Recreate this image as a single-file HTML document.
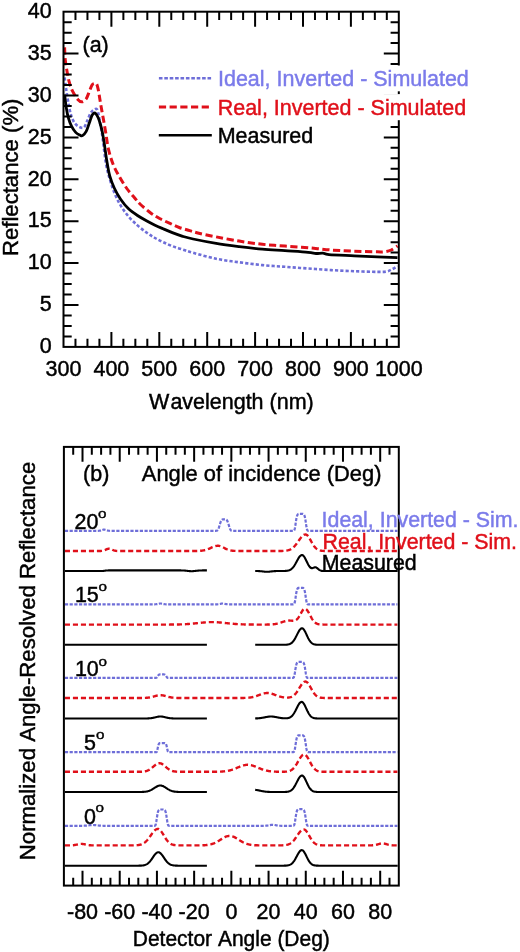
<!DOCTYPE html>
<html><head><meta charset="utf-8"><style>
html,body{margin:0;padding:0;background:#fff;}
svg{display:block;font-family:"Liberation Sans", sans-serif;will-change:transform}text{stroke-width:0.45px;font-kerning:none}
</style></head><body>
<svg width="520" height="952" viewBox="0 0 520 952">
<rect width="520" height="952" fill="#fff"/>
<path d="M64.60,77.50 C64.77,78.75 65.27,82.58 65.60,85.00 C65.93,87.42 66.12,88.92 66.60,92.00 C67.08,95.08 67.78,99.73 68.50,103.50 C69.22,107.27 69.88,111.35 70.90,114.60 C71.92,117.85 73.10,120.90 74.60,123.00 C76.10,125.10 78.32,126.50 79.90,127.20 C81.48,127.90 82.88,128.25 84.10,127.20 C85.32,126.15 86.15,123.18 87.20,120.90 C88.25,118.62 89.35,115.33 90.40,113.50 C91.45,111.67 92.40,110.60 93.50,109.90 C94.60,109.20 96.12,108.35 97.00,109.30 C97.88,110.25 98.25,113.15 98.80,115.60 C99.35,118.05 99.83,121.43 100.30,124.00 C100.77,126.57 101.12,127.92 101.60,131.00 C102.08,134.08 102.47,137.03 103.20,142.50 C103.93,147.97 104.90,157.68 106.00,163.80 C107.10,169.92 108.38,174.32 109.80,179.20 C111.22,184.08 112.70,188.73 114.50,193.10 C116.30,197.47 118.30,201.55 120.60,205.40 C122.90,209.25 125.48,212.87 128.30,216.20 C131.12,219.53 134.40,222.63 137.50,225.40 C140.60,228.17 143.98,230.70 146.90,232.80 C149.82,234.90 152.30,236.45 155.00,238.00 C157.70,239.55 160.22,240.75 163.10,242.10 C165.98,243.45 169.03,244.85 172.30,246.10 C175.57,247.35 179.23,248.48 182.70,249.60 C186.17,250.72 187.52,251.27 193.10,252.80 C198.68,254.33 208.52,257.22 216.20,258.80 C223.88,260.38 231.52,261.25 239.20,262.30 C246.88,263.35 254.67,264.35 262.30,265.10 C269.93,265.85 277.37,266.23 285.00,266.80 C292.63,267.37 300.40,267.95 308.10,268.50 C315.80,269.05 323.52,269.65 331.20,270.10 C338.88,270.55 346.52,270.90 354.20,271.20 C361.88,271.50 371.92,271.85 377.30,271.90 C382.68,271.95 384.00,271.95 386.50,271.50 C389.00,271.05 390.47,270.12 392.30,269.20 C394.13,268.28 396.63,266.53 397.50,266.00" fill="none" stroke="#6e6ed8" stroke-width="2.6" stroke-dasharray="3.2 2.1"/>
<path d="M64.60,47.40 C64.70,49.42 64.83,55.72 65.20,59.50 C65.57,63.28 66.17,66.48 66.80,70.10 C67.43,73.72 68.08,77.77 69.00,81.20 C69.92,84.63 70.83,87.67 72.30,90.70 C73.77,93.73 76.18,97.55 77.80,99.40 C79.42,101.25 80.60,101.90 82.00,101.80 C83.40,101.70 84.98,100.52 86.20,98.80 C87.42,97.08 88.35,93.77 89.30,91.50 C90.25,89.23 91.12,86.52 91.90,85.20 C92.68,83.88 93.23,83.83 94.00,83.60 C94.77,83.37 95.80,82.83 96.50,83.80 C97.20,84.77 97.65,86.90 98.20,89.40 C98.75,91.90 99.27,95.65 99.80,98.80 C100.33,101.95 100.78,104.80 101.40,108.30 C102.02,111.80 102.77,115.68 103.50,119.80 C104.23,123.92 105.00,128.22 105.80,133.00 C106.60,137.78 107.12,143.37 108.30,148.50 C109.48,153.63 111.10,159.18 112.90,163.80 C114.70,168.42 116.78,172.08 119.10,176.20 C121.42,180.32 124.23,184.92 126.80,188.50 C129.37,192.08 132.30,195.12 134.50,197.70 C136.70,200.28 137.35,201.50 140.00,204.00 C142.65,206.50 147.13,210.28 150.40,212.70 C153.67,215.12 156.33,216.72 159.60,218.50 C162.87,220.28 166.73,221.90 170.00,223.40 C173.27,224.90 175.93,226.30 179.20,227.50 C182.47,228.70 186.33,229.65 189.60,230.60 C192.87,231.55 194.37,232.15 198.80,233.20 C203.23,234.25 209.47,235.58 216.20,236.90 C222.93,238.22 231.52,239.87 239.20,241.10 C246.88,242.33 254.67,243.47 262.30,244.30 C269.93,245.13 277.37,245.53 285.00,246.10 C292.63,246.67 300.40,247.05 308.10,247.70 C315.80,248.35 323.52,249.42 331.20,250.00 C338.88,250.58 346.52,250.90 354.20,251.20 C361.88,251.50 372.30,251.70 377.30,251.80 C382.30,251.90 381.88,252.10 384.20,251.80 C386.52,251.50 388.98,250.97 391.20,250.00 C393.42,249.03 396.45,246.67 397.50,246.00" fill="none" stroke="#e0101a" stroke-width="3" stroke-dasharray="7.2 3.5"/>
<path d="M64.60,94.60 C64.87,96.70 65.58,103.35 66.20,107.20 C66.82,111.05 67.42,114.55 68.30,117.70 C69.18,120.85 70.27,123.65 71.50,126.10 C72.73,128.55 74.30,130.90 75.70,132.40 C77.10,133.90 78.77,134.57 79.90,135.10 C81.03,135.63 81.45,136.22 82.50,135.60 C83.55,134.98 85.07,133.50 86.20,131.40 C87.33,129.30 88.35,125.63 89.30,123.00 C90.25,120.37 91.15,117.22 91.90,115.60 C92.65,113.98 93.18,113.65 93.80,113.30 C94.42,112.95 94.87,112.77 95.60,113.50 C96.33,114.23 97.42,115.95 98.20,117.70 C98.98,119.45 99.62,121.62 100.30,124.00 C100.98,126.38 101.65,128.83 102.30,132.00 C102.95,135.17 103.45,138.20 104.20,143.00 C104.95,147.80 105.87,155.27 106.80,160.80 C107.73,166.33 108.52,171.58 109.80,176.20 C111.08,180.82 112.70,184.67 114.50,188.50 C116.30,192.33 118.30,195.87 120.60,199.20 C122.90,202.53 125.48,205.78 128.30,208.50 C131.12,211.22 134.40,213.42 137.50,215.50 C140.60,217.58 143.98,219.38 146.90,221.00 C149.82,222.62 152.30,223.90 155.00,225.20 C157.70,226.50 160.22,227.57 163.10,228.80 C165.98,230.03 169.03,231.35 172.30,232.60 C175.57,233.85 179.23,235.23 182.70,236.30 C186.17,237.37 187.52,237.82 193.10,239.00 C198.68,240.18 208.52,242.13 216.20,243.40 C223.88,244.67 231.52,245.63 239.20,246.60 C246.88,247.57 254.67,248.52 262.30,249.20 C269.93,249.88 277.37,250.18 285.00,250.70 C292.63,251.22 302.93,251.83 308.10,252.30 C313.27,252.77 313.55,253.37 316.00,253.50 C318.45,253.63 320.63,252.92 322.80,253.10 C324.97,253.28 323.77,254.15 329.00,254.60 C334.23,255.05 346.15,255.42 354.20,255.80 C362.25,256.18 370.08,256.60 377.30,256.90 C384.52,257.20 394.13,257.48 397.50,257.60" fill="none" stroke="#000" stroke-width="2.8"/>
<path d="M75.47,346.90V338.70M75.47,11.70V19.90M87.45,346.90V338.70M87.45,11.70V19.90M99.42,346.90V338.70M99.42,11.70V19.90M111.40,346.90V331.90M111.40,11.70V26.70M123.38,346.90V338.70M123.38,11.70V19.90M135.35,346.90V338.70M135.35,11.70V19.90M147.32,346.90V338.70M147.32,11.70V19.90M159.30,346.90V331.90M159.30,11.70V26.70M171.28,346.90V338.70M171.28,11.70V19.90M183.25,346.90V338.70M183.25,11.70V19.90M195.22,346.90V338.70M195.22,11.70V19.90M207.20,346.90V331.90M207.20,11.70V26.70M219.18,346.90V338.70M219.18,11.70V19.90M231.15,346.90V338.70M231.15,11.70V19.90M243.12,346.90V338.70M243.12,11.70V19.90M255.10,346.90V331.90M255.10,11.70V26.70M267.07,346.90V338.70M267.07,11.70V19.90M279.05,346.90V338.70M279.05,11.70V19.90M291.02,346.90V338.70M291.02,11.70V19.90M303.00,346.90V331.90M303.00,11.70V26.70M314.98,346.90V338.70M314.98,11.70V19.90M326.95,346.90V338.70M326.95,11.70V19.90M338.93,346.90V338.70M338.93,11.70V19.90M350.90,346.90V331.90M350.90,11.70V26.70M362.88,346.90V338.70M362.88,11.70V19.90M374.85,346.90V338.70M374.85,11.70V19.90M386.82,346.90V338.70M386.82,11.70V19.90M63.50,336.42H71.70M398.80,336.42H390.60M63.50,325.95H71.70M398.80,325.95H390.60M63.50,315.47H71.70M398.80,315.47H390.60M63.50,305.00H78.50M398.80,305.00H383.80M63.50,294.52H71.70M398.80,294.52H390.60M63.50,284.05H71.70M398.80,284.05H390.60M63.50,273.57H71.70M398.80,273.57H390.60M63.50,263.10H78.50M398.80,263.10H383.80M63.50,252.62H71.70M398.80,252.62H390.60M63.50,242.15H71.70M398.80,242.15H390.60M63.50,231.67H71.70M398.80,231.67H390.60M63.50,221.20H78.50M398.80,221.20H383.80M63.50,210.72H71.70M398.80,210.72H390.60M63.50,200.25H71.70M398.80,200.25H390.60M63.50,189.77H71.70M398.80,189.77H390.60M63.50,179.30H78.50M398.80,179.30H383.80M63.50,168.82H71.70M398.80,168.82H390.60M63.50,158.35H71.70M398.80,158.35H390.60M63.50,147.87H71.70M398.80,147.87H390.60M63.50,137.40H78.50M398.80,137.40H383.80M63.50,126.92H71.70M398.80,126.92H390.60M63.50,116.45H71.70M398.80,116.45H390.60M63.50,105.97H71.70M398.80,105.97H390.60M63.50,95.50H78.50M398.80,95.50H383.80M63.50,85.02H71.70M398.80,85.02H390.60M63.50,74.55H71.70M398.80,74.55H390.60M63.50,64.07H71.70M398.80,64.07H390.60M63.50,53.60H78.50M398.80,53.60H383.80M63.50,43.12H71.70M398.80,43.12H390.60M63.50,32.65H71.70M398.80,32.65H390.60M63.50,22.17H71.70M398.80,22.17H390.60" fill="none" stroke="#000" stroke-width="2"/>
<rect x="63.50" y="11.70" width="335.30" height="335.20" fill="none" stroke="#000" stroke-width="2"/>
<text transform="translate(63.50,376.00) scale(1,1.030)" text-anchor="middle" fill="#000" stroke="#000" font-size="21.50" >300</text>
<text transform="translate(111.40,376.00) scale(1,1.030)" text-anchor="middle" fill="#000" stroke="#000" font-size="21.50" >400</text>
<text transform="translate(159.30,376.00) scale(1,1.030)" text-anchor="middle" fill="#000" stroke="#000" font-size="21.50" >500</text>
<text transform="translate(207.20,376.00) scale(1,1.030)" text-anchor="middle" fill="#000" stroke="#000" font-size="21.50" >600</text>
<text transform="translate(255.10,376.00) scale(1,1.030)" text-anchor="middle" fill="#000" stroke="#000" font-size="21.50" >700</text>
<text transform="translate(303.00,376.00) scale(1,1.030)" text-anchor="middle" fill="#000" stroke="#000" font-size="21.50" >800</text>
<text transform="translate(350.90,376.00) scale(1,1.030)" text-anchor="middle" fill="#000" stroke="#000" font-size="21.50" >900</text>
<text transform="translate(398.80,376.00) scale(1,1.030)" text-anchor="middle" fill="#000" stroke="#000" font-size="21.50" >1000</text>
<text transform="translate(51.60,352.90) scale(1,1.030)" text-anchor="end" fill="#000" stroke="#000" font-size="21.50" >0</text>
<text transform="translate(51.60,311.05) scale(1,1.030)" text-anchor="end" fill="#000" stroke="#000" font-size="21.50" >5</text>
<text transform="translate(51.60,269.20) scale(1,1.030)" text-anchor="end" fill="#000" stroke="#000" font-size="21.50" >10</text>
<text transform="translate(51.60,227.35) scale(1,1.030)" text-anchor="end" fill="#000" stroke="#000" font-size="21.50" >15</text>
<text transform="translate(51.60,185.50) scale(1,1.030)" text-anchor="end" fill="#000" stroke="#000" font-size="21.50" >20</text>
<text transform="translate(51.60,143.65) scale(1,1.030)" text-anchor="end" fill="#000" stroke="#000" font-size="21.50" >25</text>
<text transform="translate(51.60,101.80) scale(1,1.030)" text-anchor="end" fill="#000" stroke="#000" font-size="21.50" >30</text>
<text transform="translate(51.60,59.95) scale(1,1.030)" text-anchor="end" fill="#000" stroke="#000" font-size="21.50" >35</text>
<text transform="translate(51.60,18.10) scale(1,1.030)" text-anchor="end" fill="#000" stroke="#000" font-size="21.50" >40</text>
<text transform="translate(231.30,408.80) scale(1,1.030)" text-anchor="middle" fill="#000" stroke="#000" font-size="21.50" >W<tspan dx="1.2">avelength (nm)</tspan></text>
<text transform="translate(18.3,177.3) rotate(-90) scale(1.030,1)" text-anchor="middle" stroke="#000" font-size="21.50">Reflectance (%)</text>
<text transform="translate(82.50,52.00) scale(1,1.030)" text-anchor="start" fill="#000" stroke="#000" font-size="21.50" >(a)</text>
<rect x="214" y="65.5" width="260" height="25.8" fill="#fff"/>
<rect x="214" y="94.1" width="260" height="26.1" fill="#fff"/>
<path d="M158.9,78.3H211.3" stroke="#6e6ed8" stroke-width="2.6" stroke-dasharray="3.6 1.8"/>
<path d="M158.9,107.0H211.3" stroke="#e0101a" stroke-width="3" stroke-dasharray="7.2 3.5"/>
<path d="M158.8,135.2H211.8" stroke="#000" stroke-width="2.5"/>
<text transform="translate(218.00,86.00) scale(1,1.030)" text-anchor="start" fill="#7b7bea" stroke="#7b7bea" font-size="21.50" >Ideal, Inverted - Simulated</text>
<text transform="translate(217.70,114.70) scale(1,1.030)" text-anchor="start" fill="#e0101a" stroke="#e0101a" font-size="21.50" >Real, Inverted - Simulated</text>
<text transform="translate(217.70,142.80) scale(1,1.030)" text-anchor="start" fill="#000" stroke="#000" font-size="21.50" >Measured</text>
<path d="M64.90,530.80 L65.40,530.80 L65.90,530.80 L66.40,530.80 L66.90,530.80 L67.40,530.80 L67.90,530.80 L68.40,530.80 L68.90,530.80 L69.40,530.80 L69.90,530.80 L70.40,530.80 L70.90,530.80 L71.40,530.80 L71.90,530.80 L72.40,530.80 L72.90,530.80 L73.40,530.80 L73.90,530.80 L74.40,530.80 L74.90,530.80 L75.40,530.80 L75.90,530.80 L76.40,530.80 L76.90,530.80 L77.40,530.80 L77.90,530.80 L78.40,530.80 L78.90,530.80 L79.40,530.80 L79.90,530.80 L80.40,530.80 L80.90,530.80 L81.40,530.80 L81.90,530.80 L82.40,530.80 L82.90,530.80 L83.40,530.80 L83.90,530.80 L84.40,530.80 L84.90,530.80 L85.40,530.80 L85.90,530.80 L86.40,530.80 L86.90,530.80 L87.40,530.80 L87.90,530.80 L88.40,530.80 L88.90,530.80 L89.40,530.80 L89.90,530.80 L90.40,530.80 L90.90,530.80 L91.40,530.80 L91.90,530.80 L92.40,530.80 L92.90,530.80 L93.40,530.80 L93.90,530.80 L94.40,530.80 L94.90,530.80 L95.40,530.80 L95.90,530.80 L96.40,530.80 L96.90,530.80 L97.40,530.79 L97.90,530.79 L98.40,530.78 L98.90,530.75 L99.40,530.71 L99.90,530.65 L100.40,530.56 L100.90,530.44 L101.40,530.28 L101.90,530.11 L102.40,529.93 L102.90,529.77 L103.40,529.65 L103.90,529.60 L104.40,529.62 L104.90,529.72 L105.40,529.86 L105.90,530.04 L106.40,530.22 L106.90,530.38 L107.40,530.52 L107.90,530.62 L108.40,530.69 L108.90,530.74 L109.40,530.77 L109.90,530.78 L110.40,530.79 L110.90,530.80 L111.40,530.80 L111.90,530.80 L112.40,530.80 L112.90,530.80 L113.40,530.80 L113.90,530.80 L114.40,530.80 L114.90,530.80 L115.40,530.80 L115.90,530.80 L116.40,530.80 L116.90,530.80 L117.40,530.80 L117.90,530.80 L118.40,530.80 L118.90,530.80 L119.40,530.80 L119.90,530.80 L120.40,530.80 L120.90,530.80 L121.40,530.80 L121.90,530.80 L122.40,530.80 L122.90,530.80 L123.40,530.80 L123.90,530.80 L124.40,530.80 L124.90,530.80 L125.40,530.80 L125.90,530.80 L126.40,530.80 L126.90,530.80 L127.40,530.80 L127.90,530.80 L128.40,530.80 L128.90,530.80 L129.40,530.80 L129.90,530.80 L130.40,530.80 L130.90,530.80 L131.40,530.80 L131.90,530.80 L132.40,530.80 L132.90,530.80 L133.40,530.80 L133.90,530.80 L134.40,530.80 L134.90,530.80 L135.40,530.80 L135.90,530.80 L136.40,530.80 L136.90,530.80 L137.40,530.80 L137.90,530.80 L138.40,530.80 L138.90,530.80 L139.40,530.80 L139.90,530.80 L140.40,530.80 L140.90,530.80 L141.40,530.80 L141.90,530.80 L142.40,530.80 L142.90,530.80 L143.40,530.80 L143.90,530.80 L144.40,530.80 L144.90,530.80 L145.40,530.80 L145.90,530.80 L146.40,530.80 L146.90,530.80 L147.40,530.80 L147.90,530.80 L148.40,530.80 L148.90,530.80 L149.40,530.80 L149.90,530.80 L150.40,530.80 L150.90,530.80 L151.40,530.80 L151.90,530.80 L152.40,530.80 L152.90,530.80 L153.40,530.80 L153.90,530.80 L154.40,530.80 L154.90,530.80 L155.40,530.80 L155.90,530.80 L156.40,530.80 L156.90,530.80 L157.40,530.80 L157.90,530.80 L158.40,530.80 L158.90,530.80 L159.40,530.80 L159.90,530.80 L160.40,530.80 L160.90,530.80 L161.40,530.80 L161.90,530.80 L162.40,530.80 L162.90,530.80 L163.40,530.80 L163.90,530.80 L164.40,530.80 L164.90,530.80 L165.40,530.80 L165.90,530.80 L166.40,530.80 L166.90,530.80 L167.40,530.80 L167.90,530.80 L168.40,530.80 L168.90,530.80 L169.40,530.80 L169.90,530.80 L170.40,530.80 L170.90,530.80 L171.40,530.80 L171.90,530.80 L172.40,530.80 L172.90,530.80 L173.40,530.80 L173.90,530.80 L174.40,530.80 L174.90,530.80 L175.40,530.80 L175.90,530.80 L176.40,530.80 L176.90,530.80 L177.40,530.80 L177.90,530.80 L178.40,530.80 L178.90,530.80 L179.40,530.80 L179.90,530.80 L180.40,530.80 L180.90,530.80 L181.40,530.80 L181.90,530.80 L182.40,530.80 L182.90,530.80 L183.40,530.80 L183.90,530.80 L184.40,530.80 L184.90,530.80 L185.40,530.80 L185.90,530.80 L186.40,530.80 L186.90,530.80 L187.40,530.80 L187.90,530.80 L188.40,530.80 L188.90,530.80 L189.40,530.80 L189.90,530.80 L190.40,530.80 L190.90,530.80 L191.40,530.80 L191.90,530.80 L192.40,530.80 L192.90,530.80 L193.40,530.80 L193.90,530.80 L194.40,530.80 L194.90,530.80 L195.40,530.80 L195.90,530.80 L196.40,530.80 L196.90,530.80 L197.40,530.80 L197.90,530.80 L198.40,530.80 L198.90,530.80 L199.40,530.80 L199.90,530.80 L200.40,530.80 L200.90,530.80 L201.40,530.80 L201.90,530.80 L202.40,530.80 L202.90,530.80 L203.40,530.80 L203.90,530.80 L204.40,530.80 L204.90,530.80 L205.40,530.80 L205.90,530.80 L206.40,530.80 L206.90,530.80 L207.40,530.80 L207.90,530.80 L208.40,530.80 L208.90,530.80 L209.40,530.80 L209.90,530.80 L210.40,530.80 L210.90,530.80 L211.40,530.80 L211.90,530.80 L212.40,530.80 L212.90,530.80 L213.40,530.80 L213.90,530.80 L214.40,530.80 L214.90,530.80 L215.40,530.80 L215.90,530.79 L216.40,530.77 L216.90,530.68 L217.40,530.42 L217.90,529.88 L218.40,528.92 L218.90,527.55 L219.40,525.88 L219.90,524.15 L220.40,522.56 L220.90,521.29 L221.40,520.38 L221.90,519.80 L222.40,519.49 L222.90,519.35 L223.40,519.31 L223.90,519.30 L224.40,519.30 L224.90,519.30 L225.40,519.34 L225.90,519.45 L226.40,519.72 L226.90,520.24 L227.40,521.08 L227.90,522.28 L228.40,523.81 L228.90,525.53 L229.40,527.23 L229.90,528.68 L230.40,529.72 L230.90,530.34 L231.40,530.64 L231.90,530.76 L232.40,530.79 L232.90,530.80 L233.40,530.80 L233.90,530.80 L234.40,530.80 L234.90,530.80 L235.40,530.80 L235.90,530.80 L236.40,530.80 L236.90,530.80 L237.40,530.80 L237.90,530.80 L238.40,530.80 L238.90,530.80 L239.40,530.80 L239.90,530.80 L240.40,530.80 L240.90,530.80 L241.40,530.80 L241.90,530.80 L242.40,530.80 L242.90,530.80 L243.40,530.80 L243.90,530.80 L244.40,530.80 L244.90,530.80 L245.40,530.80 L245.90,530.80 L246.40,530.80 L246.90,530.80 L247.40,530.80 L247.90,530.80 L248.40,530.80 L248.90,530.80 L249.40,530.80 L249.90,530.80 L250.40,530.80 L250.90,530.80 L251.40,530.80 L251.90,530.80 L252.40,530.80 L252.90,530.80 L253.40,530.80 L253.90,530.80 L254.40,530.80 L254.90,530.80 L255.40,530.80 L255.90,530.80 L256.40,530.80 L256.90,530.80 L257.40,530.80 L257.90,530.80 L258.40,530.80 L258.90,530.80 L259.40,530.80 L259.90,530.80 L260.40,530.80 L260.90,530.80 L261.40,530.80 L261.90,530.80 L262.40,530.80 L262.90,530.80 L263.40,530.80 L263.90,530.80 L264.40,530.80 L264.90,530.80 L265.40,530.80 L265.90,530.80 L266.40,530.80 L266.90,530.80 L267.40,530.80 L267.90,530.80 L268.40,530.80 L268.90,530.80 L269.40,530.80 L269.90,530.80 L270.40,530.80 L270.90,530.80 L271.40,530.80 L271.90,530.80 L272.40,530.80 L272.90,530.80 L273.40,530.80 L273.90,530.80 L274.40,530.80 L274.90,530.80 L275.40,530.80 L275.90,530.80 L276.40,530.80 L276.90,530.80 L277.40,530.80 L277.90,530.80 L278.40,530.80 L278.90,530.80 L279.40,530.80 L279.90,530.80 L280.40,530.80 L280.90,530.80 L281.40,530.80 L281.90,530.80 L282.40,530.80 L282.90,530.80 L283.40,530.80 L283.90,530.80 L284.40,530.80 L284.90,530.80 L285.40,530.80 L285.90,530.80 L286.40,530.80 L286.90,530.80 L287.40,530.80 L287.90,530.80 L288.40,530.80 L288.90,530.80 L289.40,530.80 L289.90,530.80 L290.40,530.80 L290.90,530.80 L291.40,530.80 L291.90,530.80 L292.40,530.80 L292.90,530.80 L293.40,530.79 L293.90,530.67 L294.40,530.03 L294.90,528.27 L295.40,525.25 L295.90,521.70 L296.40,518.55 L296.90,516.30 L297.40,514.94 L297.90,514.25 L298.40,513.95 L298.90,513.84 L299.40,513.81 L299.90,513.80 L300.40,513.80 L300.90,513.80 L301.40,513.80 L301.90,513.80 L302.40,513.81 L302.90,513.87 L303.40,514.04 L303.90,514.47 L304.40,515.39 L304.90,517.08 L305.40,519.71 L305.90,523.11 L306.40,526.57 L306.90,529.14 L307.40,530.39 L307.90,530.75 L308.40,530.80 L308.90,530.80 L309.40,530.80 L309.90,530.80 L310.40,530.80 L310.90,530.80 L311.40,530.80 L311.90,530.80 L312.40,530.80 L312.90,530.80 L313.40,530.80 L313.90,530.80 L314.40,530.80 L314.90,530.80 L315.40,530.80 L315.90,530.80 L316.40,530.80 L316.90,530.80 L317.40,530.80 L317.90,530.80 L318.40,530.80 L318.90,530.80 L319.40,530.80 L319.90,530.80 L320.40,530.80 L320.90,530.80 L321.40,530.80 L321.90,530.80 L322.40,530.80 L322.90,530.80 L323.40,530.80 L323.90,530.80 L324.40,530.80 L324.90,530.80 L325.40,530.80 L325.90,530.80 L326.40,530.80 L326.90,530.80 L327.40,530.80 L327.90,530.80 L328.40,530.80 L328.90,530.80 L329.40,530.80 L329.90,530.80 L330.40,530.80 L330.90,530.80 L331.40,530.80 L331.90,530.80 L332.40,530.80 L332.90,530.80 L333.40,530.80 L333.90,530.80 L334.40,530.80 L334.90,530.80 L335.40,530.80 L335.90,530.80 L336.40,530.80 L336.90,530.80 L337.40,530.80 L337.90,530.80 L338.40,530.80 L338.90,530.80 L339.40,530.80 L339.90,530.80 L340.40,530.80 L340.90,530.80 L341.40,530.80 L341.90,530.80 L342.40,530.80 L342.90,530.80 L343.40,530.80 L343.90,530.80 L344.40,530.80 L344.90,530.80 L345.40,530.80 L345.90,530.80 L346.40,530.80 L346.90,530.80 L347.40,530.80 L347.90,530.80 L348.40,530.80 L348.90,530.80 L349.40,530.80 L349.90,530.80 L350.40,530.80 L350.90,530.80 L351.40,530.80 L351.90,530.80 L352.40,530.80 L352.90,530.80 L353.40,530.80 L353.90,530.80 L354.40,530.80 L354.90,530.80 L355.40,530.80 L355.90,530.80 L356.40,530.80 L356.90,530.80 L357.40,530.80 L357.90,530.80 L358.40,530.80 L358.90,530.80 L359.40,530.80 L359.90,530.80 L360.40,530.80 L360.90,530.80 L361.40,530.80 L361.90,530.80 L362.40,530.80 L362.90,530.80 L363.40,530.80 L363.90,530.80 L364.40,530.80 L364.90,530.80 L365.40,530.80 L365.90,530.80 L366.40,530.80 L366.90,530.80 L367.40,530.80 L367.90,530.80 L368.40,530.80 L368.90,530.80 L369.40,530.80 L369.90,530.80 L370.40,530.80 L370.90,530.80 L371.40,530.80 L371.90,530.80 L372.40,530.80 L372.90,530.80 L373.40,530.80 L373.90,530.80 L374.40,530.80 L374.90,530.80 L375.40,530.80 L375.90,530.80 L376.40,530.80 L376.90,530.80 L377.40,530.80 L377.90,530.80 L378.40,530.80 L378.90,530.80 L379.40,530.80 L379.90,530.80 L380.40,530.80 L380.90,530.80 L381.40,530.80 L381.90,530.80 L382.40,530.80 L382.90,530.80 L383.40,530.80 L383.90,530.80 L384.40,530.80 L384.90,530.80 L385.40,530.80 L385.90,530.80 L386.40,530.80 L386.90,530.80 L387.40,530.80 L387.90,530.80 L388.40,530.80 L388.90,530.80 L389.40,530.80 L389.90,530.80 L390.40,530.80 L390.90,530.80 L391.40,530.80 L391.90,530.80 L392.40,530.80 L392.90,530.80 L393.40,530.80 L393.90,530.80 L394.40,530.80 L394.90,530.80 L395.40,530.80 L395.90,530.80 L396.40,530.80 L396.90,530.80 L397.40,530.80" fill="none" stroke="#6e6ed8" stroke-width="2.2" stroke-dasharray="3.2 1.5"/>
<path d="M64.90,551.00 L65.40,551.00 L65.90,551.00 L66.40,551.00 L66.90,551.00 L67.40,551.00 L67.90,551.00 L68.40,551.00 L68.90,551.00 L69.40,551.00 L69.90,551.00 L70.40,551.00 L70.90,551.00 L71.40,551.00 L71.90,551.00 L72.40,551.00 L72.90,551.00 L73.40,551.00 L73.90,551.00 L74.40,551.00 L74.90,551.00 L75.40,551.00 L75.90,551.00 L76.40,551.00 L76.90,551.00 L77.40,551.00 L77.90,551.00 L78.40,551.00 L78.90,551.00 L79.40,551.00 L79.90,551.00 L80.40,551.00 L80.90,551.00 L81.40,551.00 L81.90,551.00 L82.40,551.00 L82.90,551.00 L83.40,551.00 L83.90,551.00 L84.40,551.00 L84.90,551.00 L85.40,551.00 L85.90,551.00 L86.40,551.00 L86.90,551.00 L87.40,551.00 L87.90,551.00 L88.40,551.00 L88.90,551.00 L89.40,551.00 L89.90,551.00 L90.40,551.00 L90.90,551.00 L91.40,551.00 L91.90,551.00 L92.40,551.00 L92.90,551.00 L93.40,551.00 L93.90,551.00 L94.40,551.00 L94.90,551.00 L95.40,551.00 L95.90,551.00 L96.40,551.00 L96.90,551.00 L97.40,551.00 L97.90,551.00 L98.40,551.00 L98.90,550.99 L99.40,550.99 L99.90,550.98 L100.40,550.96 L100.90,550.94 L101.40,550.91 L101.90,550.86 L102.40,550.80 L102.90,550.71 L103.40,550.60 L103.90,550.46 L104.40,550.29 L104.90,550.10 L105.40,549.88 L105.90,549.65 L106.40,549.42 L106.90,549.20 L107.40,549.00 L107.90,548.85 L108.40,548.75 L108.90,548.70 L109.40,548.72 L109.90,548.80 L110.40,548.94 L110.90,549.12 L111.40,549.33 L111.90,549.56 L112.40,549.79 L112.90,550.01 L113.40,550.22 L113.90,550.39 L114.40,550.54 L114.90,550.67 L115.40,550.76 L115.90,550.84 L116.40,550.89 L116.90,550.93 L117.40,550.95 L117.90,550.97 L118.40,550.98 L118.90,550.99 L119.40,550.99 L119.90,551.00 L120.40,551.00 L120.90,551.00 L121.40,551.00 L121.90,551.00 L122.40,551.00 L122.90,551.00 L123.40,551.00 L123.90,551.00 L124.40,551.00 L124.90,551.00 L125.40,551.00 L125.90,551.00 L126.40,551.00 L126.90,551.00 L127.40,551.00 L127.90,551.00 L128.40,551.00 L128.90,551.00 L129.40,551.00 L129.90,551.00 L130.40,551.00 L130.90,551.00 L131.40,551.00 L131.90,551.00 L132.40,551.00 L132.90,551.00 L133.40,551.00 L133.90,551.00 L134.40,551.00 L134.90,551.00 L135.40,551.00 L135.90,551.00 L136.40,551.00 L136.90,551.00 L137.40,551.00 L137.90,551.00 L138.40,551.00 L138.90,551.00 L139.40,551.00 L139.90,551.00 L140.40,551.00 L140.90,551.00 L141.40,551.00 L141.90,551.00 L142.40,551.00 L142.90,551.00 L143.40,551.00 L143.90,551.00 L144.40,551.00 L144.90,551.00 L145.40,551.00 L145.90,551.00 L146.40,551.00 L146.90,551.00 L147.40,551.00 L147.90,551.00 L148.40,551.00 L148.90,551.00 L149.40,551.00 L149.90,551.00 L150.40,551.00 L150.90,551.00 L151.40,551.00 L151.90,551.00 L152.40,551.00 L152.90,551.00 L153.40,551.00 L153.90,551.00 L154.40,551.00 L154.90,551.00 L155.40,551.00 L155.90,551.00 L156.40,551.00 L156.90,551.00 L157.40,551.00 L157.90,551.00 L158.40,551.00 L158.90,551.00 L159.40,551.00 L159.90,551.00 L160.40,551.00 L160.90,551.00 L161.40,551.00 L161.90,551.00 L162.40,551.00 L162.90,551.00 L163.40,551.00 L163.90,551.00 L164.40,551.00 L164.90,551.00 L165.40,551.00 L165.90,551.00 L166.40,551.00 L166.90,551.00 L167.40,551.00 L167.90,551.00 L168.40,551.00 L168.90,551.00 L169.40,551.00 L169.90,551.00 L170.40,551.00 L170.90,551.00 L171.40,551.00 L171.90,551.00 L172.40,551.00 L172.90,551.00 L173.40,551.00 L173.90,551.00 L174.40,551.00 L174.90,551.00 L175.40,551.00 L175.90,551.00 L176.40,551.00 L176.90,551.00 L177.40,551.00 L177.90,551.00 L178.40,551.00 L178.90,551.00 L179.40,551.00 L179.90,551.00 L180.40,551.00 L180.90,551.00 L181.40,551.00 L181.90,551.00 L182.40,551.00 L182.90,551.00 L183.40,551.00 L183.90,551.00 L184.40,551.00 L184.90,551.00 L185.40,551.00 L185.90,551.00 L186.40,551.00 L186.90,551.00 L187.40,551.00 L187.90,551.00 L188.40,551.00 L188.90,551.00 L189.40,551.00 L189.90,551.00 L190.40,551.00 L190.90,551.00 L191.40,551.00 L191.90,551.00 L192.40,550.99 L192.90,550.99 L193.40,550.99 L193.90,550.99 L194.40,550.98 L194.90,550.98 L195.40,550.97 L195.90,550.96 L196.40,550.96 L196.90,550.94 L197.40,550.93 L197.90,550.92 L198.40,550.90 L198.90,550.87 L199.40,550.85 L199.90,550.82 L200.40,550.78 L200.90,550.74 L201.40,550.69 L201.90,550.63 L202.40,550.57 L202.90,550.49 L203.40,550.41 L203.90,550.32 L204.40,550.21 L204.90,550.10 L205.40,549.97 L205.90,549.83 L206.40,549.68 L206.90,549.52 L207.40,549.35 L207.90,549.16 L208.40,548.97 L208.90,548.77 L209.40,548.56 L209.90,548.34 L210.40,548.12 L210.90,547.89 L211.40,547.67 L211.90,547.44 L212.40,547.22 L212.90,547.01 L213.40,546.81 L213.90,546.62 L214.40,546.44 L214.90,546.29 L215.40,546.15 L215.90,546.03 L216.40,545.93 L216.90,545.86 L217.40,545.82 L217.90,545.80 L218.40,545.81 L218.90,545.86 L219.40,545.94 L219.90,546.05 L220.40,546.20 L220.90,546.37 L221.40,546.57 L221.90,546.79 L222.40,547.03 L222.90,547.27 L223.40,547.53 L223.90,547.79 L224.40,548.06 L224.90,548.32 L225.40,548.57 L225.90,548.81 L226.40,549.05 L226.90,549.27 L227.40,549.48 L227.90,549.67 L228.40,549.84 L228.90,550.00 L229.40,550.14 L229.90,550.27 L230.40,550.39 L230.90,550.48 L231.40,550.57 L231.90,550.64 L232.40,550.71 L232.90,550.76 L233.40,550.81 L233.90,550.84 L234.40,550.88 L234.90,550.90 L235.40,550.92 L235.90,550.94 L236.40,550.95 L236.90,550.96 L237.40,550.97 L237.90,550.98 L238.40,550.98 L238.90,550.99 L239.40,550.99 L239.90,550.99 L240.40,551.00 L240.90,551.00 L241.40,551.00 L241.90,551.00 L242.40,551.00 L242.90,551.00 L243.40,551.00 L243.90,551.00 L244.40,551.00 L244.90,551.00 L245.40,551.00 L245.90,551.00 L246.40,551.00 L246.90,551.00 L247.40,551.00 L247.90,551.00 L248.40,551.00 L248.90,551.00 L249.40,551.00 L249.90,551.00 L250.40,551.00 L250.90,551.00 L251.40,551.00 L251.90,551.00 L252.40,551.00 L252.90,551.00 L253.40,551.00 L253.90,551.00 L254.40,551.00 L254.90,551.00 L255.40,551.00 L255.90,551.00 L256.40,551.00 L256.90,551.00 L257.40,551.00 L257.90,551.00 L258.40,551.00 L258.90,551.00 L259.40,551.00 L259.90,551.00 L260.40,551.00 L260.90,551.00 L261.40,551.00 L261.90,551.00 L262.40,551.00 L262.90,551.00 L263.40,551.00 L263.90,551.00 L264.40,551.00 L264.90,551.00 L265.40,551.00 L265.90,551.00 L266.40,551.00 L266.90,551.00 L267.40,551.00 L267.90,551.00 L268.40,551.00 L268.90,551.00 L269.40,551.00 L269.90,551.00 L270.40,551.00 L270.90,551.00 L271.40,551.00 L271.90,551.00 L272.40,551.00 L272.90,551.00 L273.40,551.00 L273.90,551.00 L274.40,551.00 L274.90,551.00 L275.40,551.00 L275.90,551.00 L276.40,551.00 L276.90,551.00 L277.40,550.99 L277.90,550.99 L278.40,550.99 L278.90,550.99 L279.40,550.98 L279.90,550.98 L280.40,550.97 L280.90,550.97 L281.40,550.96 L281.90,550.94 L282.40,550.93 L282.90,550.91 L283.40,550.89 L283.90,550.86 L284.40,550.82 L284.90,550.78 L285.40,550.73 L285.90,550.67 L286.40,550.60 L286.90,550.52 L287.40,550.42 L287.90,550.30 L288.40,550.17 L288.90,550.01 L289.40,549.83 L289.90,549.62 L290.40,549.39 L290.90,549.13 L291.40,548.83 L291.90,548.50 L292.40,548.14 L292.90,547.73 L293.40,547.30 L293.90,546.82 L294.40,546.31 L294.90,545.76 L295.40,545.17 L295.90,544.56 L296.40,543.91 L296.90,543.24 L297.40,542.55 L297.90,541.85 L298.40,541.14 L298.90,540.42 L299.40,539.71 L299.90,539.02 L300.40,538.35 L300.90,537.70 L301.40,537.10 L301.90,536.54 L302.40,536.04 L302.90,535.60 L303.40,535.23 L303.90,534.93 L304.40,534.70 L304.90,534.56 L305.40,534.50 L305.90,534.54 L306.40,534.72 L306.90,535.03 L307.40,535.46 L307.90,536.00 L308.40,536.64 L308.90,537.37 L309.40,538.17 L309.90,539.02 L310.40,539.90 L310.90,540.81 L311.40,541.72 L311.90,542.62 L312.40,543.49 L312.90,544.33 L313.40,545.12 L313.90,545.86 L314.40,546.54 L314.90,547.17 L315.40,547.73 L315.90,548.24 L316.40,548.68 L316.90,549.07 L317.40,549.41 L317.90,549.70 L318.40,549.95 L318.90,550.15 L319.40,550.32 L319.90,550.46 L320.40,550.58 L320.90,550.67 L321.40,550.75 L321.90,550.81 L322.40,550.85 L322.90,550.89 L323.40,550.92 L323.90,550.94 L324.40,550.95 L324.90,550.97 L325.40,550.98 L325.90,550.98 L326.40,550.99 L326.90,550.99 L327.40,550.99 L327.90,551.00 L328.40,551.00 L328.90,551.00 L329.40,551.00 L329.90,551.00 L330.40,551.00 L330.90,551.00 L331.40,551.00 L331.90,551.00 L332.40,551.00 L332.90,551.00 L333.40,551.00 L333.90,551.00 L334.40,551.00 L334.90,551.00 L335.40,551.00 L335.90,551.00 L336.40,551.00 L336.90,551.00 L337.40,551.00 L337.90,551.00 L338.40,551.00 L338.90,551.00 L339.40,551.00 L339.90,551.00 L340.40,551.00 L340.90,551.00 L341.40,551.00 L341.90,551.00 L342.40,551.00 L342.90,551.00 L343.40,551.00 L343.90,551.00 L344.40,551.00 L344.90,551.00 L345.40,551.00 L345.90,551.00 L346.40,551.00 L346.90,551.00 L347.40,551.00 L347.90,551.00 L348.40,551.00 L348.90,551.00 L349.40,551.00 L349.90,551.00 L350.40,551.00 L350.90,551.00 L351.40,551.00 L351.90,551.00 L352.40,551.00 L352.90,551.00 L353.40,551.00 L353.90,551.00 L354.40,551.00 L354.90,551.00 L355.40,551.00 L355.90,551.00 L356.40,551.00 L356.90,551.00 L357.40,551.00 L357.90,551.00 L358.40,551.00 L358.90,551.00 L359.40,551.00 L359.90,551.00 L360.40,551.00 L360.90,551.00 L361.40,551.00 L361.90,551.00 L362.40,551.00 L362.90,551.00 L363.40,551.00 L363.90,551.00 L364.40,551.00 L364.90,551.00 L365.40,551.00 L365.90,551.00 L366.40,551.00 L366.90,551.00 L367.40,551.00 L367.90,551.00 L368.40,551.00 L368.90,551.00 L369.40,551.00 L369.90,551.00 L370.40,551.00 L370.90,551.00 L371.40,551.00 L371.90,551.00 L372.40,551.00 L372.90,551.00 L373.40,551.00 L373.90,551.00 L374.40,551.00 L374.90,551.00 L375.40,551.00 L375.90,551.00 L376.40,551.00 L376.90,551.00 L377.40,551.00 L377.90,551.00 L378.40,551.00 L378.90,551.00 L379.40,551.00 L379.90,551.00 L380.40,551.00 L380.90,551.00 L381.40,551.00 L381.90,551.00 L382.40,551.00 L382.90,551.00 L383.40,551.00 L383.90,551.00 L384.40,551.00 L384.90,551.00 L385.40,551.00 L385.90,551.00 L386.40,551.00 L386.90,551.00 L387.40,551.00 L387.90,551.00 L388.40,551.00 L388.90,551.00 L389.40,551.00 L389.90,551.00 L390.40,551.00 L390.90,551.00 L391.40,551.00 L391.90,551.00 L392.40,551.00 L392.90,551.00 L393.40,551.00 L393.90,551.00 L394.40,551.00 L394.90,551.00 L395.40,551.00 L395.90,551.00 L396.40,551.00 L396.90,551.00 L397.40,551.00" fill="none" stroke="#e0101a" stroke-width="2.4" stroke-dasharray="5.1 2.9"/>
<path d="M64.90,571.00 L65.40,571.00 L65.90,571.00 L66.40,571.00 L66.90,571.00 L67.40,571.00 L67.90,571.00 L68.40,571.00 L68.90,571.00 L69.40,571.00 L69.90,571.00 L70.40,571.00 L70.90,571.00 L71.40,571.00 L71.90,571.00 L72.40,571.00 L72.90,571.00 L73.40,571.00 L73.90,571.00 L74.40,571.00 L74.90,571.00 L75.40,571.00 L75.90,571.00 L76.40,571.00 L76.90,571.00 L77.40,571.00 L77.90,571.00 L78.40,571.00 L78.90,571.00 L79.40,571.00 L79.90,571.00 L80.40,571.00 L80.90,571.00 L81.40,571.00 L81.90,571.00 L82.40,571.00 L82.90,571.00 L83.40,571.00 L83.90,571.00 L84.40,571.00 L84.90,571.00 L85.40,571.00 L85.90,571.00 L86.40,571.00 L86.90,571.00 L87.40,571.00 L87.90,571.00 L88.40,571.00 L88.90,571.00 L89.40,571.00 L89.90,571.00 L90.40,571.00 L90.90,571.00 L91.40,571.00 L91.90,571.00 L92.40,571.00 L92.90,571.00 L93.40,571.00 L93.90,571.00 L94.40,571.00 L94.90,571.00 L95.40,571.00 L95.90,571.00 L96.40,571.00 L96.90,571.00 L97.40,571.00 L97.90,571.00 L98.40,571.00 L98.90,571.00 L99.40,571.00 L99.90,571.00 L100.40,570.99 L100.90,570.99 L101.40,570.98 L101.90,570.97 L102.40,570.96 L102.90,570.93 L103.40,570.90 L103.90,570.85 L104.40,570.79 L104.90,570.71 L105.40,570.64 L105.90,570.57 L106.40,570.52 L106.90,570.48 L107.40,570.45 L107.90,570.43 L108.40,570.42 L108.90,570.41 L109.40,570.41 L109.90,570.40 L110.40,570.40 L110.90,570.40 L111.40,570.40 L111.90,570.40 L112.40,570.40 L112.90,570.40 L113.40,570.40 L113.90,570.40 L114.40,570.40 L114.90,570.40 L115.40,570.40 L115.90,570.40 L116.40,570.40 L116.90,570.40 L117.40,570.40 L117.90,570.40 L118.40,570.40 L118.90,570.40 L119.40,570.40 L119.90,570.40 L120.40,570.40 L120.90,570.40 L121.40,570.40 L121.90,570.40 L122.40,570.40 L122.90,570.40 L123.40,570.40 L123.90,570.40 L124.40,570.40 L124.90,570.40 L125.40,570.40 L125.90,570.40 L126.40,570.40 L126.90,570.40 L127.40,570.40 L127.90,570.40 L128.40,570.40 L128.90,570.40 L129.40,570.40 L129.90,570.40 L130.40,570.40 L130.90,570.40 L131.40,570.40 L131.90,570.40 L132.40,570.40 L132.90,570.40 L133.40,570.40 L133.90,570.40 L134.40,570.40 L134.90,570.40 L135.40,570.40 L135.90,570.40 L136.40,570.40 L136.90,570.40 L137.40,570.40 L137.90,570.40 L138.40,570.40 L138.90,570.40 L139.40,570.40 L139.90,570.40 L140.40,570.40 L140.90,570.40 L141.40,570.40 L141.90,570.40 L142.40,570.40 L142.90,570.40 L143.40,570.40 L143.90,570.40 L144.40,570.40 L144.90,570.40 L145.40,570.40 L145.90,570.40 L146.40,570.40 L146.90,570.40 L147.40,570.40 L147.90,570.40 L148.40,570.40 L148.90,570.40 L149.40,570.40 L149.90,570.40 L150.40,570.40 L150.90,570.40 L151.40,570.40 L151.90,570.40 L152.40,570.40 L152.90,570.40 L153.40,570.40 L153.90,570.40 L154.40,570.40 L154.90,570.40 L155.40,570.40 L155.90,570.40 L156.40,570.40 L156.90,570.40 L157.40,570.40 L157.90,570.40 L158.40,570.40 L158.90,570.40 L159.40,570.40 L159.90,570.40 L160.40,570.40 L160.90,570.40 L161.40,570.40 L161.90,570.40 L162.40,570.40 L162.90,570.40 L163.40,570.40 L163.90,570.40 L164.40,570.40 L164.90,570.40 L165.40,570.40 L165.90,570.40 L166.40,570.40 L166.90,570.40 L167.40,570.40 L167.90,570.40 L168.40,570.40 L168.90,570.40 L169.40,570.40 L169.90,570.40 L170.40,570.40 L170.90,570.40 L171.40,570.40 L171.90,570.40 L172.40,570.40 L172.90,570.40 L173.40,570.40 L173.90,570.40 L174.40,570.40 L174.90,570.40 L175.40,570.40 L175.90,570.40 L176.40,570.40 L176.90,570.40 L177.40,570.40 L177.90,570.40 L178.40,570.40 L178.90,570.41 L179.40,570.41 L179.90,570.41 L180.40,570.42 L180.90,570.42 L181.40,570.43 L181.90,570.44 L182.40,570.46 L182.90,570.48 L183.40,570.50 L183.90,570.53 L184.40,570.57 L184.90,570.61 L185.40,570.65 L185.90,570.70 L186.40,570.75 L186.90,570.81 L187.40,570.87 L187.90,570.93 L188.40,570.99 L188.90,571.05 L189.40,571.10 L189.90,571.14 L190.40,571.17 L190.90,571.19 L191.40,571.20 L191.90,571.20 L192.40,571.18 L192.90,571.15 L193.40,571.11 L193.90,571.07 L194.40,571.02 L194.90,570.96 L195.40,570.90 L195.90,570.84 L196.40,570.78 L196.90,570.72 L197.40,570.67 L197.90,570.62 L198.40,570.58 L198.90,570.54 L199.40,570.51 L199.90,570.49 L200.40,570.47 L200.90,570.45 L201.40,570.44 L201.90,570.43 L202.40,570.42 L202.90,570.41 L203.40,570.41 L203.90,570.41 L204.40,570.40 L204.90,570.40 L205.40,570.40 L205.90,570.40 L206.40,570.40 L206.90,570.40" fill="none" stroke="#000" stroke-width="2.1"/>
<path d="M255.20,571.01 L255.70,571.01 L256.20,571.02 L256.70,571.03 L257.20,571.04 L257.70,571.05 L258.20,571.07 L258.70,571.09 L259.20,571.12 L259.70,571.15 L260.20,571.19 L260.70,571.23 L261.20,571.28 L261.70,571.33 L262.20,571.39 L262.70,571.45 L263.20,571.51 L263.70,571.57 L264.20,571.63 L264.70,571.68 L265.20,571.72 L265.70,571.76 L266.20,571.78 L266.70,571.80 L267.20,571.80 L267.70,571.79 L268.20,571.76 L268.70,571.73 L269.20,571.69 L269.70,571.64 L270.20,571.58 L270.70,571.52 L271.20,571.46 L271.70,571.40 L272.20,571.34 L272.70,571.29 L273.20,571.24 L273.70,571.20 L274.20,571.16 L274.70,571.13 L275.20,571.10 L275.70,571.08 L276.20,571.06 L276.70,571.04 L277.20,571.03 L277.70,571.02 L278.20,571.02 L278.70,571.01 L279.20,571.01 L279.70,571.00 L280.20,571.00 L280.70,571.00 L281.20,571.00 L281.70,570.99 L282.20,570.99 L282.70,570.98 L283.20,570.98 L283.70,570.97 L284.20,570.95 L284.70,570.94 L285.20,570.91 L285.70,570.88 L286.20,570.84 L286.70,570.79 L287.20,570.72 L287.70,570.64 L288.20,570.53 L288.70,570.39 L289.20,570.23 L289.70,570.02 L290.20,569.78 L290.70,569.49 L291.20,569.15 L291.70,568.75 L292.20,568.29 L292.70,567.77 L293.20,567.18 L293.70,566.52 L294.20,565.81 L294.70,565.03 L295.20,564.20 L295.70,563.32 L296.20,562.41 L296.70,561.48 L297.20,560.55 L297.70,559.63 L298.20,558.75 L298.70,557.92 L299.20,557.16 L299.70,556.49 L300.20,555.93 L300.70,555.49 L301.20,555.19 L301.70,555.03 L302.20,555.02 L302.70,555.18 L303.20,555.54 L303.70,556.06 L304.20,556.73 L304.70,557.53 L305.20,558.44 L305.70,559.42 L306.20,560.45 L306.70,561.50 L307.20,562.54 L307.70,563.55 L308.20,564.50 L308.70,565.37 L309.20,566.15 L309.70,566.82 L310.20,567.36 L310.70,567.77 L311.20,568.04 L311.70,568.17 L312.20,568.17 L312.70,568.06 L313.20,567.88 L313.70,567.67 L314.20,567.47 L314.70,567.32 L315.20,567.26 L315.70,567.32 L316.20,567.50 L316.70,567.78 L317.20,568.15 L317.70,568.58 L318.20,569.01 L318.70,569.44 L319.20,569.81 L319.70,570.14 L320.20,570.40 L320.70,570.59 L321.20,570.74 L321.70,570.84 L322.20,570.90 L322.70,570.94 L323.20,570.97 L323.70,570.98 L324.20,570.99 L324.70,571.00 L325.20,571.00 L325.70,571.00 L326.20,571.00 L326.70,571.00 L327.20,571.00 L327.70,571.00 L328.20,571.00 L328.70,571.00 L329.20,571.00 L329.70,571.00 L330.20,571.00 L330.70,571.00 L331.20,571.00 L331.70,571.00 L332.20,571.00 L332.70,571.00 L333.20,571.00 L333.70,571.00 L334.20,571.00 L334.70,571.00 L335.20,571.00 L335.70,571.00 L336.20,571.00 L336.70,571.00 L337.20,571.00 L337.70,571.00 L338.20,571.00 L338.70,571.00 L339.20,571.00 L339.70,571.00 L340.20,571.00 L340.70,571.00 L341.20,571.00 L341.70,571.00 L342.20,571.00 L342.70,571.00 L343.20,571.00 L343.70,571.00 L344.20,571.00 L344.70,571.00 L345.20,571.00 L345.70,571.00 L346.20,571.00 L346.70,571.00 L347.20,571.00 L347.70,571.00 L348.20,571.00 L348.70,571.00 L349.20,571.00 L349.70,571.00 L350.20,571.00 L350.70,571.00 L351.20,571.00 L351.70,571.00 L352.20,571.00 L352.70,571.00 L353.20,571.00 L353.70,571.00 L354.20,571.00 L354.70,571.00 L355.20,571.00 L355.70,571.00 L356.20,571.00 L356.70,571.00 L357.20,571.00 L357.70,571.00 L358.20,571.00 L358.70,571.00 L359.20,571.00 L359.70,571.00 L360.20,571.00 L360.70,571.00 L361.20,571.00 L361.70,571.00 L362.20,571.00 L362.70,571.00 L363.20,571.00 L363.70,571.00 L364.20,571.00 L364.70,571.00 L365.20,571.00 L365.70,571.00 L366.20,571.00 L366.70,571.00 L367.20,571.00 L367.70,571.00 L368.20,571.00 L368.70,571.00 L369.20,571.00 L369.70,571.00 L370.20,571.00 L370.70,571.00 L371.20,571.00 L371.70,571.00 L372.20,571.00 L372.70,571.00 L373.20,571.00 L373.70,571.00 L374.20,571.00 L374.70,571.00 L375.20,571.00 L375.70,571.00 L376.20,571.00 L376.70,571.00 L377.20,571.00 L377.70,571.00 L378.20,571.00 L378.70,571.00 L379.20,571.00 L379.70,571.00 L380.20,571.00 L380.70,571.00 L381.20,571.00 L381.70,571.00 L382.20,571.00 L382.70,571.00 L383.20,571.00 L383.70,571.00 L384.20,571.00 L384.70,571.00 L385.20,571.00 L385.70,571.00 L386.20,571.00 L386.70,571.00 L387.20,571.00 L387.70,571.00 L388.20,571.00 L388.70,571.00 L389.20,571.00 L389.70,571.00 L390.20,571.00 L390.70,571.00 L391.20,571.00 L391.70,571.00 L392.20,571.00 L392.70,571.00 L393.20,571.00 L393.70,571.00 L394.20,571.00 L394.70,571.00 L395.20,571.00 L395.70,571.00 L396.20,571.00 L396.70,571.00 L397.20,571.00 L397.70,571.00" fill="none" stroke="#000" stroke-width="2.1"/>
<path d="M64.90,604.30 L65.40,604.30 L65.90,604.30 L66.40,604.30 L66.90,604.30 L67.40,604.30 L67.90,604.30 L68.40,604.30 L68.90,604.30 L69.40,604.30 L69.90,604.30 L70.40,604.30 L70.90,604.30 L71.40,604.30 L71.90,604.30 L72.40,604.30 L72.90,604.30 L73.40,604.30 L73.90,604.30 L74.40,604.30 L74.90,604.30 L75.40,604.30 L75.90,604.30 L76.40,604.30 L76.90,604.30 L77.40,604.30 L77.90,604.30 L78.40,604.30 L78.90,604.30 L79.40,604.30 L79.90,604.30 L80.40,604.30 L80.90,604.30 L81.40,604.30 L81.90,604.30 L82.40,604.30 L82.90,604.30 L83.40,604.30 L83.90,604.30 L84.40,604.30 L84.90,604.30 L85.40,604.30 L85.90,604.30 L86.40,604.30 L86.90,604.30 L87.40,604.30 L87.90,604.30 L88.40,604.30 L88.90,604.30 L89.40,604.30 L89.90,604.30 L90.40,604.30 L90.90,604.30 L91.40,604.30 L91.90,604.30 L92.40,604.30 L92.90,604.30 L93.40,604.30 L93.90,604.30 L94.40,604.30 L94.90,604.30 L95.40,604.30 L95.90,604.30 L96.40,604.30 L96.90,604.30 L97.40,604.30 L97.90,604.30 L98.40,604.30 L98.90,604.30 L99.40,604.30 L99.90,604.30 L100.40,604.30 L100.90,604.30 L101.40,604.30 L101.90,604.30 L102.40,604.30 L102.90,604.30 L103.40,604.30 L103.90,604.30 L104.40,604.30 L104.90,604.30 L105.40,604.30 L105.90,604.30 L106.40,604.30 L106.90,604.30 L107.40,604.30 L107.90,604.30 L108.40,604.30 L108.90,604.30 L109.40,604.30 L109.90,604.30 L110.40,604.30 L110.90,604.30 L111.40,604.30 L111.90,604.30 L112.40,604.30 L112.90,604.30 L113.40,604.30 L113.90,604.30 L114.40,604.30 L114.90,604.30 L115.40,604.30 L115.90,604.30 L116.40,604.30 L116.90,604.30 L117.40,604.30 L117.90,604.30 L118.40,604.30 L118.90,604.30 L119.40,604.30 L119.90,604.30 L120.40,604.30 L120.90,604.30 L121.40,604.30 L121.90,604.30 L122.40,604.30 L122.90,604.30 L123.40,604.30 L123.90,604.30 L124.40,604.30 L124.90,604.30 L125.40,604.30 L125.90,604.30 L126.40,604.30 L126.90,604.30 L127.40,604.30 L127.90,604.30 L128.40,604.30 L128.90,604.30 L129.40,604.30 L129.90,604.30 L130.40,604.30 L130.90,604.30 L131.40,604.30 L131.90,604.30 L132.40,604.30 L132.90,604.30 L133.40,604.30 L133.90,604.30 L134.40,604.30 L134.90,604.30 L135.40,604.30 L135.90,604.30 L136.40,604.30 L136.90,604.30 L137.40,604.30 L137.90,604.30 L138.40,604.30 L138.90,604.30 L139.40,604.30 L139.90,604.30 L140.40,604.30 L140.90,604.30 L141.40,604.30 L141.90,604.30 L142.40,604.30 L142.90,604.30 L143.40,604.30 L143.90,604.30 L144.40,604.30 L144.90,604.30 L145.40,604.30 L145.90,604.30 L146.40,604.30 L146.90,604.30 L147.40,604.30 L147.90,604.30 L148.40,604.30 L148.90,604.30 L149.40,604.30 L149.90,604.30 L150.40,604.30 L150.90,604.30 L151.40,604.30 L151.90,604.30 L152.40,604.30 L152.90,604.30 L153.40,604.30 L153.90,604.30 L154.40,604.29 L154.90,604.28 L155.40,604.26 L155.90,604.24 L156.40,604.19 L156.90,604.13 L157.40,604.04 L157.90,603.93 L158.40,603.81 L158.90,603.70 L159.40,603.59 L159.90,603.52 L160.40,603.50 L160.90,603.52 L161.40,603.59 L161.90,603.70 L162.40,603.81 L162.90,603.93 L163.40,604.04 L163.90,604.13 L164.40,604.19 L164.90,604.24 L165.40,604.26 L165.90,604.28 L166.40,604.29 L166.90,604.30 L167.40,604.30 L167.90,604.30 L168.40,604.30 L168.90,604.30 L169.40,604.30 L169.90,604.30 L170.40,604.30 L170.90,604.30 L171.40,604.30 L171.90,604.30 L172.40,604.30 L172.90,604.30 L173.40,604.30 L173.90,604.30 L174.40,604.30 L174.90,604.30 L175.40,604.30 L175.90,604.30 L176.40,604.30 L176.90,604.30 L177.40,604.30 L177.90,604.30 L178.40,604.30 L178.90,604.30 L179.40,604.30 L179.90,604.30 L180.40,604.30 L180.90,604.30 L181.40,604.30 L181.90,604.30 L182.40,604.30 L182.90,604.30 L183.40,604.30 L183.90,604.30 L184.40,604.30 L184.90,604.30 L185.40,604.30 L185.90,604.30 L186.40,604.30 L186.90,604.30 L187.40,604.30 L187.90,604.30 L188.40,604.30 L188.90,604.30 L189.40,604.30 L189.90,604.30 L190.40,604.30 L190.90,604.30 L191.40,604.30 L191.90,604.30 L192.40,604.30 L192.90,604.30 L193.40,604.30 L193.90,604.30 L194.40,604.30 L194.90,604.30 L195.40,604.30 L195.90,604.30 L196.40,604.30 L196.90,604.30 L197.40,604.30 L197.90,604.30 L198.40,604.30 L198.90,604.30 L199.40,604.30 L199.90,604.30 L200.40,604.30 L200.90,604.30 L201.40,604.30 L201.90,604.30 L202.40,604.30 L202.90,604.30 L203.40,604.30 L203.90,604.30 L204.40,604.30 L204.90,604.30 L205.40,604.30 L205.90,604.30 L206.40,604.30 L206.90,604.30 L207.40,604.30 L207.90,604.30 L208.40,604.30 L208.90,604.30 L209.40,604.30 L209.90,604.30 L210.40,604.30 L210.90,604.30 L211.40,604.30 L211.90,604.30 L212.40,604.30 L212.90,604.30 L213.40,604.30 L213.90,604.30 L214.40,604.30 L214.90,604.30 L215.40,604.30 L215.90,604.30 L216.40,604.29 L216.90,604.29 L217.40,604.28 L217.90,604.26 L218.40,604.22 L218.90,604.17 L219.40,604.09 L219.90,604.00 L220.40,603.89 L220.90,603.77 L221.40,603.65 L221.90,603.56 L222.40,603.51 L222.90,603.50 L223.40,603.55 L223.90,603.63 L224.40,603.74 L224.90,603.86 L225.40,603.98 L225.90,604.08 L226.40,604.16 L226.90,604.21 L227.40,604.25 L227.90,604.27 L228.40,604.29 L228.90,604.29 L229.40,604.30 L229.90,604.30 L230.40,604.30 L230.90,604.30 L231.40,604.30 L231.90,604.30 L232.40,604.30 L232.90,604.30 L233.40,604.30 L233.90,604.30 L234.40,604.30 L234.90,604.30 L235.40,604.30 L235.90,604.30 L236.40,604.30 L236.90,604.30 L237.40,604.30 L237.90,604.30 L238.40,604.30 L238.90,604.30 L239.40,604.30 L239.90,604.30 L240.40,604.30 L240.90,604.30 L241.40,604.30 L241.90,604.30 L242.40,604.30 L242.90,604.30 L243.40,604.30 L243.90,604.30 L244.40,604.30 L244.90,604.30 L245.40,604.30 L245.90,604.30 L246.40,604.30 L246.90,604.30 L247.40,604.30 L247.90,604.30 L248.40,604.30 L248.90,604.30 L249.40,604.30 L249.90,604.30 L250.40,604.30 L250.90,604.30 L251.40,604.30 L251.90,604.30 L252.40,604.30 L252.90,604.30 L253.40,604.30 L253.90,604.30 L254.40,604.30 L254.90,604.30 L255.40,604.30 L255.90,604.30 L256.40,604.30 L256.90,604.30 L257.40,604.30 L257.90,604.30 L258.40,604.30 L258.90,604.30 L259.40,604.30 L259.90,604.30 L260.40,604.30 L260.90,604.30 L261.40,604.30 L261.90,604.30 L262.40,604.30 L262.90,604.30 L263.40,604.30 L263.90,604.30 L264.40,604.30 L264.90,604.30 L265.40,604.30 L265.90,604.30 L266.40,604.30 L266.90,604.30 L267.40,604.30 L267.90,604.30 L268.40,604.30 L268.90,604.30 L269.40,604.30 L269.90,604.30 L270.40,604.30 L270.90,604.30 L271.40,604.30 L271.90,604.30 L272.40,604.30 L272.90,604.30 L273.40,604.30 L273.90,604.30 L274.40,604.30 L274.90,604.30 L275.40,604.30 L275.90,604.30 L276.40,604.30 L276.90,604.30 L277.40,604.30 L277.90,604.30 L278.40,604.30 L278.90,604.30 L279.40,604.30 L279.90,604.30 L280.40,604.30 L280.90,604.30 L281.40,604.30 L281.90,604.30 L282.40,604.30 L282.90,604.30 L283.40,604.30 L283.90,604.30 L284.40,604.30 L284.90,604.30 L285.40,604.30 L285.90,604.30 L286.40,604.30 L286.90,604.30 L287.40,604.30 L287.90,604.30 L288.40,604.30 L288.90,604.30 L289.40,604.30 L289.90,604.30 L290.40,604.30 L290.90,604.30 L291.40,604.30 L291.90,604.30 L292.40,604.30 L292.90,604.30 L293.40,604.29 L293.90,604.19 L294.40,603.60 L294.90,601.89 L295.40,598.92 L295.90,595.41 L296.40,592.32 L296.90,590.13 L297.40,588.84 L297.90,588.20 L298.40,587.92 L298.90,587.83 L299.40,587.80 L299.90,587.80 L300.40,587.80 L300.90,587.80 L301.40,587.80 L301.90,587.80 L302.40,587.82 L302.90,587.89 L303.40,588.12 L303.90,588.67 L304.40,589.81 L304.90,591.80 L305.40,594.73 L305.90,598.23 L306.40,601.39 L306.90,603.37 L307.40,604.13 L307.90,604.29 L308.40,604.30 L308.90,604.30 L309.40,604.30 L309.90,604.30 L310.40,604.30 L310.90,604.30 L311.40,604.30 L311.90,604.30 L312.40,604.30 L312.90,604.30 L313.40,604.30 L313.90,604.30 L314.40,604.30 L314.90,604.30 L315.40,604.30 L315.90,604.30 L316.40,604.30 L316.90,604.30 L317.40,604.30 L317.90,604.30 L318.40,604.30 L318.90,604.30 L319.40,604.30 L319.90,604.30 L320.40,604.30 L320.90,604.30 L321.40,604.30 L321.90,604.30 L322.40,604.30 L322.90,604.30 L323.40,604.30 L323.90,604.30 L324.40,604.30 L324.90,604.30 L325.40,604.30 L325.90,604.30 L326.40,604.30 L326.90,604.30 L327.40,604.30 L327.90,604.30 L328.40,604.30 L328.90,604.30 L329.40,604.30 L329.90,604.30 L330.40,604.30 L330.90,604.30 L331.40,604.30 L331.90,604.30 L332.40,604.30 L332.90,604.30 L333.40,604.30 L333.90,604.30 L334.40,604.30 L334.90,604.30 L335.40,604.30 L335.90,604.30 L336.40,604.30 L336.90,604.30 L337.40,604.30 L337.90,604.30 L338.40,604.30 L338.90,604.30 L339.40,604.30 L339.90,604.30 L340.40,604.30 L340.90,604.30 L341.40,604.30 L341.90,604.30 L342.40,604.30 L342.90,604.30 L343.40,604.30 L343.90,604.30 L344.40,604.30 L344.90,604.30 L345.40,604.30 L345.90,604.30 L346.40,604.30 L346.90,604.30 L347.40,604.30 L347.90,604.30 L348.40,604.30 L348.90,604.30 L349.40,604.30 L349.90,604.30 L350.40,604.30 L350.90,604.30 L351.40,604.30 L351.90,604.30 L352.40,604.30 L352.90,604.30 L353.40,604.30 L353.90,604.30 L354.40,604.30 L354.90,604.30 L355.40,604.30 L355.90,604.30 L356.40,604.30 L356.90,604.30 L357.40,604.30 L357.90,604.30 L358.40,604.30 L358.90,604.30 L359.40,604.30 L359.90,604.30 L360.40,604.30 L360.90,604.30 L361.40,604.30 L361.90,604.30 L362.40,604.30 L362.90,604.30 L363.40,604.30 L363.90,604.30 L364.40,604.30 L364.90,604.30 L365.40,604.30 L365.90,604.30 L366.40,604.30 L366.90,604.30 L367.40,604.30 L367.90,604.30 L368.40,604.30 L368.90,604.30 L369.40,604.30 L369.90,604.30 L370.40,604.30 L370.90,604.30 L371.40,604.30 L371.90,604.30 L372.40,604.30 L372.90,604.30 L373.40,604.30 L373.90,604.30 L374.40,604.30 L374.90,604.30 L375.40,604.30 L375.90,604.30 L376.40,604.30 L376.90,604.30 L377.40,604.30 L377.90,604.30 L378.40,604.30 L378.90,604.30 L379.40,604.30 L379.90,604.30 L380.40,604.30 L380.90,604.30 L381.40,604.30 L381.90,604.30 L382.40,604.30 L382.90,604.30 L383.40,604.30 L383.90,604.30 L384.40,604.30 L384.90,604.30 L385.40,604.30 L385.90,604.30 L386.40,604.30 L386.90,604.30 L387.40,604.30 L387.90,604.30 L388.40,604.30 L388.90,604.30 L389.40,604.30 L389.90,604.30 L390.40,604.30 L390.90,604.30 L391.40,604.30 L391.90,604.30 L392.40,604.30 L392.90,604.30 L393.40,604.30 L393.90,604.30 L394.40,604.30 L394.90,604.30 L395.40,604.30 L395.90,604.30 L396.40,604.30 L396.90,604.30 L397.40,604.30" fill="none" stroke="#6e6ed8" stroke-width="2.2" stroke-dasharray="3.2 1.5"/>
<path d="M64.90,624.60 L65.40,624.60 L65.90,624.60 L66.40,624.60 L66.90,624.60 L67.40,624.60 L67.90,624.60 L68.40,624.60 L68.90,624.60 L69.40,624.60 L69.90,624.60 L70.40,624.60 L70.90,624.60 L71.40,624.60 L71.90,624.60 L72.40,624.60 L72.90,624.60 L73.40,624.60 L73.90,624.60 L74.40,624.60 L74.90,624.60 L75.40,624.60 L75.90,624.60 L76.40,624.60 L76.90,624.60 L77.40,624.60 L77.90,624.60 L78.40,624.60 L78.90,624.60 L79.40,624.60 L79.90,624.60 L80.40,624.60 L80.90,624.60 L81.40,624.60 L81.90,624.60 L82.40,624.60 L82.90,624.60 L83.40,624.60 L83.90,624.60 L84.40,624.60 L84.90,624.60 L85.40,624.60 L85.90,624.60 L86.40,624.60 L86.90,624.60 L87.40,624.60 L87.90,624.60 L88.40,624.60 L88.90,624.60 L89.40,624.60 L89.90,624.60 L90.40,624.60 L90.90,624.60 L91.40,624.60 L91.90,624.60 L92.40,624.60 L92.90,624.60 L93.40,624.60 L93.90,624.60 L94.40,624.60 L94.90,624.60 L95.40,624.60 L95.90,624.60 L96.40,624.60 L96.90,624.60 L97.40,624.60 L97.90,624.60 L98.40,624.60 L98.90,624.60 L99.40,624.60 L99.90,624.60 L100.40,624.60 L100.90,624.60 L101.40,624.60 L101.90,624.60 L102.40,624.60 L102.90,624.60 L103.40,624.60 L103.90,624.60 L104.40,624.60 L104.90,624.60 L105.40,624.60 L105.90,624.60 L106.40,624.60 L106.90,624.60 L107.40,624.60 L107.90,624.60 L108.40,624.60 L108.90,624.60 L109.40,624.60 L109.90,624.60 L110.40,624.60 L110.90,624.60 L111.40,624.60 L111.90,624.60 L112.40,624.60 L112.90,624.60 L113.40,624.60 L113.90,624.60 L114.40,624.60 L114.90,624.60 L115.40,624.60 L115.90,624.60 L116.40,624.60 L116.90,624.60 L117.40,624.60 L117.90,624.60 L118.40,624.60 L118.90,624.60 L119.40,624.60 L119.90,624.60 L120.40,624.60 L120.90,624.60 L121.40,624.60 L121.90,624.60 L122.40,624.60 L122.90,624.60 L123.40,624.60 L123.90,624.60 L124.40,624.60 L124.90,624.60 L125.40,624.60 L125.90,624.60 L126.40,624.60 L126.90,624.60 L127.40,624.60 L127.90,624.60 L128.40,624.60 L128.90,624.60 L129.40,624.60 L129.90,624.60 L130.40,624.60 L130.90,624.60 L131.40,624.60 L131.90,624.60 L132.40,624.60 L132.90,624.60 L133.40,624.60 L133.90,624.60 L134.40,624.60 L134.90,624.60 L135.40,624.60 L135.90,624.60 L136.40,624.60 L136.90,624.60 L137.40,624.60 L137.90,624.60 L138.40,624.60 L138.90,624.60 L139.40,624.60 L139.90,624.60 L140.40,624.60 L140.90,624.60 L141.40,624.60 L141.90,624.60 L142.40,624.60 L142.90,624.60 L143.40,624.60 L143.90,624.60 L144.40,624.60 L144.90,624.60 L145.40,624.60 L145.90,624.60 L146.40,624.60 L146.90,624.60 L147.40,624.60 L147.90,624.60 L148.40,624.60 L148.90,624.60 L149.40,624.60 L149.90,624.60 L150.40,624.60 L150.90,624.60 L151.40,624.60 L151.90,624.60 L152.40,624.60 L152.90,624.60 L153.40,624.60 L153.90,624.60 L154.40,624.60 L154.90,624.60 L155.40,624.60 L155.90,624.60 L156.40,624.60 L156.90,624.60 L157.40,624.60 L157.90,624.60 L158.40,624.60 L158.90,624.60 L159.40,624.60 L159.90,624.60 L160.40,624.60 L160.90,624.60 L161.40,624.60 L161.90,624.60 L162.40,624.60 L162.90,624.59 L163.40,624.59 L163.90,624.59 L164.40,624.59 L164.90,624.59 L165.40,624.59 L165.90,624.59 L166.40,624.59 L166.90,624.59 L167.40,624.58 L167.90,624.58 L168.40,624.58 L168.90,624.58 L169.40,624.58 L169.90,624.57 L170.40,624.57 L170.90,624.57 L171.40,624.56 L171.90,624.56 L172.40,624.55 L172.90,624.55 L173.40,624.54 L173.90,624.54 L174.40,624.53 L174.90,624.53 L175.40,624.52 L175.90,624.51 L176.40,624.50 L176.90,624.49 L177.40,624.48 L177.90,624.47 L178.40,624.46 L178.90,624.45 L179.40,624.43 L179.90,624.42 L180.40,624.40 L180.90,624.39 L181.40,624.37 L181.90,624.35 L182.40,624.33 L182.90,624.31 L183.40,624.29 L183.90,624.27 L184.40,624.24 L184.90,624.22 L185.40,624.19 L185.90,624.16 L186.40,624.13 L186.90,624.10 L187.40,624.07 L187.90,624.03 L188.40,624.00 L188.90,623.96 L189.40,623.92 L189.90,623.88 L190.40,623.84 L190.90,623.80 L191.40,623.75 L191.90,623.71 L192.40,623.66 L192.90,623.61 L193.40,623.57 L193.90,623.52 L194.40,623.47 L194.90,623.41 L195.40,623.36 L195.90,623.31 L196.40,623.26 L196.90,623.20 L197.40,623.15 L197.90,623.09 L198.40,623.04 L198.90,622.99 L199.40,622.93 L199.90,622.88 L200.40,622.83 L200.90,622.77 L201.40,622.72 L201.90,622.67 L202.40,622.62 L202.90,622.58 L203.40,622.53 L203.90,622.49 L204.40,622.44 L204.90,622.40 L205.40,622.36 L205.90,622.33 L206.40,622.29 L206.90,622.26 L207.40,622.23 L207.90,622.20 L208.40,622.18 L208.90,622.16 L209.40,622.14 L209.90,622.13 L210.40,622.12 L210.90,622.11 L211.40,622.10 L211.90,622.10 L212.40,622.10 L212.90,622.11 L213.40,622.11 L213.90,622.12 L214.40,622.14 L214.90,622.15 L215.40,622.17 L215.90,622.20 L216.40,622.22 L216.90,622.25 L217.40,622.28 L217.90,622.31 L218.40,622.35 L218.90,622.39 L219.40,622.43 L219.90,622.47 L220.40,622.51 L220.90,622.56 L221.40,622.60 L221.90,622.65 L222.40,622.70 L222.90,622.75 L223.40,622.81 L223.90,622.86 L224.40,622.91 L224.90,622.96 L225.40,623.02 L225.90,623.07 L226.40,623.13 L226.90,623.18 L227.40,623.23 L227.90,623.29 L228.40,623.34 L228.90,623.39 L229.40,623.45 L229.90,623.50 L230.40,623.55 L230.90,623.59 L231.40,623.64 L231.90,623.69 L232.40,623.74 L232.90,623.78 L233.40,623.82 L233.90,623.86 L234.40,623.90 L234.90,623.94 L235.40,623.98 L235.90,624.02 L236.40,624.05 L236.90,624.09 L237.40,624.12 L237.90,624.15 L238.40,624.18 L238.90,624.21 L239.40,624.23 L239.90,624.26 L240.40,624.28 L240.90,624.30 L241.40,624.32 L241.90,624.34 L242.40,624.36 L242.90,624.38 L243.40,624.40 L243.90,624.41 L244.40,624.43 L244.90,624.44 L245.40,624.45 L245.90,624.47 L246.40,624.48 L246.90,624.49 L247.40,624.50 L247.90,624.51 L248.40,624.51 L248.90,624.52 L249.40,624.53 L249.90,624.54 L250.40,624.54 L250.90,624.55 L251.40,624.55 L251.90,624.56 L252.40,624.56 L252.90,624.56 L253.40,624.57 L253.90,624.57 L254.40,624.57 L254.90,624.58 L255.40,624.58 L255.90,624.58 L256.40,624.58 L256.90,624.59 L257.40,624.59 L257.90,624.59 L258.40,624.59 L258.90,624.59 L259.40,624.59 L259.90,624.59 L260.40,624.59 L260.90,624.59 L261.40,624.59 L261.90,624.59 L262.40,624.59 L262.90,624.59 L263.40,624.59 L263.90,624.59 L264.40,624.59 L264.90,624.59 L265.40,624.58 L265.90,624.58 L266.40,624.58 L266.90,624.57 L267.40,624.56 L267.90,624.56 L268.40,624.55 L268.90,624.53 L269.40,624.52 L269.90,624.50 L270.40,624.48 L270.90,624.46 L271.40,624.43 L271.90,624.40 L272.40,624.36 L272.90,624.32 L273.40,624.27 L273.90,624.21 L274.40,624.15 L274.90,624.07 L275.40,623.99 L275.90,623.91 L276.40,623.81 L276.90,623.70 L277.40,623.59 L277.90,623.46 L278.40,623.33 L278.90,623.19 L279.40,623.04 L279.90,622.88 L280.40,622.72 L280.90,622.55 L281.40,622.38 L281.90,622.21 L282.40,622.04 L282.90,621.86 L283.40,621.70 L283.90,621.53 L284.40,621.38 L284.90,621.23 L285.40,621.09 L285.90,620.97 L286.40,620.86 L286.90,620.77 L287.40,620.70 L287.90,620.64 L288.40,620.60 L288.90,620.57 L289.40,620.57 L289.90,620.58 L290.40,620.60 L290.90,620.63 L291.40,620.67 L291.90,620.70 L292.40,620.74 L292.90,620.76 L293.40,620.75 L293.90,620.72 L294.40,620.66 L294.90,620.54 L295.40,620.36 L295.90,620.12 L296.40,619.80 L296.90,619.40 L297.40,618.91 L297.90,618.32 L298.40,617.66 L298.90,616.90 L299.40,616.08 L299.90,615.20 L300.40,614.29 L300.90,613.36 L301.40,612.44 L301.90,611.56 L302.40,610.76 L302.90,610.05 L303.40,609.47 L303.90,609.04 L304.40,608.78 L304.90,608.70 L305.40,608.79 L305.90,609.03 L306.40,609.42 L306.90,609.93 L307.40,610.57 L307.90,611.31 L308.40,612.13 L308.90,613.02 L309.40,613.95 L309.90,614.90 L310.40,615.86 L310.90,616.79 L311.40,617.70 L311.90,618.56 L312.40,619.37 L312.90,620.11 L313.40,620.79 L313.90,621.39 L314.40,621.93 L314.90,622.40 L315.40,622.80 L315.90,623.15 L316.40,623.44 L316.90,623.68 L317.40,623.88 L317.90,624.04 L318.40,624.17 L318.90,624.27 L319.40,624.35 L319.90,624.42 L320.40,624.46 L320.90,624.50 L321.40,624.53 L321.90,624.55 L322.40,624.56 L322.90,624.57 L323.40,624.58 L323.90,624.59 L324.40,624.59 L324.90,624.59 L325.40,624.60 L325.90,624.60 L326.40,624.60 L326.90,624.60 L327.40,624.60 L327.90,624.60 L328.40,624.60 L328.90,624.60 L329.40,624.60 L329.90,624.60 L330.40,624.60 L330.90,624.60 L331.40,624.60 L331.90,624.60 L332.40,624.60 L332.90,624.60 L333.40,624.60 L333.90,624.60 L334.40,624.60 L334.90,624.60 L335.40,624.60 L335.90,624.60 L336.40,624.60 L336.90,624.60 L337.40,624.60 L337.90,624.60 L338.40,624.60 L338.90,624.60 L339.40,624.60 L339.90,624.60 L340.40,624.60 L340.90,624.60 L341.40,624.60 L341.90,624.60 L342.40,624.60 L342.90,624.60 L343.40,624.60 L343.90,624.60 L344.40,624.60 L344.90,624.60 L345.40,624.60 L345.90,624.60 L346.40,624.60 L346.90,624.60 L347.40,624.60 L347.90,624.60 L348.40,624.60 L348.90,624.60 L349.40,624.60 L349.90,624.60 L350.40,624.60 L350.90,624.60 L351.40,624.60 L351.90,624.60 L352.40,624.60 L352.90,624.60 L353.40,624.60 L353.90,624.60 L354.40,624.60 L354.90,624.60 L355.40,624.60 L355.90,624.60 L356.40,624.60 L356.90,624.60 L357.40,624.60 L357.90,624.60 L358.40,624.60 L358.90,624.60 L359.40,624.60 L359.90,624.60 L360.40,624.60 L360.90,624.60 L361.40,624.60 L361.90,624.60 L362.40,624.60 L362.90,624.60 L363.40,624.60 L363.90,624.60 L364.40,624.60 L364.90,624.60 L365.40,624.60 L365.90,624.60 L366.40,624.60 L366.90,624.60 L367.40,624.60 L367.90,624.60 L368.40,624.60 L368.90,624.60 L369.40,624.60 L369.90,624.60 L370.40,624.60 L370.90,624.60 L371.40,624.60 L371.90,624.60 L372.40,624.60 L372.90,624.60 L373.40,624.60 L373.90,624.60 L374.40,624.60 L374.90,624.60 L375.40,624.60 L375.90,624.60 L376.40,624.60 L376.90,624.60 L377.40,624.60 L377.90,624.60 L378.40,624.60 L378.90,624.60 L379.40,624.60 L379.90,624.60 L380.40,624.60 L380.90,624.60 L381.40,624.60 L381.90,624.60 L382.40,624.60 L382.90,624.60 L383.40,624.60 L383.90,624.60 L384.40,624.60 L384.90,624.60 L385.40,624.60 L385.90,624.60 L386.40,624.60 L386.90,624.60 L387.40,624.60 L387.90,624.60 L388.40,624.60 L388.90,624.60 L389.40,624.60 L389.90,624.60 L390.40,624.60 L390.90,624.60 L391.40,624.60 L391.90,624.60 L392.40,624.60 L392.90,624.60 L393.40,624.60 L393.90,624.60 L394.40,624.60 L394.90,624.60 L395.40,624.60 L395.90,624.60 L396.40,624.60 L396.90,624.60 L397.40,624.60" fill="none" stroke="#e0101a" stroke-width="2.4" stroke-dasharray="5.1 2.9"/>
<path d="M64.90,644.80 L65.40,644.80 L65.90,644.80 L66.40,644.80 L66.90,644.80 L67.40,644.80 L67.90,644.80 L68.40,644.80 L68.90,644.80 L69.40,644.80 L69.90,644.80 L70.40,644.80 L70.90,644.80 L71.40,644.80 L71.90,644.80 L72.40,644.80 L72.90,644.80 L73.40,644.80 L73.90,644.80 L74.40,644.80 L74.90,644.80 L75.40,644.80 L75.90,644.80 L76.40,644.80 L76.90,644.80 L77.40,644.80 L77.90,644.80 L78.40,644.80 L78.90,644.80 L79.40,644.80 L79.90,644.80 L80.40,644.80 L80.90,644.80 L81.40,644.80 L81.90,644.80 L82.40,644.80 L82.90,644.80 L83.40,644.80 L83.90,644.80 L84.40,644.80 L84.90,644.80 L85.40,644.80 L85.90,644.80 L86.40,644.80 L86.90,644.80 L87.40,644.80 L87.90,644.80 L88.40,644.80 L88.90,644.80 L89.40,644.80 L89.90,644.80 L90.40,644.80 L90.90,644.80 L91.40,644.80 L91.90,644.80 L92.40,644.80 L92.90,644.80 L93.40,644.80 L93.90,644.80 L94.40,644.80 L94.90,644.80 L95.40,644.80 L95.90,644.80 L96.40,644.80 L96.90,644.80 L97.40,644.80 L97.90,644.80 L98.40,644.80 L98.90,644.80 L99.40,644.80 L99.90,644.80 L100.40,644.80 L100.90,644.80 L101.40,644.80 L101.90,644.80 L102.40,644.80 L102.90,644.80 L103.40,644.80 L103.90,644.80 L104.40,644.80 L104.90,644.80 L105.40,644.80 L105.90,644.80 L106.40,644.80 L106.90,644.80 L107.40,644.80 L107.90,644.80 L108.40,644.80 L108.90,644.80 L109.40,644.80 L109.90,644.80 L110.40,644.80 L110.90,644.80 L111.40,644.80 L111.90,644.80 L112.40,644.80 L112.90,644.80 L113.40,644.80 L113.90,644.80 L114.40,644.80 L114.90,644.80 L115.40,644.80 L115.90,644.80 L116.40,644.80 L116.90,644.80 L117.40,644.80 L117.90,644.80 L118.40,644.80 L118.90,644.80 L119.40,644.80 L119.90,644.80 L120.40,644.80 L120.90,644.80 L121.40,644.80 L121.90,644.80 L122.40,644.80 L122.90,644.80 L123.40,644.80 L123.90,644.80 L124.40,644.80 L124.90,644.80 L125.40,644.80 L125.90,644.80 L126.40,644.80 L126.90,644.80 L127.40,644.80 L127.90,644.80 L128.40,644.80 L128.90,644.80 L129.40,644.80 L129.90,644.80 L130.40,644.80 L130.90,644.80 L131.40,644.80 L131.90,644.80 L132.40,644.80 L132.90,644.80 L133.40,644.80 L133.90,644.80 L134.40,644.80 L134.90,644.80 L135.40,644.80 L135.90,644.80 L136.40,644.80 L136.90,644.80 L137.40,644.80 L137.90,644.80 L138.40,644.80 L138.90,644.80 L139.40,644.80 L139.90,644.80 L140.40,644.80 L140.90,644.80 L141.40,644.80 L141.90,644.80 L142.40,644.80 L142.90,644.80 L143.40,644.80 L143.90,644.80 L144.40,644.80 L144.90,644.80 L145.40,644.80 L145.90,644.80 L146.40,644.80 L146.90,644.80 L147.40,644.80 L147.90,644.80 L148.40,644.80 L148.90,644.80 L149.40,644.80 L149.90,644.80 L150.40,644.80 L150.90,644.80 L151.40,644.80 L151.90,644.80 L152.40,644.80 L152.90,644.80 L153.40,644.80 L153.90,644.80 L154.40,644.80 L154.90,644.80 L155.40,644.80 L155.90,644.80 L156.40,644.80 L156.90,644.80 L157.40,644.80 L157.90,644.80 L158.40,644.80 L158.90,644.80 L159.40,644.80 L159.90,644.80 L160.40,644.80 L160.90,644.80 L161.40,644.80 L161.90,644.80 L162.40,644.80 L162.90,644.80 L163.40,644.80 L163.90,644.80 L164.40,644.80 L164.90,644.80 L165.40,644.80 L165.90,644.80 L166.40,644.80 L166.90,644.80 L167.40,644.80 L167.90,644.80 L168.40,644.80 L168.90,644.80 L169.40,644.80 L169.90,644.80 L170.40,644.80 L170.90,644.80 L171.40,644.80 L171.90,644.80 L172.40,644.80 L172.90,644.80 L173.40,644.80 L173.90,644.80 L174.40,644.80 L174.90,644.80 L175.40,644.80 L175.90,644.80 L176.40,644.80 L176.90,644.80 L177.40,644.80 L177.90,644.80 L178.40,644.80 L178.90,644.80 L179.40,644.80 L179.90,644.80 L180.40,644.80 L180.90,644.80 L181.40,644.80 L181.90,644.80 L182.40,644.80 L182.90,644.80 L183.40,644.80 L183.90,644.80 L184.40,644.80 L184.90,644.80 L185.40,644.80 L185.90,644.80 L186.40,644.80 L186.90,644.80 L187.40,644.80 L187.90,644.80 L188.40,644.80 L188.90,644.80 L189.40,644.80 L189.90,644.80 L190.40,644.80 L190.90,644.80 L191.40,644.80 L191.90,644.80 L192.40,644.80 L192.90,644.80 L193.40,644.80 L193.90,644.80 L194.40,644.80 L194.90,644.80 L195.40,644.80 L195.90,644.80 L196.40,644.80 L196.90,644.80 L197.40,644.80 L197.90,644.80 L198.40,644.80 L198.90,644.80 L199.40,644.80 L199.90,644.80 L200.40,644.80 L200.90,644.80 L201.40,644.80 L201.90,644.80 L202.40,644.80 L202.90,644.80 L203.40,644.80 L203.90,644.80 L204.40,644.80 L204.90,644.80 L205.40,644.80 L205.90,644.80 L206.40,644.80 L206.90,644.80" fill="none" stroke="#000" stroke-width="2.1"/>
<path d="M255.20,644.80 L255.70,644.80 L256.20,644.80 L256.70,644.80 L257.20,644.80 L257.70,644.80 L258.20,644.80 L258.70,644.80 L259.20,644.80 L259.70,644.80 L260.20,644.80 L260.70,644.80 L261.20,644.80 L261.70,644.80 L262.20,644.80 L262.70,644.80 L263.20,644.80 L263.70,644.80 L264.20,644.80 L264.70,644.80 L265.20,644.80 L265.70,644.80 L266.20,644.80 L266.70,644.80 L267.20,644.80 L267.70,644.80 L268.20,644.80 L268.70,644.80 L269.20,644.80 L269.70,644.80 L270.20,644.80 L270.70,644.80 L271.20,644.80 L271.70,644.80 L272.20,644.80 L272.70,644.80 L273.20,644.80 L273.70,644.80 L274.20,644.80 L274.70,644.80 L275.20,644.80 L275.70,644.80 L276.20,644.80 L276.70,644.80 L277.20,644.80 L277.70,644.80 L278.20,644.80 L278.70,644.80 L279.20,644.80 L279.70,644.80 L280.20,644.80 L280.70,644.80 L281.20,644.80 L281.70,644.80 L282.20,644.79 L282.70,644.79 L283.20,644.79 L283.70,644.78 L284.20,644.77 L284.70,644.76 L285.20,644.74 L285.70,644.72 L286.20,644.69 L286.70,644.65 L287.20,644.59 L287.70,644.52 L288.20,644.43 L288.70,644.32 L289.20,644.18 L289.70,644.00 L290.20,643.78 L290.70,643.52 L291.20,643.20 L291.70,642.82 L292.20,642.38 L292.70,641.87 L293.20,641.29 L293.70,640.64 L294.20,639.91 L294.70,639.12 L295.20,638.26 L295.70,637.34 L296.20,636.38 L296.70,635.39 L297.20,634.39 L297.70,633.40 L298.20,632.44 L298.70,631.53 L299.20,630.69 L299.70,629.96 L300.20,629.34 L300.70,628.85 L301.20,628.51 L301.70,628.33 L302.20,628.32 L302.70,628.49 L303.20,628.85 L303.70,629.39 L304.20,630.08 L304.70,630.91 L305.20,631.85 L305.70,632.86 L306.20,633.92 L306.70,635.01 L307.20,636.09 L307.70,637.14 L308.20,638.15 L308.70,639.09 L309.20,639.95 L309.70,640.74 L310.20,641.43 L310.70,642.04 L311.20,642.57 L311.70,643.01 L312.20,643.39 L312.70,643.70 L313.20,643.95 L313.70,644.15 L314.20,644.31 L314.70,644.43 L315.20,644.53 L315.70,644.60 L316.20,644.66 L316.70,644.70 L317.20,644.73 L317.70,644.75 L318.20,644.77 L318.70,644.78 L319.20,644.78 L319.70,644.79 L320.20,644.79 L320.70,644.80 L321.20,644.80 L321.70,644.80 L322.20,644.80 L322.70,644.80 L323.20,644.80 L323.70,644.80 L324.20,644.80 L324.70,644.80 L325.20,644.80 L325.70,644.80 L326.20,644.80 L326.70,644.80 L327.20,644.80 L327.70,644.80 L328.20,644.80 L328.70,644.80 L329.20,644.80 L329.70,644.80 L330.20,644.80 L330.70,644.80 L331.20,644.80 L331.70,644.80 L332.20,644.80 L332.70,644.80 L333.20,644.80 L333.70,644.80 L334.20,644.80 L334.70,644.80 L335.20,644.80 L335.70,644.80 L336.20,644.80 L336.70,644.80 L337.20,644.80 L337.70,644.80 L338.20,644.80 L338.70,644.80 L339.20,644.80 L339.70,644.80 L340.20,644.80 L340.70,644.80 L341.20,644.80 L341.70,644.80 L342.20,644.80 L342.70,644.80 L343.20,644.80 L343.70,644.80 L344.20,644.80 L344.70,644.80 L345.20,644.80 L345.70,644.80 L346.20,644.80 L346.70,644.80 L347.20,644.80 L347.70,644.80 L348.20,644.80 L348.70,644.80 L349.20,644.80 L349.70,644.80 L350.20,644.80 L350.70,644.80 L351.20,644.80 L351.70,644.80 L352.20,644.80 L352.70,644.80 L353.20,644.80 L353.70,644.80 L354.20,644.80 L354.70,644.80 L355.20,644.80 L355.70,644.80 L356.20,644.80 L356.70,644.80 L357.20,644.80 L357.70,644.80 L358.20,644.80 L358.70,644.80 L359.20,644.80 L359.70,644.80 L360.20,644.80 L360.70,644.80 L361.20,644.80 L361.70,644.80 L362.20,644.80 L362.70,644.80 L363.20,644.80 L363.70,644.80 L364.20,644.80 L364.70,644.80 L365.20,644.80 L365.70,644.80 L366.20,644.80 L366.70,644.80 L367.20,644.80 L367.70,644.80 L368.20,644.80 L368.70,644.80 L369.20,644.80 L369.70,644.80 L370.20,644.80 L370.70,644.80 L371.20,644.80 L371.70,644.80 L372.20,644.80 L372.70,644.80 L373.20,644.80 L373.70,644.80 L374.20,644.80 L374.70,644.80 L375.20,644.80 L375.70,644.80 L376.20,644.80 L376.70,644.80 L377.20,644.80 L377.70,644.80 L378.20,644.80 L378.70,644.80 L379.20,644.80 L379.70,644.80 L380.20,644.80 L380.70,644.80 L381.20,644.80 L381.70,644.80 L382.20,644.80 L382.70,644.80 L383.20,644.80 L383.70,644.80 L384.20,644.80 L384.70,644.80 L385.20,644.80 L385.70,644.80 L386.20,644.80 L386.70,644.80 L387.20,644.80 L387.70,644.80 L388.20,644.80 L388.70,644.80 L389.20,644.80 L389.70,644.80 L390.20,644.80 L390.70,644.80 L391.20,644.80 L391.70,644.80 L392.20,644.80 L392.70,644.80 L393.20,644.80 L393.70,644.80 L394.20,644.80 L394.70,644.80 L395.20,644.80 L395.70,644.80 L396.20,644.80 L396.70,644.80 L397.20,644.80 L397.70,644.80" fill="none" stroke="#000" stroke-width="2.1"/>
<path d="M64.90,677.90 L65.40,677.90 L65.90,677.90 L66.40,677.90 L66.90,677.90 L67.40,677.90 L67.90,677.90 L68.40,677.90 L68.90,677.90 L69.40,677.90 L69.90,677.90 L70.40,677.90 L70.90,677.90 L71.40,677.90 L71.90,677.90 L72.40,677.90 L72.90,677.90 L73.40,677.90 L73.90,677.90 L74.40,677.90 L74.90,677.90 L75.40,677.90 L75.90,677.90 L76.40,677.90 L76.90,677.90 L77.40,677.90 L77.90,677.90 L78.40,677.90 L78.90,677.90 L79.40,677.90 L79.90,677.90 L80.40,677.90 L80.90,677.90 L81.40,677.90 L81.90,677.90 L82.40,677.90 L82.90,677.90 L83.40,677.90 L83.90,677.90 L84.40,677.90 L84.90,677.90 L85.40,677.90 L85.90,677.90 L86.40,677.90 L86.90,677.90 L87.40,677.90 L87.90,677.90 L88.40,677.90 L88.90,677.90 L89.40,677.90 L89.90,677.90 L90.40,677.90 L90.90,677.90 L91.40,677.90 L91.90,677.90 L92.40,677.90 L92.90,677.90 L93.40,677.90 L93.90,677.90 L94.40,677.90 L94.90,677.90 L95.40,677.90 L95.90,677.90 L96.40,677.90 L96.90,677.90 L97.40,677.90 L97.90,677.90 L98.40,677.90 L98.90,677.90 L99.40,677.90 L99.90,677.90 L100.40,677.90 L100.90,677.90 L101.40,677.90 L101.90,677.90 L102.40,677.90 L102.90,677.90 L103.40,677.90 L103.90,677.90 L104.40,677.90 L104.90,677.90 L105.40,677.90 L105.90,677.90 L106.40,677.90 L106.90,677.90 L107.40,677.90 L107.90,677.90 L108.40,677.90 L108.90,677.90 L109.40,677.90 L109.90,677.90 L110.40,677.90 L110.90,677.90 L111.40,677.90 L111.90,677.90 L112.40,677.90 L112.90,677.90 L113.40,677.90 L113.90,677.90 L114.40,677.90 L114.90,677.90 L115.40,677.90 L115.90,677.90 L116.40,677.90 L116.90,677.90 L117.40,677.90 L117.90,677.90 L118.40,677.90 L118.90,677.90 L119.40,677.90 L119.90,677.90 L120.40,677.90 L120.90,677.90 L121.40,677.90 L121.90,677.90 L122.40,677.90 L122.90,677.90 L123.40,677.90 L123.90,677.90 L124.40,677.90 L124.90,677.90 L125.40,677.90 L125.90,677.90 L126.40,677.90 L126.90,677.90 L127.40,677.90 L127.90,677.90 L128.40,677.90 L128.90,677.90 L129.40,677.90 L129.90,677.90 L130.40,677.90 L130.90,677.90 L131.40,677.90 L131.90,677.90 L132.40,677.90 L132.90,677.90 L133.40,677.90 L133.90,677.90 L134.40,677.90 L134.90,677.90 L135.40,677.90 L135.90,677.90 L136.40,677.90 L136.90,677.90 L137.40,677.90 L137.90,677.90 L138.40,677.90 L138.90,677.90 L139.40,677.90 L139.90,677.90 L140.40,677.90 L140.90,677.90 L141.40,677.90 L141.90,677.90 L142.40,677.90 L142.90,677.90 L143.40,677.90 L143.90,677.90 L144.40,677.90 L144.90,677.90 L145.40,677.90 L145.90,677.90 L146.40,677.90 L146.90,677.90 L147.40,677.90 L147.90,677.90 L148.40,677.90 L148.90,677.90 L149.40,677.90 L149.90,677.90 L150.40,677.90 L150.90,677.90 L151.40,677.90 L151.90,677.90 L152.40,677.90 L152.90,677.90 L153.40,677.90 L153.90,677.90 L154.40,677.90 L154.90,677.90 L155.40,677.90 L155.90,677.89 L156.40,677.81 L156.90,677.48 L157.40,676.78 L157.90,675.92 L158.40,675.21 L158.90,674.75 L159.40,674.53 L159.90,674.44 L160.40,674.41 L160.90,674.40 L161.40,674.40 L161.90,674.40 L162.40,674.40 L162.90,674.40 L163.40,674.40 L163.90,674.42 L164.40,674.48 L164.90,674.64 L165.40,674.99 L165.90,675.61 L166.40,676.44 L166.90,677.24 L167.40,677.72 L167.90,677.88 L168.40,677.90 L168.90,677.90 L169.40,677.90 L169.90,677.90 L170.40,677.90 L170.90,677.90 L171.40,677.90 L171.90,677.90 L172.40,677.90 L172.90,677.90 L173.40,677.90 L173.90,677.90 L174.40,677.90 L174.90,677.90 L175.40,677.90 L175.90,677.90 L176.40,677.90 L176.90,677.90 L177.40,677.90 L177.90,677.90 L178.40,677.90 L178.90,677.90 L179.40,677.90 L179.90,677.90 L180.40,677.90 L180.90,677.90 L181.40,677.90 L181.90,677.90 L182.40,677.90 L182.90,677.90 L183.40,677.90 L183.90,677.90 L184.40,677.90 L184.90,677.90 L185.40,677.90 L185.90,677.90 L186.40,677.90 L186.90,677.90 L187.40,677.90 L187.90,677.90 L188.40,677.90 L188.90,677.90 L189.40,677.90 L189.90,677.90 L190.40,677.90 L190.90,677.90 L191.40,677.90 L191.90,677.90 L192.40,677.90 L192.90,677.90 L193.40,677.90 L193.90,677.90 L194.40,677.90 L194.90,677.90 L195.40,677.90 L195.90,677.90 L196.40,677.90 L196.90,677.90 L197.40,677.90 L197.90,677.90 L198.40,677.90 L198.90,677.90 L199.40,677.90 L199.90,677.90 L200.40,677.90 L200.90,677.90 L201.40,677.90 L201.90,677.90 L202.40,677.90 L202.90,677.90 L203.40,677.90 L203.90,677.90 L204.40,677.90 L204.90,677.90 L205.40,677.90 L205.90,677.90 L206.40,677.90 L206.90,677.90 L207.40,677.90 L207.90,677.90 L208.40,677.90 L208.90,677.90 L209.40,677.90 L209.90,677.90 L210.40,677.90 L210.90,677.90 L211.40,677.90 L211.90,677.90 L212.40,677.90 L212.90,677.90 L213.40,677.90 L213.90,677.90 L214.40,677.90 L214.90,677.90 L215.40,677.90 L215.90,677.90 L216.40,677.90 L216.90,677.90 L217.40,677.90 L217.90,677.90 L218.40,677.90 L218.90,677.90 L219.40,677.90 L219.90,677.90 L220.40,677.90 L220.90,677.90 L221.40,677.90 L221.90,677.90 L222.40,677.90 L222.90,677.90 L223.40,677.90 L223.90,677.90 L224.40,677.90 L224.90,677.90 L225.40,677.90 L225.90,677.90 L226.40,677.90 L226.90,677.90 L227.40,677.90 L227.90,677.90 L228.40,677.90 L228.90,677.90 L229.40,677.90 L229.90,677.90 L230.40,677.90 L230.90,677.90 L231.40,677.90 L231.90,677.90 L232.40,677.90 L232.90,677.90 L233.40,677.90 L233.90,677.90 L234.40,677.90 L234.90,677.90 L235.40,677.90 L235.90,677.90 L236.40,677.90 L236.90,677.90 L237.40,677.90 L237.90,677.90 L238.40,677.90 L238.90,677.90 L239.40,677.90 L239.90,677.90 L240.40,677.90 L240.90,677.90 L241.40,677.90 L241.90,677.90 L242.40,677.90 L242.90,677.90 L243.40,677.90 L243.90,677.90 L244.40,677.90 L244.90,677.90 L245.40,677.90 L245.90,677.90 L246.40,677.90 L246.90,677.90 L247.40,677.90 L247.90,677.90 L248.40,677.90 L248.90,677.90 L249.40,677.90 L249.90,677.90 L250.40,677.90 L250.90,677.90 L251.40,677.90 L251.90,677.90 L252.40,677.90 L252.90,677.90 L253.40,677.90 L253.90,677.90 L254.40,677.90 L254.90,677.90 L255.40,677.90 L255.90,677.90 L256.40,677.90 L256.90,677.90 L257.40,677.90 L257.90,677.90 L258.40,677.90 L258.90,677.90 L259.40,677.90 L259.90,677.90 L260.40,677.90 L260.90,677.90 L261.40,677.90 L261.90,677.90 L262.40,677.90 L262.90,677.90 L263.40,677.90 L263.90,677.90 L264.40,677.90 L264.90,677.90 L265.40,677.90 L265.90,677.90 L266.40,677.90 L266.90,677.90 L267.40,677.90 L267.90,677.90 L268.40,677.90 L268.90,677.90 L269.40,677.90 L269.90,677.90 L270.40,677.90 L270.90,677.90 L271.40,677.90 L271.90,677.90 L272.40,677.90 L272.90,677.90 L273.40,677.90 L273.90,677.90 L274.40,677.90 L274.90,677.90 L275.40,677.90 L275.90,677.90 L276.40,677.90 L276.90,677.90 L277.40,677.90 L277.90,677.90 L278.40,677.90 L278.90,677.90 L279.40,677.90 L279.90,677.90 L280.40,677.90 L280.90,677.90 L281.40,677.90 L281.90,677.90 L282.40,677.90 L282.90,677.90 L283.40,677.90 L283.90,677.90 L284.40,677.90 L284.90,677.90 L285.40,677.90 L285.90,677.90 L286.40,677.90 L286.90,677.90 L287.40,677.90 L287.90,677.90 L288.40,677.90 L288.90,677.90 L289.40,677.90 L289.90,677.90 L290.40,677.90 L290.90,677.90 L291.40,677.90 L291.90,677.90 L292.40,677.90 L292.90,677.89 L293.40,677.78 L293.90,677.18 L294.40,675.51 L294.90,672.67 L295.40,669.33 L295.90,666.37 L296.40,664.25 L296.90,662.98 L297.40,662.32 L297.90,662.04 L298.40,661.93 L298.90,661.91 L299.40,661.90 L299.90,661.90 L300.40,661.90 L300.90,661.90 L301.40,661.90 L301.90,661.91 L302.40,661.96 L302.90,662.12 L303.40,662.53 L303.90,663.40 L304.40,664.99 L304.90,667.47 L305.40,670.67 L305.90,673.92 L306.40,676.33 L306.90,677.52 L307.40,677.85 L307.90,677.90 L308.40,677.90 L308.90,677.90 L309.40,677.90 L309.90,677.90 L310.40,677.90 L310.90,677.90 L311.40,677.90 L311.90,677.90 L312.40,677.90 L312.90,677.90 L313.40,677.90 L313.90,677.90 L314.40,677.90 L314.90,677.90 L315.40,677.90 L315.90,677.90 L316.40,677.90 L316.90,677.90 L317.40,677.90 L317.90,677.90 L318.40,677.90 L318.90,677.90 L319.40,677.90 L319.90,677.90 L320.40,677.90 L320.90,677.90 L321.40,677.90 L321.90,677.90 L322.40,677.90 L322.90,677.90 L323.40,677.90 L323.90,677.90 L324.40,677.90 L324.90,677.90 L325.40,677.90 L325.90,677.90 L326.40,677.90 L326.90,677.90 L327.40,677.90 L327.90,677.90 L328.40,677.90 L328.90,677.90 L329.40,677.90 L329.90,677.90 L330.40,677.90 L330.90,677.90 L331.40,677.90 L331.90,677.90 L332.40,677.90 L332.90,677.90 L333.40,677.90 L333.90,677.90 L334.40,677.90 L334.90,677.90 L335.40,677.90 L335.90,677.90 L336.40,677.90 L336.90,677.90 L337.40,677.90 L337.90,677.90 L338.40,677.90 L338.90,677.90 L339.40,677.90 L339.90,677.90 L340.40,677.90 L340.90,677.90 L341.40,677.90 L341.90,677.90 L342.40,677.90 L342.90,677.90 L343.40,677.90 L343.90,677.90 L344.40,677.90 L344.90,677.90 L345.40,677.90 L345.90,677.90 L346.40,677.90 L346.90,677.90 L347.40,677.90 L347.90,677.90 L348.40,677.90 L348.90,677.90 L349.40,677.90 L349.90,677.90 L350.40,677.90 L350.90,677.90 L351.40,677.90 L351.90,677.90 L352.40,677.90 L352.90,677.90 L353.40,677.90 L353.90,677.90 L354.40,677.90 L354.90,677.90 L355.40,677.90 L355.90,677.90 L356.40,677.90 L356.90,677.90 L357.40,677.90 L357.90,677.90 L358.40,677.90 L358.90,677.90 L359.40,677.90 L359.90,677.90 L360.40,677.90 L360.90,677.90 L361.40,677.90 L361.90,677.90 L362.40,677.90 L362.90,677.90 L363.40,677.90 L363.90,677.90 L364.40,677.90 L364.90,677.90 L365.40,677.90 L365.90,677.90 L366.40,677.90 L366.90,677.90 L367.40,677.90 L367.90,677.90 L368.40,677.90 L368.90,677.90 L369.40,677.90 L369.90,677.90 L370.40,677.90 L370.90,677.90 L371.40,677.90 L371.90,677.90 L372.40,677.90 L372.90,677.90 L373.40,677.90 L373.90,677.90 L374.40,677.90 L374.90,677.90 L375.40,677.90 L375.90,677.90 L376.40,677.90 L376.90,677.90 L377.40,677.90 L377.90,677.90 L378.40,677.90 L378.90,677.90 L379.40,677.90 L379.90,677.90 L380.40,677.90 L380.90,677.90 L381.40,677.90 L381.90,677.90 L382.40,677.90 L382.90,677.90 L383.40,677.90 L383.90,677.90 L384.40,677.90 L384.90,677.90 L385.40,677.90 L385.90,677.90 L386.40,677.90 L386.90,677.90 L387.40,677.90 L387.90,677.90 L388.40,677.90 L388.90,677.90 L389.40,677.90 L389.90,677.90 L390.40,677.90 L390.90,677.90 L391.40,677.90 L391.90,677.90 L392.40,677.90 L392.90,677.90 L393.40,677.90 L393.90,677.90 L394.40,677.90 L394.90,677.90 L395.40,677.90 L395.90,677.90 L396.40,677.90 L396.90,677.90 L397.40,677.90" fill="none" stroke="#6e6ed8" stroke-width="2.2" stroke-dasharray="3.2 1.5"/>
<path d="M64.90,698.00 L65.40,698.00 L65.90,698.00 L66.40,698.00 L66.90,698.00 L67.40,698.00 L67.90,698.00 L68.40,698.00 L68.90,698.00 L69.40,698.00 L69.90,698.00 L70.40,698.00 L70.90,698.00 L71.40,698.00 L71.90,698.00 L72.40,698.00 L72.90,698.00 L73.40,698.00 L73.90,698.00 L74.40,698.00 L74.90,698.00 L75.40,698.00 L75.90,698.00 L76.40,698.00 L76.90,698.00 L77.40,698.00 L77.90,698.00 L78.40,698.00 L78.90,698.00 L79.40,698.00 L79.90,698.00 L80.40,698.00 L80.90,698.00 L81.40,698.00 L81.90,698.00 L82.40,698.00 L82.90,698.00 L83.40,698.00 L83.90,698.00 L84.40,698.00 L84.90,698.00 L85.40,698.00 L85.90,698.00 L86.40,698.00 L86.90,698.00 L87.40,698.00 L87.90,698.00 L88.40,698.00 L88.90,698.00 L89.40,698.00 L89.90,698.00 L90.40,698.00 L90.90,698.00 L91.40,698.00 L91.90,698.00 L92.40,698.00 L92.90,698.00 L93.40,698.00 L93.90,698.00 L94.40,698.00 L94.90,698.00 L95.40,698.00 L95.90,698.00 L96.40,698.00 L96.90,698.00 L97.40,698.00 L97.90,698.00 L98.40,698.00 L98.90,698.00 L99.40,698.00 L99.90,698.00 L100.40,698.00 L100.90,698.00 L101.40,698.00 L101.90,698.00 L102.40,698.00 L102.90,698.00 L103.40,698.00 L103.90,698.00 L104.40,698.00 L104.90,698.00 L105.40,698.00 L105.90,698.00 L106.40,698.00 L106.90,698.00 L107.40,698.00 L107.90,698.00 L108.40,698.00 L108.90,698.00 L109.40,698.00 L109.90,698.00 L110.40,698.00 L110.90,698.00 L111.40,698.00 L111.90,698.00 L112.40,698.00 L112.90,698.00 L113.40,698.00 L113.90,698.00 L114.40,698.00 L114.90,698.00 L115.40,698.00 L115.90,698.00 L116.40,698.00 L116.90,698.00 L117.40,698.00 L117.90,698.00 L118.40,698.00 L118.90,698.00 L119.40,698.00 L119.90,698.00 L120.40,698.00 L120.90,698.00 L121.40,698.00 L121.90,698.00 L122.40,698.00 L122.90,698.00 L123.40,698.00 L123.90,698.00 L124.40,698.00 L124.90,698.00 L125.40,698.00 L125.90,698.00 L126.40,698.00 L126.90,698.00 L127.40,698.00 L127.90,698.00 L128.40,698.00 L128.90,698.00 L129.40,698.00 L129.90,698.00 L130.40,698.00 L130.90,698.00 L131.40,698.00 L131.90,698.00 L132.40,698.00 L132.90,698.00 L133.40,698.00 L133.90,698.00 L134.40,698.00 L134.90,698.00 L135.40,698.00 L135.90,698.00 L136.40,698.00 L136.90,698.00 L137.40,698.00 L137.90,698.00 L138.40,698.00 L138.90,698.00 L139.40,697.99 L139.90,697.99 L140.40,697.99 L140.90,697.99 L141.40,697.98 L141.90,697.98 L142.40,697.97 L142.90,697.96 L143.40,697.95 L143.90,697.94 L144.40,697.92 L144.90,697.90 L145.40,697.88 L145.90,697.85 L146.40,697.82 L146.90,697.78 L147.40,697.73 L147.90,697.68 L148.40,697.62 L148.90,697.55 L149.40,697.48 L149.90,697.39 L150.40,697.30 L150.90,697.20 L151.40,697.09 L151.90,696.97 L152.40,696.85 L152.90,696.72 L153.40,696.58 L153.90,696.44 L154.40,696.30 L154.90,696.16 L155.40,696.02 L155.90,695.89 L156.40,695.76 L156.90,695.64 L157.40,695.53 L157.90,695.43 L158.40,695.35 L158.90,695.29 L159.40,695.24 L159.90,695.21 L160.40,695.20 L160.90,695.21 L161.40,695.24 L161.90,695.29 L162.40,695.35 L162.90,695.43 L163.40,695.53 L163.90,695.64 L164.40,695.76 L164.90,695.89 L165.40,696.02 L165.90,696.16 L166.40,696.30 L166.90,696.44 L167.40,696.58 L167.90,696.72 L168.40,696.85 L168.90,696.97 L169.40,697.09 L169.90,697.20 L170.40,697.30 L170.90,697.39 L171.40,697.48 L171.90,697.55 L172.40,697.62 L172.90,697.68 L173.40,697.73 L173.90,697.78 L174.40,697.82 L174.90,697.85 L175.40,697.88 L175.90,697.90 L176.40,697.92 L176.90,697.94 L177.40,697.95 L177.90,697.96 L178.40,697.97 L178.90,697.98 L179.40,697.98 L179.90,697.99 L180.40,697.99 L180.90,697.99 L181.40,697.99 L181.90,698.00 L182.40,698.00 L182.90,698.00 L183.40,698.00 L183.90,698.00 L184.40,698.00 L184.90,698.00 L185.40,698.00 L185.90,698.00 L186.40,698.00 L186.90,698.00 L187.40,698.00 L187.90,698.00 L188.40,698.00 L188.90,698.00 L189.40,698.00 L189.90,698.00 L190.40,698.00 L190.90,698.00 L191.40,698.00 L191.90,698.00 L192.40,698.00 L192.90,698.00 L193.40,698.00 L193.90,698.00 L194.40,698.00 L194.90,698.00 L195.40,698.00 L195.90,698.00 L196.40,698.00 L196.90,698.00 L197.40,698.00 L197.90,698.00 L198.40,698.00 L198.90,698.00 L199.40,698.00 L199.90,698.00 L200.40,698.00 L200.90,698.00 L201.40,698.00 L201.90,698.00 L202.40,698.00 L202.90,698.00 L203.40,698.00 L203.90,698.00 L204.40,698.00 L204.90,698.00 L205.40,698.00 L205.90,698.00 L206.40,698.00 L206.90,698.00 L207.40,698.00 L207.90,698.00 L208.40,698.00 L208.90,698.00 L209.40,698.00 L209.90,698.00 L210.40,698.00 L210.90,698.00 L211.40,698.00 L211.90,698.00 L212.40,698.00 L212.90,698.00 L213.40,698.00 L213.90,698.00 L214.40,698.00 L214.90,698.00 L215.40,698.00 L215.90,698.00 L216.40,698.00 L216.90,698.00 L217.40,698.00 L217.90,698.00 L218.40,698.00 L218.90,698.00 L219.40,698.00 L219.90,698.00 L220.40,698.00 L220.90,698.00 L221.40,698.00 L221.90,698.00 L222.40,698.00 L222.90,698.00 L223.40,698.00 L223.90,698.00 L224.40,698.00 L224.90,698.00 L225.40,698.00 L225.90,698.00 L226.40,698.00 L226.90,698.00 L227.40,698.00 L227.90,698.00 L228.40,698.00 L228.90,698.00 L229.40,698.00 L229.90,698.00 L230.40,698.00 L230.90,698.00 L231.40,698.00 L231.90,698.00 L232.40,698.00 L232.90,698.00 L233.40,698.00 L233.90,698.00 L234.40,698.00 L234.90,698.00 L235.40,698.00 L235.90,698.00 L236.40,698.00 L236.90,698.00 L237.40,698.00 L237.90,697.99 L238.40,697.99 L238.90,697.99 L239.40,697.99 L239.90,697.99 L240.40,697.98 L240.90,697.98 L241.40,697.97 L241.90,697.97 L242.40,697.96 L242.90,697.95 L243.40,697.94 L243.90,697.93 L244.40,697.92 L244.90,697.90 L245.40,697.88 L245.90,697.86 L246.40,697.84 L246.90,697.81 L247.40,697.77 L247.90,697.74 L248.40,697.69 L248.90,697.64 L249.40,697.59 L249.90,697.53 L250.40,697.46 L250.90,697.39 L251.40,697.31 L251.90,697.22 L252.40,697.12 L252.90,697.01 L253.40,696.89 L253.90,696.77 L254.40,696.64 L254.90,696.50 L255.40,696.35 L255.90,696.19 L256.40,696.02 L256.90,695.85 L257.40,695.67 L257.90,695.49 L258.40,695.31 L258.90,695.12 L259.40,694.93 L259.90,694.74 L260.40,694.55 L260.90,694.37 L261.40,694.19 L261.90,694.02 L262.40,693.86 L262.90,693.70 L263.40,693.56 L263.90,693.43 L264.40,693.32 L264.90,693.22 L265.40,693.14 L265.90,693.08 L266.40,693.03 L266.90,693.01 L267.40,693.00 L267.90,693.01 L268.40,693.05 L268.90,693.10 L269.40,693.17 L269.90,693.26 L270.40,693.36 L270.90,693.48 L271.40,693.62 L271.90,693.76 L272.40,693.92 L272.90,694.09 L273.40,694.26 L273.90,694.44 L274.40,694.63 L274.90,694.82 L275.40,695.01 L275.90,695.19 L276.40,695.38 L276.90,695.57 L277.40,695.75 L277.90,695.92 L278.40,696.09 L278.90,696.25 L279.40,696.41 L279.90,696.55 L280.40,696.69 L280.90,696.82 L281.40,696.94 L281.90,697.05 L282.40,697.15 L282.90,697.24 L283.40,697.32 L283.90,697.39 L284.40,697.45 L284.90,697.51 L285.40,697.55 L285.90,697.58 L286.40,697.60 L286.90,697.61 L287.40,697.60 L287.90,697.58 L288.40,697.55 L288.90,697.49 L289.40,697.42 L289.90,697.32 L290.40,697.20 L290.90,697.05 L291.40,696.86 L291.90,696.64 L292.40,696.39 L292.90,696.09 L293.40,695.74 L293.90,695.35 L294.40,694.91 L294.90,694.42 L295.40,693.88 L295.90,693.28 L296.40,692.64 L296.90,691.95 L297.40,691.21 L297.90,690.44 L298.40,689.64 L298.90,688.82 L299.40,687.99 L299.90,687.16 L300.40,686.34 L300.90,685.54 L301.40,684.79 L301.90,684.08 L302.40,683.44 L302.90,682.87 L303.40,682.39 L303.90,682.01 L304.40,681.73 L304.90,681.56 L305.40,681.50 L305.90,681.57 L306.40,681.77 L306.90,682.10 L307.40,682.56 L307.90,683.12 L308.40,683.78 L308.90,684.52 L309.40,685.33 L309.90,686.19 L310.40,687.09 L310.90,687.99 L311.40,688.90 L311.90,689.79 L312.40,690.66 L312.90,691.49 L313.40,692.27 L313.90,693.00 L314.40,693.67 L314.90,694.29 L315.40,694.84 L315.90,695.33 L316.40,695.77 L316.90,696.15 L317.40,696.47 L317.90,696.75 L318.40,696.99 L318.90,697.19 L319.40,697.35 L319.90,697.49 L320.40,697.60 L320.90,697.69 L321.40,697.76 L321.90,697.82 L322.40,697.86 L322.90,697.90 L323.40,697.92 L323.90,697.94 L324.40,697.96 L324.90,697.97 L325.40,697.98 L325.90,697.98 L326.40,697.99 L326.90,697.99 L327.40,697.99 L327.90,698.00 L328.40,698.00 L328.90,698.00 L329.40,698.00 L329.90,698.00 L330.40,698.00 L330.90,698.00 L331.40,698.00 L331.90,698.00 L332.40,698.00 L332.90,698.00 L333.40,698.00 L333.90,698.00 L334.40,698.00 L334.90,698.00 L335.40,698.00 L335.90,698.00 L336.40,698.00 L336.90,698.00 L337.40,698.00 L337.90,698.00 L338.40,698.00 L338.90,698.00 L339.40,698.00 L339.90,698.00 L340.40,698.00 L340.90,698.00 L341.40,698.00 L341.90,698.00 L342.40,698.00 L342.90,698.00 L343.40,698.00 L343.90,698.00 L344.40,698.00 L344.90,698.00 L345.40,698.00 L345.90,698.00 L346.40,698.00 L346.90,698.00 L347.40,698.00 L347.90,698.00 L348.40,698.00 L348.90,698.00 L349.40,698.00 L349.90,698.00 L350.40,698.00 L350.90,698.00 L351.40,698.00 L351.90,698.00 L352.40,698.00 L352.90,698.00 L353.40,698.00 L353.90,698.00 L354.40,698.00 L354.90,698.00 L355.40,698.00 L355.90,698.00 L356.40,698.00 L356.90,698.00 L357.40,698.00 L357.90,698.00 L358.40,698.00 L358.90,698.00 L359.40,698.00 L359.90,698.00 L360.40,698.00 L360.90,698.00 L361.40,698.00 L361.90,698.00 L362.40,698.00 L362.90,698.00 L363.40,698.00 L363.90,698.00 L364.40,698.00 L364.90,698.00 L365.40,698.00 L365.90,698.00 L366.40,698.00 L366.90,698.00 L367.40,698.00 L367.90,698.00 L368.40,698.00 L368.90,698.00 L369.40,698.00 L369.90,698.00 L370.40,698.00 L370.90,698.00 L371.40,698.00 L371.90,698.00 L372.40,698.00 L372.90,698.00 L373.40,698.00 L373.90,698.00 L374.40,698.00 L374.90,698.00 L375.40,698.00 L375.90,698.00 L376.40,698.00 L376.90,698.00 L377.40,698.00 L377.90,698.00 L378.40,698.00 L378.90,698.00 L379.40,698.00 L379.90,698.00 L380.40,698.00 L380.90,698.00 L381.40,698.00 L381.90,698.00 L382.40,698.00 L382.90,698.00 L383.40,698.00 L383.90,698.00 L384.40,698.00 L384.90,698.00 L385.40,698.00 L385.90,698.00 L386.40,698.00 L386.90,698.00 L387.40,698.00 L387.90,698.00 L388.40,698.00 L388.90,698.00 L389.40,698.00 L389.90,698.00 L390.40,698.00 L390.90,698.00 L391.40,698.00 L391.90,698.00 L392.40,698.00 L392.90,698.00 L393.40,698.00 L393.90,698.00 L394.40,698.00 L394.90,698.00 L395.40,698.00 L395.90,698.00 L396.40,698.00 L396.90,698.00 L397.40,698.00" fill="none" stroke="#e0101a" stroke-width="2.4" stroke-dasharray="5.1 2.9"/>
<path d="M64.90,718.50 L65.40,718.50 L65.90,718.50 L66.40,718.50 L66.90,718.50 L67.40,718.50 L67.90,718.50 L68.40,718.50 L68.90,718.50 L69.40,718.50 L69.90,718.50 L70.40,718.50 L70.90,718.50 L71.40,718.50 L71.90,718.50 L72.40,718.50 L72.90,718.50 L73.40,718.50 L73.90,718.50 L74.40,718.50 L74.90,718.50 L75.40,718.50 L75.90,718.50 L76.40,718.50 L76.90,718.50 L77.40,718.50 L77.90,718.50 L78.40,718.50 L78.90,718.50 L79.40,718.50 L79.90,718.50 L80.40,718.50 L80.90,718.50 L81.40,718.50 L81.90,718.50 L82.40,718.50 L82.90,718.50 L83.40,718.50 L83.90,718.50 L84.40,718.50 L84.90,718.50 L85.40,718.50 L85.90,718.50 L86.40,718.50 L86.90,718.50 L87.40,718.50 L87.90,718.50 L88.40,718.50 L88.90,718.50 L89.40,718.50 L89.90,718.50 L90.40,718.50 L90.90,718.50 L91.40,718.50 L91.90,718.50 L92.40,718.50 L92.90,718.50 L93.40,718.50 L93.90,718.50 L94.40,718.50 L94.90,718.50 L95.40,718.50 L95.90,718.50 L96.40,718.50 L96.90,718.50 L97.40,718.50 L97.90,718.50 L98.40,718.50 L98.90,718.50 L99.40,718.50 L99.90,718.50 L100.40,718.50 L100.90,718.50 L101.40,718.50 L101.90,718.50 L102.40,718.50 L102.90,718.50 L103.40,718.50 L103.90,718.50 L104.40,718.50 L104.90,718.50 L105.40,718.50 L105.90,718.50 L106.40,718.50 L106.90,718.50 L107.40,718.50 L107.90,718.50 L108.40,718.50 L108.90,718.50 L109.40,718.50 L109.90,718.50 L110.40,718.50 L110.90,718.50 L111.40,718.50 L111.90,718.50 L112.40,718.50 L112.90,718.50 L113.40,718.50 L113.90,718.50 L114.40,718.50 L114.90,718.50 L115.40,718.50 L115.90,718.50 L116.40,718.50 L116.90,718.50 L117.40,718.50 L117.90,718.50 L118.40,718.50 L118.90,718.50 L119.40,718.50 L119.90,718.50 L120.40,718.50 L120.90,718.50 L121.40,718.50 L121.90,718.50 L122.40,718.50 L122.90,718.50 L123.40,718.50 L123.90,718.50 L124.40,718.50 L124.90,718.50 L125.40,718.50 L125.90,718.50 L126.40,718.50 L126.90,718.50 L127.40,718.50 L127.90,718.50 L128.40,718.50 L128.90,718.50 L129.40,718.50 L129.90,718.50 L130.40,718.50 L130.90,718.50 L131.40,718.50 L131.90,718.50 L132.40,718.50 L132.90,718.50 L133.40,718.50 L133.90,718.50 L134.40,718.50 L134.90,718.50 L135.40,718.50 L135.90,718.50 L136.40,718.50 L136.90,718.50 L137.40,718.50 L137.90,718.50 L138.40,718.50 L138.90,718.50 L139.40,718.50 L139.90,718.50 L140.40,718.50 L140.90,718.50 L141.40,718.50 L141.90,718.50 L142.40,718.50 L142.90,718.50 L143.40,718.49 L143.90,718.49 L144.40,718.49 L144.90,718.48 L145.40,718.48 L145.90,718.47 L146.40,718.46 L146.90,718.45 L147.40,718.43 L147.90,718.41 L148.40,718.39 L148.90,718.36 L149.40,718.32 L149.90,718.28 L150.40,718.23 L150.90,718.17 L151.40,718.10 L151.90,718.03 L152.40,717.94 L152.90,717.85 L153.40,717.75 L153.90,717.64 L154.40,717.53 L154.90,717.41 L155.40,717.29 L155.90,717.17 L156.40,717.05 L156.90,716.93 L157.40,716.83 L157.90,716.74 L158.40,716.65 L158.90,716.59 L159.40,716.54 L159.90,716.51 L160.40,716.50 L160.90,716.51 L161.40,716.54 L161.90,716.59 L162.40,716.65 L162.90,716.74 L163.40,716.83 L163.90,716.93 L164.40,717.05 L164.90,717.17 L165.40,717.29 L165.90,717.41 L166.40,717.53 L166.90,717.64 L167.40,717.75 L167.90,717.85 L168.40,717.94 L168.90,718.03 L169.40,718.10 L169.90,718.17 L170.40,718.23 L170.90,718.28 L171.40,718.32 L171.90,718.36 L172.40,718.39 L172.90,718.41 L173.40,718.43 L173.90,718.45 L174.40,718.46 L174.90,718.47 L175.40,718.48 L175.90,718.48 L176.40,718.49 L176.90,718.49 L177.40,718.49 L177.90,718.50 L178.40,718.50 L178.90,718.50 L179.40,718.50 L179.90,718.50 L180.40,718.50 L180.90,718.50 L181.40,718.50 L181.90,718.50 L182.40,718.50 L182.90,718.50 L183.40,718.50 L183.90,718.50 L184.40,718.50 L184.90,718.50 L185.40,718.50 L185.90,718.50 L186.40,718.50 L186.90,718.50 L187.40,718.50 L187.90,718.50 L188.40,718.50 L188.90,718.50 L189.40,718.50 L189.90,718.50 L190.40,718.50 L190.90,718.50 L191.40,718.50 L191.90,718.50 L192.40,718.50 L192.90,718.50 L193.40,718.50 L193.90,718.50 L194.40,718.50 L194.90,718.50 L195.40,718.50 L195.90,718.50 L196.40,718.50 L196.90,718.50 L197.40,718.50 L197.90,718.50 L198.40,718.50 L198.90,718.50 L199.40,718.50 L199.90,718.50 L200.40,718.50 L200.90,718.50 L201.40,718.50 L201.90,718.50 L202.40,718.50 L202.90,718.50 L203.40,718.50 L203.90,718.50 L204.40,718.50 L204.90,718.50 L205.40,718.50 L205.90,718.50 L206.40,718.50 L206.90,718.50" fill="none" stroke="#000" stroke-width="2.1"/>
<path d="M255.20,718.44 L255.70,718.42 L256.20,718.40 L256.70,718.38 L257.20,718.36 L257.70,718.33 L258.20,718.29 L258.70,718.26 L259.20,718.21 L259.70,718.16 L260.20,718.10 L260.70,718.04 L261.20,717.97 L261.70,717.90 L262.20,717.82 L262.70,717.73 L263.20,717.64 L263.70,717.55 L264.20,717.45 L264.70,717.35 L265.20,717.25 L265.70,717.15 L266.20,717.05 L266.70,716.95 L267.20,716.86 L267.70,716.78 L268.20,716.71 L268.70,716.64 L269.20,716.59 L269.70,716.55 L270.20,716.52 L270.70,716.50 L271.20,716.50 L271.70,716.51 L272.20,716.54 L272.70,716.58 L273.20,716.63 L273.70,716.69 L274.20,716.77 L274.70,716.85 L275.20,716.93 L275.70,717.03 L276.20,717.13 L276.70,717.23 L277.20,717.33 L277.70,717.43 L278.20,717.53 L278.70,717.62 L279.20,717.71 L279.70,717.80 L280.20,717.88 L280.70,717.96 L281.20,718.02 L281.70,718.09 L282.20,718.14 L282.70,718.19 L283.20,718.23 L283.70,718.26 L284.20,718.28 L284.70,718.30 L285.20,718.30 L285.70,718.29 L286.20,718.27 L286.70,718.24 L287.20,718.19 L287.70,718.11 L288.20,718.01 L288.70,717.88 L289.20,717.71 L289.70,717.51 L290.20,717.25 L290.70,716.95 L291.20,716.58 L291.70,716.16 L292.20,715.66 L292.70,715.09 L293.20,714.45 L293.70,713.73 L294.20,712.95 L294.70,712.09 L295.20,711.18 L295.70,710.22 L296.20,709.24 L296.70,708.23 L297.20,707.23 L297.70,706.25 L298.20,705.33 L298.70,704.47 L299.20,703.71 L299.70,703.06 L300.20,702.54 L300.70,702.17 L301.20,701.95 L301.70,701.90 L302.20,702.04 L302.70,702.37 L303.20,702.87 L303.70,703.54 L304.20,704.35 L304.70,705.27 L305.20,706.28 L305.70,707.34 L306.20,708.43 L306.70,709.52 L307.20,710.59 L307.70,711.61 L308.20,712.57 L308.70,713.46 L309.20,714.26 L309.70,714.98 L310.20,715.61 L310.70,716.15 L311.20,716.62 L311.70,717.01 L312.20,717.33 L312.70,717.60 L313.20,717.81 L313.70,717.98 L314.20,718.11 L314.70,718.21 L315.20,718.29 L315.70,718.35 L316.20,718.39 L316.70,718.42 L317.20,718.45 L317.70,718.46 L318.20,718.48 L318.70,718.48 L319.20,718.49 L319.70,718.49 L320.20,718.50 L320.70,718.50 L321.20,718.50 L321.70,718.50 L322.20,718.50 L322.70,718.50 L323.20,718.50 L323.70,718.50 L324.20,718.50 L324.70,718.50 L325.20,718.50 L325.70,718.50 L326.20,718.50 L326.70,718.50 L327.20,718.50 L327.70,718.50 L328.20,718.50 L328.70,718.50 L329.20,718.50 L329.70,718.50 L330.20,718.50 L330.70,718.50 L331.20,718.50 L331.70,718.50 L332.20,718.50 L332.70,718.50 L333.20,718.50 L333.70,718.50 L334.20,718.50 L334.70,718.50 L335.20,718.50 L335.70,718.50 L336.20,718.50 L336.70,718.50 L337.20,718.50 L337.70,718.50 L338.20,718.50 L338.70,718.50 L339.20,718.50 L339.70,718.50 L340.20,718.50 L340.70,718.50 L341.20,718.50 L341.70,718.50 L342.20,718.50 L342.70,718.50 L343.20,718.50 L343.70,718.50 L344.20,718.50 L344.70,718.50 L345.20,718.50 L345.70,718.50 L346.20,718.50 L346.70,718.50 L347.20,718.50 L347.70,718.50 L348.20,718.50 L348.70,718.50 L349.20,718.50 L349.70,718.50 L350.20,718.50 L350.70,718.50 L351.20,718.50 L351.70,718.50 L352.20,718.50 L352.70,718.50 L353.20,718.50 L353.70,718.50 L354.20,718.50 L354.70,718.50 L355.20,718.50 L355.70,718.50 L356.20,718.50 L356.70,718.50 L357.20,718.50 L357.70,718.50 L358.20,718.50 L358.70,718.50 L359.20,718.50 L359.70,718.50 L360.20,718.50 L360.70,718.50 L361.20,718.50 L361.70,718.50 L362.20,718.50 L362.70,718.50 L363.20,718.50 L363.70,718.50 L364.20,718.50 L364.70,718.50 L365.20,718.50 L365.70,718.50 L366.20,718.50 L366.70,718.50 L367.20,718.50 L367.70,718.50 L368.20,718.50 L368.70,718.50 L369.20,718.50 L369.70,718.50 L370.20,718.50 L370.70,718.50 L371.20,718.50 L371.70,718.50 L372.20,718.50 L372.70,718.50 L373.20,718.50 L373.70,718.50 L374.20,718.50 L374.70,718.50 L375.20,718.50 L375.70,718.50 L376.20,718.50 L376.70,718.50 L377.20,718.50 L377.70,718.50 L378.20,718.50 L378.70,718.50 L379.20,718.50 L379.70,718.50 L380.20,718.50 L380.70,718.50 L381.20,718.50 L381.70,718.50 L382.20,718.50 L382.70,718.50 L383.20,718.50 L383.70,718.50 L384.20,718.50 L384.70,718.50 L385.20,718.50 L385.70,718.50 L386.20,718.50 L386.70,718.50 L387.20,718.50 L387.70,718.50 L388.20,718.50 L388.70,718.50 L389.20,718.50 L389.70,718.50 L390.20,718.50 L390.70,718.50 L391.20,718.50 L391.70,718.50 L392.20,718.50 L392.70,718.50 L393.20,718.50 L393.70,718.50 L394.20,718.50 L394.70,718.50 L395.20,718.50 L395.70,718.50 L396.20,718.50 L396.70,718.50 L397.20,718.50 L397.70,718.50" fill="none" stroke="#000" stroke-width="2.1"/>
<path d="M64.90,752.10 L65.40,752.10 L65.90,752.10 L66.40,752.10 L66.90,752.10 L67.40,752.10 L67.90,752.10 L68.40,752.10 L68.90,752.10 L69.40,752.10 L69.90,752.10 L70.40,752.10 L70.90,752.10 L71.40,752.10 L71.90,752.10 L72.40,752.10 L72.90,752.10 L73.40,752.10 L73.90,752.10 L74.40,752.10 L74.90,752.10 L75.40,752.10 L75.90,752.10 L76.40,752.10 L76.90,752.10 L77.40,752.10 L77.90,752.10 L78.40,752.10 L78.90,752.10 L79.40,752.10 L79.90,752.10 L80.40,752.10 L80.90,752.10 L81.40,752.10 L81.90,752.10 L82.40,752.10 L82.90,752.10 L83.40,752.10 L83.90,752.10 L84.40,752.10 L84.90,752.10 L85.40,752.10 L85.90,752.10 L86.40,752.10 L86.90,752.10 L87.40,752.10 L87.90,752.10 L88.40,752.10 L88.90,752.10 L89.40,752.10 L89.90,752.10 L90.40,752.10 L90.90,752.10 L91.40,752.10 L91.90,752.10 L92.40,752.10 L92.90,752.10 L93.40,752.10 L93.90,752.10 L94.40,752.10 L94.90,752.10 L95.40,752.10 L95.90,752.10 L96.40,752.10 L96.90,752.10 L97.40,752.10 L97.90,752.10 L98.40,752.10 L98.90,752.10 L99.40,752.10 L99.90,752.10 L100.40,752.10 L100.90,752.10 L101.40,752.10 L101.90,752.10 L102.40,752.10 L102.90,752.10 L103.40,752.10 L103.90,752.10 L104.40,752.10 L104.90,752.10 L105.40,752.10 L105.90,752.10 L106.40,752.10 L106.90,752.10 L107.40,752.10 L107.90,752.10 L108.40,752.10 L108.90,752.10 L109.40,752.10 L109.90,752.10 L110.40,752.10 L110.90,752.10 L111.40,752.10 L111.90,752.10 L112.40,752.10 L112.90,752.10 L113.40,752.10 L113.90,752.10 L114.40,752.10 L114.90,752.10 L115.40,752.10 L115.90,752.10 L116.40,752.10 L116.90,752.10 L117.40,752.10 L117.90,752.10 L118.40,752.10 L118.90,752.10 L119.40,752.10 L119.90,752.10 L120.40,752.10 L120.90,752.10 L121.40,752.10 L121.90,752.10 L122.40,752.10 L122.90,752.10 L123.40,752.10 L123.90,752.10 L124.40,752.10 L124.90,752.10 L125.40,752.10 L125.90,752.10 L126.40,752.10 L126.90,752.10 L127.40,752.10 L127.90,752.10 L128.40,752.10 L128.90,752.10 L129.40,752.10 L129.90,752.10 L130.40,752.10 L130.90,752.10 L131.40,752.10 L131.90,752.10 L132.40,752.10 L132.90,752.10 L133.40,752.10 L133.90,752.10 L134.40,752.10 L134.90,752.10 L135.40,752.10 L135.90,752.10 L136.40,752.10 L136.90,752.10 L137.40,752.10 L137.90,752.10 L138.40,752.10 L138.90,752.10 L139.40,752.10 L139.90,752.10 L140.40,752.10 L140.90,752.10 L141.40,752.10 L141.90,752.10 L142.40,752.10 L142.90,752.10 L143.40,752.10 L143.90,752.10 L144.40,752.10 L144.90,752.10 L145.40,752.10 L145.90,752.10 L146.40,752.10 L146.90,752.10 L147.40,752.10 L147.90,752.10 L148.40,752.10 L148.90,752.10 L149.40,752.10 L149.90,752.10 L150.40,752.10 L150.90,752.10 L151.40,752.10 L151.90,752.10 L152.40,752.10 L152.90,752.10 L153.40,752.10 L153.90,752.10 L154.40,752.10 L154.90,752.10 L155.40,752.10 L155.90,752.10 L156.40,752.08 L156.90,751.64 L157.40,749.85 L157.90,747.14 L158.40,744.97 L158.90,743.79 L159.40,743.31 L159.90,743.15 L160.40,743.11 L160.90,743.10 L161.40,743.10 L161.90,743.10 L162.40,743.10 L162.90,743.10 L163.40,743.10 L163.90,743.10 L164.40,743.11 L164.90,743.15 L165.40,743.31 L165.90,743.79 L166.40,744.97 L166.90,747.14 L167.40,749.85 L167.90,751.64 L168.40,752.08 L168.90,752.10 L169.40,752.10 L169.90,752.10 L170.40,752.10 L170.90,752.10 L171.40,752.10 L171.90,752.10 L172.40,752.10 L172.90,752.10 L173.40,752.10 L173.90,752.10 L174.40,752.10 L174.90,752.10 L175.40,752.10 L175.90,752.10 L176.40,752.10 L176.90,752.10 L177.40,752.10 L177.90,752.10 L178.40,752.10 L178.90,752.10 L179.40,752.10 L179.90,752.10 L180.40,752.10 L180.90,752.10 L181.40,752.10 L181.90,752.10 L182.40,752.10 L182.90,752.10 L183.40,752.10 L183.90,752.10 L184.40,752.10 L184.90,752.10 L185.40,752.10 L185.90,752.10 L186.40,752.10 L186.90,752.10 L187.40,752.10 L187.90,752.10 L188.40,752.10 L188.90,752.10 L189.40,752.10 L189.90,752.10 L190.40,752.10 L190.90,752.10 L191.40,752.10 L191.90,752.10 L192.40,752.10 L192.90,752.10 L193.40,752.10 L193.90,752.10 L194.40,752.10 L194.90,752.10 L195.40,752.10 L195.90,752.10 L196.40,752.10 L196.90,752.10 L197.40,752.10 L197.90,752.10 L198.40,752.10 L198.90,752.10 L199.40,752.10 L199.90,752.10 L200.40,752.10 L200.90,752.10 L201.40,752.10 L201.90,752.10 L202.40,752.10 L202.90,752.10 L203.40,752.10 L203.90,752.10 L204.40,752.10 L204.90,752.10 L205.40,752.10 L205.90,752.10 L206.40,752.10 L206.90,752.10 L207.40,752.10 L207.90,752.10 L208.40,752.10 L208.90,752.10 L209.40,752.10 L209.90,752.10 L210.40,752.10 L210.90,752.10 L211.40,752.10 L211.90,752.10 L212.40,752.10 L212.90,752.10 L213.40,752.10 L213.90,752.10 L214.40,752.10 L214.90,752.10 L215.40,752.10 L215.90,752.10 L216.40,752.10 L216.90,752.10 L217.40,752.10 L217.90,752.10 L218.40,752.10 L218.90,752.10 L219.40,752.10 L219.90,752.10 L220.40,752.10 L220.90,752.10 L221.40,752.10 L221.90,752.10 L222.40,752.10 L222.90,752.10 L223.40,752.10 L223.90,752.10 L224.40,752.10 L224.90,752.10 L225.40,752.10 L225.90,752.10 L226.40,752.10 L226.90,752.10 L227.40,752.10 L227.90,752.10 L228.40,752.10 L228.90,752.10 L229.40,752.10 L229.90,752.10 L230.40,752.10 L230.90,752.10 L231.40,752.10 L231.90,752.10 L232.40,752.10 L232.90,752.10 L233.40,752.10 L233.90,752.10 L234.40,752.10 L234.90,752.10 L235.40,752.10 L235.90,752.10 L236.40,752.10 L236.90,752.10 L237.40,752.10 L237.90,752.10 L238.40,752.10 L238.90,752.10 L239.40,752.10 L239.90,752.10 L240.40,752.10 L240.90,752.10 L241.40,752.10 L241.90,752.10 L242.40,752.10 L242.90,752.10 L243.40,752.10 L243.90,752.10 L244.40,752.10 L244.90,752.10 L245.40,752.10 L245.90,752.10 L246.40,752.10 L246.90,752.10 L247.40,752.10 L247.90,752.10 L248.40,752.10 L248.90,752.10 L249.40,752.10 L249.90,752.10 L250.40,752.10 L250.90,752.10 L251.40,752.10 L251.90,752.10 L252.40,752.10 L252.90,752.10 L253.40,752.10 L253.90,752.10 L254.40,752.10 L254.90,752.10 L255.40,752.10 L255.90,752.10 L256.40,752.10 L256.90,752.10 L257.40,752.10 L257.90,752.10 L258.40,752.10 L258.90,752.10 L259.40,752.10 L259.90,752.10 L260.40,752.10 L260.90,752.10 L261.40,752.10 L261.90,752.10 L262.40,752.10 L262.90,752.10 L263.40,752.10 L263.90,752.10 L264.40,752.10 L264.90,752.10 L265.40,752.10 L265.90,752.10 L266.40,752.10 L266.90,752.10 L267.40,752.10 L267.90,752.10 L268.40,752.10 L268.90,752.10 L269.40,752.10 L269.90,752.10 L270.40,752.10 L270.90,752.10 L271.40,752.10 L271.90,752.10 L272.40,752.10 L272.90,752.10 L273.40,752.10 L273.90,752.10 L274.40,752.10 L274.90,752.10 L275.40,752.10 L275.90,752.10 L276.40,752.10 L276.90,752.10 L277.40,752.10 L277.90,752.10 L278.40,752.10 L278.90,752.10 L279.40,752.10 L279.90,752.10 L280.40,752.10 L280.90,752.10 L281.40,752.10 L281.90,752.10 L282.40,752.10 L282.90,752.10 L283.40,752.10 L283.90,752.10 L284.40,752.10 L284.90,752.10 L285.40,752.10 L285.90,752.10 L286.40,752.10 L286.90,752.10 L287.40,752.10 L287.90,752.10 L288.40,752.10 L288.90,752.10 L289.40,752.10 L289.90,752.10 L290.40,752.10 L290.90,752.10 L291.40,752.10 L291.90,752.10 L292.40,752.10 L292.90,752.10 L293.40,752.08 L293.90,751.91 L294.40,751.10 L294.90,749.08 L295.40,745.92 L295.90,742.42 L296.40,739.47 L296.90,737.43 L297.40,736.25 L297.90,735.66 L298.40,735.41 L298.90,735.33 L299.40,735.30 L299.90,735.30 L300.40,735.30 L300.90,735.30 L301.40,735.30 L301.90,735.30 L302.40,735.32 L302.90,735.39 L303.40,735.59 L303.90,736.09 L304.40,737.14 L304.90,738.99 L305.40,741.77 L305.90,745.21 L306.40,748.52 L306.90,750.80 L307.40,751.82 L307.90,752.07 L308.40,752.10 L308.90,752.10 L309.40,752.10 L309.90,752.10 L310.40,752.10 L310.90,752.10 L311.40,752.10 L311.90,752.10 L312.40,752.10 L312.90,752.10 L313.40,752.10 L313.90,752.10 L314.40,752.10 L314.90,752.10 L315.40,752.10 L315.90,752.10 L316.40,752.10 L316.90,752.10 L317.40,752.10 L317.90,752.10 L318.40,752.10 L318.90,752.10 L319.40,752.10 L319.90,752.10 L320.40,752.10 L320.90,752.10 L321.40,752.10 L321.90,752.10 L322.40,752.10 L322.90,752.10 L323.40,752.10 L323.90,752.10 L324.40,752.10 L324.90,752.10 L325.40,752.10 L325.90,752.10 L326.40,752.10 L326.90,752.10 L327.40,752.10 L327.90,752.10 L328.40,752.10 L328.90,752.10 L329.40,752.10 L329.90,752.10 L330.40,752.10 L330.90,752.10 L331.40,752.10 L331.90,752.10 L332.40,752.10 L332.90,752.10 L333.40,752.10 L333.90,752.10 L334.40,752.10 L334.90,752.10 L335.40,752.10 L335.90,752.10 L336.40,752.10 L336.90,752.10 L337.40,752.10 L337.90,752.10 L338.40,752.10 L338.90,752.10 L339.40,752.10 L339.90,752.10 L340.40,752.10 L340.90,752.10 L341.40,752.10 L341.90,752.10 L342.40,752.10 L342.90,752.10 L343.40,752.10 L343.90,752.10 L344.40,752.10 L344.90,752.10 L345.40,752.10 L345.90,752.10 L346.40,752.10 L346.90,752.10 L347.40,752.10 L347.90,752.10 L348.40,752.10 L348.90,752.10 L349.40,752.10 L349.90,752.10 L350.40,752.10 L350.90,752.10 L351.40,752.10 L351.90,752.10 L352.40,752.10 L352.90,752.10 L353.40,752.10 L353.90,752.10 L354.40,752.10 L354.90,752.10 L355.40,752.10 L355.90,752.10 L356.40,752.10 L356.90,752.10 L357.40,752.10 L357.90,752.10 L358.40,752.10 L358.90,752.10 L359.40,752.10 L359.90,752.10 L360.40,752.10 L360.90,752.10 L361.40,752.10 L361.90,752.10 L362.40,752.10 L362.90,752.10 L363.40,752.10 L363.90,752.10 L364.40,752.10 L364.90,752.10 L365.40,752.10 L365.90,752.10 L366.40,752.10 L366.90,752.10 L367.40,752.10 L367.90,752.10 L368.40,752.10 L368.90,752.10 L369.40,752.10 L369.90,752.10 L370.40,752.10 L370.90,752.10 L371.40,752.10 L371.90,752.10 L372.40,752.10 L372.90,752.10 L373.40,752.10 L373.90,752.10 L374.40,752.10 L374.90,752.10 L375.40,752.10 L375.90,752.10 L376.40,752.10 L376.90,752.10 L377.40,752.10 L377.90,752.10 L378.40,752.10 L378.90,752.10 L379.40,752.10 L379.90,752.10 L380.40,752.10 L380.90,752.10 L381.40,752.10 L381.90,752.10 L382.40,752.10 L382.90,752.10 L383.40,752.10 L383.90,752.10 L384.40,752.10 L384.90,752.10 L385.40,752.10 L385.90,752.10 L386.40,752.10 L386.90,752.10 L387.40,752.10 L387.90,752.10 L388.40,752.10 L388.90,752.10 L389.40,752.10 L389.90,752.10 L390.40,752.10 L390.90,752.10 L391.40,752.10 L391.90,752.10 L392.40,752.10 L392.90,752.10 L393.40,752.10 L393.90,752.10 L394.40,752.10 L394.90,752.10 L395.40,752.10 L395.90,752.10 L396.40,752.10 L396.90,752.10 L397.40,752.10" fill="none" stroke="#6e6ed8" stroke-width="2.2" stroke-dasharray="3.2 1.5"/>
<path d="M64.90,771.80 L65.40,771.80 L65.90,771.80 L66.40,771.80 L66.90,771.80 L67.40,771.80 L67.90,771.80 L68.40,771.80 L68.90,771.80 L69.40,771.80 L69.90,771.80 L70.40,771.80 L70.90,771.80 L71.40,771.80 L71.90,771.80 L72.40,771.80 L72.90,771.80 L73.40,771.80 L73.90,771.80 L74.40,771.80 L74.90,771.80 L75.40,771.80 L75.90,771.80 L76.40,771.80 L76.90,771.80 L77.40,771.80 L77.90,771.80 L78.40,771.80 L78.90,771.80 L79.40,771.80 L79.90,771.80 L80.40,771.80 L80.90,771.80 L81.40,771.80 L81.90,771.80 L82.40,771.80 L82.90,771.80 L83.40,771.80 L83.90,771.80 L84.40,771.80 L84.90,771.80 L85.40,771.80 L85.90,771.80 L86.40,771.80 L86.90,771.80 L87.40,771.80 L87.90,771.80 L88.40,771.80 L88.90,771.80 L89.40,771.80 L89.90,771.80 L90.40,771.80 L90.90,771.80 L91.40,771.80 L91.90,771.80 L92.40,771.80 L92.90,771.80 L93.40,771.80 L93.90,771.80 L94.40,771.80 L94.90,771.80 L95.40,771.80 L95.90,771.80 L96.40,771.80 L96.90,771.80 L97.40,771.80 L97.90,771.80 L98.40,771.80 L98.90,771.80 L99.40,771.80 L99.90,771.80 L100.40,771.80 L100.90,771.80 L101.40,771.80 L101.90,771.80 L102.40,771.80 L102.90,771.80 L103.40,771.80 L103.90,771.80 L104.40,771.80 L104.90,771.80 L105.40,771.80 L105.90,771.80 L106.40,771.80 L106.90,771.80 L107.40,771.80 L107.90,771.80 L108.40,771.80 L108.90,771.80 L109.40,771.80 L109.90,771.80 L110.40,771.80 L110.90,771.80 L111.40,771.80 L111.90,771.80 L112.40,771.80 L112.90,771.80 L113.40,771.80 L113.90,771.80 L114.40,771.80 L114.90,771.80 L115.40,771.80 L115.90,771.80 L116.40,771.80 L116.90,771.80 L117.40,771.80 L117.90,771.80 L118.40,771.80 L118.90,771.80 L119.40,771.80 L119.90,771.80 L120.40,771.80 L120.90,771.80 L121.40,771.80 L121.90,771.80 L122.40,771.80 L122.90,771.80 L123.40,771.80 L123.90,771.80 L124.40,771.80 L124.90,771.80 L125.40,771.80 L125.90,771.80 L126.40,771.80 L126.90,771.80 L127.40,771.80 L127.90,771.80 L128.40,771.80 L128.90,771.80 L129.40,771.80 L129.90,771.80 L130.40,771.80 L130.90,771.80 L131.40,771.80 L131.90,771.80 L132.40,771.80 L132.90,771.80 L133.40,771.80 L133.90,771.80 L134.40,771.80 L134.90,771.80 L135.40,771.80 L135.90,771.80 L136.40,771.79 L136.90,771.79 L137.40,771.79 L137.90,771.79 L138.40,771.78 L138.90,771.77 L139.40,771.77 L139.90,771.76 L140.40,771.74 L140.90,771.73 L141.40,771.70 L141.90,771.68 L142.40,771.64 L142.90,771.60 L143.40,771.55 L143.90,771.49 L144.40,771.42 L144.90,771.34 L145.40,771.23 L145.90,771.12 L146.40,770.98 L146.90,770.82 L147.40,770.64 L147.90,770.43 L148.40,770.20 L148.90,769.94 L149.40,769.66 L149.90,769.34 L150.40,769.01 L150.90,768.65 L151.40,768.26 L151.90,767.86 L152.40,767.45 L152.90,767.02 L153.40,766.58 L153.90,766.15 L154.40,765.72 L154.90,765.31 L155.40,764.91 L155.90,764.55 L156.40,764.21 L156.90,763.92 L157.40,763.66 L157.90,763.46 L158.40,763.32 L158.90,763.23 L159.40,763.20 L159.90,763.23 L160.40,763.32 L160.90,763.46 L161.40,763.66 L161.90,763.92 L162.40,764.21 L162.90,764.55 L163.40,764.91 L163.90,765.31 L164.40,765.72 L164.90,766.15 L165.40,766.58 L165.90,767.02 L166.40,767.45 L166.90,767.86 L167.40,768.26 L167.90,768.65 L168.40,769.01 L168.90,769.34 L169.40,769.66 L169.90,769.94 L170.40,770.20 L170.90,770.43 L171.40,770.64 L171.90,770.82 L172.40,770.98 L172.90,771.12 L173.40,771.23 L173.90,771.34 L174.40,771.42 L174.90,771.49 L175.40,771.55 L175.90,771.60 L176.40,771.64 L176.90,771.68 L177.40,771.70 L177.90,771.73 L178.40,771.74 L178.90,771.76 L179.40,771.77 L179.90,771.77 L180.40,771.78 L180.90,771.79 L181.40,771.79 L181.90,771.79 L182.40,771.79 L182.90,771.80 L183.40,771.80 L183.90,771.80 L184.40,771.80 L184.90,771.80 L185.40,771.80 L185.90,771.80 L186.40,771.80 L186.90,771.80 L187.40,771.80 L187.90,771.80 L188.40,771.80 L188.90,771.80 L189.40,771.80 L189.90,771.80 L190.40,771.80 L190.90,771.80 L191.40,771.80 L191.90,771.80 L192.40,771.80 L192.90,771.80 L193.40,771.80 L193.90,771.80 L194.40,771.80 L194.90,771.80 L195.40,771.80 L195.90,771.80 L196.40,771.80 L196.90,771.80 L197.40,771.80 L197.90,771.80 L198.40,771.80 L198.90,771.80 L199.40,771.80 L199.90,771.80 L200.40,771.80 L200.90,771.80 L201.40,771.80 L201.90,771.80 L202.40,771.80 L202.90,771.80 L203.40,771.80 L203.90,771.80 L204.40,771.80 L204.90,771.80 L205.40,771.80 L205.90,771.80 L206.40,771.80 L206.90,771.80 L207.40,771.80 L207.90,771.80 L208.40,771.80 L208.90,771.80 L209.40,771.80 L209.90,771.79 L210.40,771.79 L210.90,771.79 L211.40,771.79 L211.90,771.79 L212.40,771.79 L212.90,771.78 L213.40,771.78 L213.90,771.78 L214.40,771.77 L214.90,771.77 L215.40,771.76 L215.90,771.76 L216.40,771.75 L216.90,771.74 L217.40,771.73 L217.90,771.72 L218.40,771.70 L218.90,771.69 L219.40,771.67 L219.90,771.65 L220.40,771.63 L220.90,771.61 L221.40,771.58 L221.90,771.55 L222.40,771.51 L222.90,771.48 L223.40,771.43 L223.90,771.39 L224.40,771.34 L224.90,771.28 L225.40,771.22 L225.90,771.15 L226.40,771.08 L226.90,771.00 L227.40,770.91 L227.90,770.81 L228.40,770.71 L228.90,770.60 L229.40,770.49 L229.90,770.36 L230.40,770.23 L230.90,770.09 L231.40,769.95 L231.90,769.79 L232.40,769.63 L232.90,769.46 L233.40,769.28 L233.90,769.10 L234.40,768.91 L234.90,768.71 L235.40,768.51 L235.90,768.31 L236.40,768.10 L236.90,767.89 L237.40,767.68 L237.90,767.47 L238.40,767.26 L238.90,767.05 L239.40,766.84 L239.90,766.64 L240.40,766.44 L240.90,766.24 L241.40,766.06 L241.90,765.88 L242.40,765.72 L242.90,765.56 L243.40,765.42 L243.90,765.29 L244.40,765.17 L244.90,765.07 L245.40,764.98 L245.90,764.91 L246.40,764.86 L246.90,764.82 L247.40,764.80 L247.90,764.80 L248.40,764.82 L248.90,764.85 L249.40,764.90 L249.90,764.97 L250.40,765.05 L250.90,765.15 L251.40,765.26 L251.90,765.39 L252.40,765.53 L252.90,765.69 L253.40,765.85 L253.90,766.02 L254.40,766.21 L254.90,766.40 L255.40,766.60 L255.90,766.80 L256.40,767.01 L256.90,767.22 L257.40,767.43 L257.90,767.64 L258.40,767.85 L258.90,768.06 L259.40,768.27 L259.90,768.47 L260.40,768.67 L260.90,768.87 L261.40,769.06 L261.90,769.25 L262.40,769.42 L262.90,769.60 L263.40,769.76 L263.90,769.92 L264.40,770.06 L264.90,770.21 L265.40,770.34 L265.90,770.46 L266.40,770.58 L266.90,770.69 L267.40,770.79 L267.90,770.89 L268.40,770.98 L268.90,771.06 L269.40,771.14 L269.90,771.20 L270.40,771.27 L270.90,771.33 L271.40,771.38 L271.90,771.43 L272.40,771.47 L272.90,771.51 L273.40,771.54 L273.90,771.57 L274.40,771.60 L274.90,771.63 L275.40,771.65 L275.90,771.67 L276.40,771.69 L276.90,771.70 L277.40,771.71 L277.90,771.73 L278.40,771.74 L278.90,771.74 L279.40,771.75 L279.90,771.76 L280.40,771.76 L280.90,771.76 L281.40,771.76 L281.90,771.76 L282.40,771.76 L282.90,771.75 L283.40,771.75 L283.90,771.73 L284.40,771.72 L284.90,771.70 L285.40,771.67 L285.90,771.63 L286.40,771.58 L286.90,771.53 L287.40,771.45 L287.90,771.37 L288.40,771.26 L288.90,771.13 L289.40,770.97 L289.90,770.79 L290.40,770.57 L290.90,770.32 L291.40,770.02 L291.90,769.68 L292.40,769.30 L292.90,768.86 L293.40,768.38 L293.90,767.84 L294.40,767.24 L294.90,766.60 L295.40,765.90 L295.90,765.15 L296.40,764.37 L296.90,763.55 L297.40,762.70 L297.90,761.83 L298.40,760.96 L298.90,760.09 L299.40,759.24 L299.90,758.42 L300.40,757.64 L300.90,756.93 L301.40,756.28 L301.90,755.73 L302.40,755.26 L302.90,754.90 L303.40,754.65 L303.90,754.52 L304.40,754.51 L304.90,754.64 L305.40,754.91 L305.90,755.31 L306.40,755.83 L306.90,756.46 L307.40,757.19 L307.90,758.00 L308.40,758.88 L308.90,759.79 L309.40,760.74 L309.90,761.69 L310.40,762.64 L310.90,763.56 L311.40,764.46 L311.90,765.31 L312.40,766.11 L312.90,766.85 L313.40,767.53 L313.90,768.15 L314.40,768.70 L314.90,769.19 L315.40,769.62 L315.90,770.00 L316.40,770.32 L316.90,770.60 L317.40,770.83 L317.90,771.02 L318.40,771.18 L318.90,771.31 L319.40,771.42 L319.90,771.51 L320.40,771.57 L320.90,771.63 L321.40,771.67 L321.90,771.70 L322.40,771.73 L322.90,771.75 L323.40,771.76 L323.90,771.77 L324.40,771.78 L324.90,771.79 L325.40,771.79 L325.90,771.79 L326.40,771.79 L326.90,771.80 L327.40,771.80 L327.90,771.80 L328.40,771.80 L328.90,771.80 L329.40,771.80 L329.90,771.80 L330.40,771.80 L330.90,771.80 L331.40,771.80 L331.90,771.80 L332.40,771.80 L332.90,771.80 L333.40,771.80 L333.90,771.80 L334.40,771.80 L334.90,771.80 L335.40,771.80 L335.90,771.80 L336.40,771.80 L336.90,771.80 L337.40,771.80 L337.90,771.80 L338.40,771.80 L338.90,771.80 L339.40,771.80 L339.90,771.80 L340.40,771.80 L340.90,771.80 L341.40,771.80 L341.90,771.80 L342.40,771.80 L342.90,771.80 L343.40,771.80 L343.90,771.80 L344.40,771.80 L344.90,771.80 L345.40,771.80 L345.90,771.80 L346.40,771.80 L346.90,771.80 L347.40,771.80 L347.90,771.80 L348.40,771.80 L348.90,771.80 L349.40,771.80 L349.90,771.80 L350.40,771.80 L350.90,771.80 L351.40,771.80 L351.90,771.80 L352.40,771.80 L352.90,771.80 L353.40,771.80 L353.90,771.80 L354.40,771.80 L354.90,771.80 L355.40,771.80 L355.90,771.80 L356.40,771.80 L356.90,771.80 L357.40,771.80 L357.90,771.80 L358.40,771.80 L358.90,771.80 L359.40,771.80 L359.90,771.80 L360.40,771.80 L360.90,771.80 L361.40,771.80 L361.90,771.80 L362.40,771.80 L362.90,771.80 L363.40,771.80 L363.90,771.80 L364.40,771.80 L364.90,771.80 L365.40,771.80 L365.90,771.80 L366.40,771.80 L366.90,771.80 L367.40,771.80 L367.90,771.80 L368.40,771.80 L368.90,771.80 L369.40,771.80 L369.90,771.80 L370.40,771.80 L370.90,771.80 L371.40,771.80 L371.90,771.80 L372.40,771.80 L372.90,771.80 L373.40,771.80 L373.90,771.80 L374.40,771.80 L374.90,771.80 L375.40,771.80 L375.90,771.80 L376.40,771.80 L376.90,771.80 L377.40,771.80 L377.90,771.80 L378.40,771.80 L378.90,771.80 L379.40,771.80 L379.90,771.80 L380.40,771.80 L380.90,771.80 L381.40,771.80 L381.90,771.80 L382.40,771.80 L382.90,771.80 L383.40,771.80 L383.90,771.80 L384.40,771.80 L384.90,771.80 L385.40,771.80 L385.90,771.80 L386.40,771.80 L386.90,771.80 L387.40,771.80 L387.90,771.80 L388.40,771.80 L388.90,771.80 L389.40,771.80 L389.90,771.80 L390.40,771.80 L390.90,771.80 L391.40,771.80 L391.90,771.80 L392.40,771.80 L392.90,771.80 L393.40,771.80 L393.90,771.80 L394.40,771.80 L394.90,771.80 L395.40,771.80 L395.90,771.80 L396.40,771.80 L396.90,771.80 L397.40,771.80" fill="none" stroke="#e0101a" stroke-width="2.4" stroke-dasharray="5.1 2.9"/>
<path d="M64.90,792.00 L65.40,792.00 L65.90,792.00 L66.40,792.00 L66.90,792.00 L67.40,792.00 L67.90,792.00 L68.40,792.00 L68.90,792.00 L69.40,792.00 L69.90,792.00 L70.40,792.00 L70.90,792.00 L71.40,792.00 L71.90,792.00 L72.40,792.00 L72.90,792.00 L73.40,792.00 L73.90,792.00 L74.40,792.00 L74.90,792.00 L75.40,792.00 L75.90,792.00 L76.40,792.00 L76.90,792.00 L77.40,792.00 L77.90,792.00 L78.40,792.00 L78.90,792.00 L79.40,792.00 L79.90,792.00 L80.40,792.00 L80.90,792.00 L81.40,792.00 L81.90,792.00 L82.40,792.00 L82.90,792.00 L83.40,792.00 L83.90,792.00 L84.40,792.00 L84.90,792.00 L85.40,792.00 L85.90,792.00 L86.40,792.00 L86.90,792.00 L87.40,792.00 L87.90,792.00 L88.40,792.00 L88.90,792.00 L89.40,792.00 L89.90,792.00 L90.40,792.00 L90.90,792.00 L91.40,792.00 L91.90,792.00 L92.40,792.00 L92.90,792.00 L93.40,792.00 L93.90,792.00 L94.40,792.00 L94.90,792.00 L95.40,792.00 L95.90,792.00 L96.40,792.00 L96.90,792.00 L97.40,792.00 L97.90,792.00 L98.40,792.00 L98.90,792.00 L99.40,792.00 L99.90,792.00 L100.40,792.00 L100.90,792.00 L101.40,792.00 L101.90,792.00 L102.40,792.00 L102.90,792.00 L103.40,792.00 L103.90,792.00 L104.40,792.00 L104.90,792.00 L105.40,792.00 L105.90,792.00 L106.40,792.00 L106.90,792.00 L107.40,792.00 L107.90,792.00 L108.40,792.00 L108.90,792.00 L109.40,792.00 L109.90,792.00 L110.40,792.00 L110.90,792.00 L111.40,792.00 L111.90,792.00 L112.40,792.00 L112.90,792.00 L113.40,792.00 L113.90,792.00 L114.40,792.00 L114.90,792.00 L115.40,792.00 L115.90,792.00 L116.40,792.00 L116.90,792.00 L117.40,792.00 L117.90,792.00 L118.40,792.00 L118.90,792.00 L119.40,792.00 L119.90,792.00 L120.40,792.00 L120.90,792.00 L121.40,792.00 L121.90,792.00 L122.40,792.00 L122.90,792.00 L123.40,792.00 L123.90,792.00 L124.40,792.00 L124.90,792.00 L125.40,792.00 L125.90,792.00 L126.40,792.00 L126.90,792.00 L127.40,792.00 L127.90,792.00 L128.40,792.00 L128.90,792.00 L129.40,792.00 L129.90,792.00 L130.40,792.00 L130.90,792.00 L131.40,792.00 L131.90,792.00 L132.40,792.00 L132.90,792.00 L133.40,792.00 L133.90,792.00 L134.40,792.00 L134.90,792.00 L135.40,792.00 L135.90,792.00 L136.40,792.00 L136.90,792.00 L137.40,792.00 L137.90,791.99 L138.40,791.99 L138.90,791.99 L139.40,791.98 L139.90,791.98 L140.40,791.97 L140.90,791.97 L141.40,791.95 L141.90,791.94 L142.40,791.92 L142.90,791.90 L143.40,791.88 L143.90,791.84 L144.40,791.81 L144.90,791.76 L145.40,791.70 L145.90,791.64 L146.40,791.56 L146.90,791.46 L147.40,791.36 L147.90,791.23 L148.40,791.09 L148.90,790.93 L149.40,790.75 L149.90,790.55 L150.40,790.33 L150.90,790.09 L151.40,789.84 L151.90,789.56 L152.40,789.27 L152.90,788.96 L153.40,788.64 L153.90,788.32 L154.40,787.99 L154.90,787.66 L155.40,787.34 L155.90,787.03 L156.40,786.74 L156.90,786.46 L157.40,786.22 L157.90,786.00 L158.40,785.82 L158.90,785.67 L159.40,785.57 L159.90,785.51 L160.40,785.50 L160.90,785.53 L161.40,785.61 L161.90,785.73 L162.40,785.89 L162.90,786.08 L163.40,786.31 L163.90,786.57 L164.40,786.85 L164.90,787.16 L165.40,787.47 L165.90,787.80 L166.40,788.12 L166.90,788.45 L167.40,788.77 L167.90,789.09 L168.40,789.39 L168.90,789.67 L169.40,789.94 L169.90,790.19 L170.40,790.42 L170.90,790.63 L171.40,790.83 L171.90,791.00 L172.40,791.15 L172.90,791.28 L173.40,791.40 L173.90,791.50 L174.40,791.59 L174.90,791.66 L175.40,791.73 L175.90,791.78 L176.40,791.82 L176.90,791.86 L177.40,791.89 L177.90,791.91 L178.40,791.93 L178.90,791.95 L179.40,791.96 L179.90,791.97 L180.40,791.98 L180.90,791.98 L181.40,791.99 L181.90,791.99 L182.40,791.99 L182.90,791.99 L183.40,792.00 L183.90,792.00 L184.40,792.00 L184.90,792.00 L185.40,792.00 L185.90,792.00 L186.40,792.00 L186.90,792.00 L187.40,792.00 L187.90,792.00 L188.40,792.00 L188.90,792.00 L189.40,792.00 L189.90,792.00 L190.40,792.00 L190.90,792.00 L191.40,792.00 L191.90,792.00 L192.40,792.00 L192.90,792.00 L193.40,792.00 L193.90,792.00 L194.40,792.00 L194.90,792.00 L195.40,792.00 L195.90,792.00 L196.40,792.00 L196.90,792.00 L197.40,792.00 L197.90,792.00 L198.40,792.00 L198.90,792.00 L199.40,792.00 L199.90,792.00 L200.40,792.00 L200.90,792.00 L201.40,792.00 L201.90,792.00 L202.40,792.00 L202.90,792.00 L203.40,792.00 L203.90,792.00 L204.40,792.00 L204.90,792.00 L205.40,792.00 L205.90,792.00 L206.40,792.00 L206.90,792.00" fill="none" stroke="#000" stroke-width="2.1"/>
<path d="M255.20,789.84 L255.70,789.89 L256.20,789.94 L256.70,790.01 L257.20,790.09 L257.70,790.18 L258.20,790.28 L258.70,790.38 L259.20,790.49 L259.70,790.60 L260.20,790.71 L260.70,790.82 L261.20,790.93 L261.70,791.03 L262.20,791.14 L262.70,791.23 L263.20,791.32 L263.70,791.40 L264.20,791.48 L264.70,791.55 L265.20,791.61 L265.70,791.67 L266.20,791.72 L266.70,791.77 L267.20,791.80 L267.70,791.84 L268.20,791.87 L268.70,791.89 L269.20,791.91 L269.70,791.93 L270.20,791.94 L270.70,791.95 L271.20,791.96 L271.70,791.97 L272.20,791.98 L272.70,791.98 L273.20,791.99 L273.70,791.99 L274.20,791.99 L274.70,791.99 L275.20,792.00 L275.70,792.00 L276.20,792.00 L276.70,792.00 L277.20,792.00 L277.70,792.00 L278.20,792.00 L278.70,792.00 L279.20,792.00 L279.70,792.00 L280.20,792.00 L280.70,792.00 L281.20,792.00 L281.70,792.00 L282.20,791.99 L282.70,791.99 L283.20,791.98 L283.70,791.98 L284.20,791.97 L284.70,791.96 L285.20,791.94 L285.70,791.91 L286.20,791.88 L286.70,791.84 L287.20,791.78 L287.70,791.71 L288.20,791.61 L288.70,791.49 L289.20,791.34 L289.70,791.16 L290.20,790.93 L290.70,790.66 L291.20,790.33 L291.70,789.94 L292.20,789.49 L292.70,788.96 L293.20,788.37 L293.70,787.70 L294.20,786.96 L294.70,786.15 L295.20,785.28 L295.70,784.35 L296.20,783.38 L296.70,782.39 L297.20,781.39 L297.70,780.41 L298.20,779.45 L298.70,778.56 L299.20,777.74 L299.70,777.02 L300.20,776.43 L300.70,775.97 L301.20,775.66 L301.70,775.51 L302.20,775.54 L302.70,775.75 L303.20,776.15 L303.70,776.72 L304.20,777.44 L304.70,778.29 L305.20,779.24 L305.70,780.27 L306.20,781.34 L306.70,782.43 L307.20,783.50 L307.70,784.55 L308.20,785.54 L308.70,786.47 L309.20,787.32 L309.70,788.08 L310.20,788.76 L310.70,789.35 L311.20,789.86 L311.70,790.29 L312.20,790.65 L312.70,790.95 L313.20,791.19 L313.70,791.39 L314.20,791.54 L314.70,791.66 L315.20,791.75 L315.70,791.82 L316.20,791.87 L316.70,791.91 L317.20,791.93 L317.70,791.95 L318.20,791.97 L318.70,791.98 L319.20,791.99 L319.70,791.99 L320.20,791.99 L320.70,792.00 L321.20,792.00 L321.70,792.00 L322.20,792.00 L322.70,792.00 L323.20,792.00 L323.70,792.00 L324.20,792.00 L324.70,792.00 L325.20,792.00 L325.70,792.00 L326.20,792.00 L326.70,792.00 L327.20,792.00 L327.70,792.00 L328.20,792.00 L328.70,792.00 L329.20,792.00 L329.70,792.00 L330.20,792.00 L330.70,792.00 L331.20,792.00 L331.70,792.00 L332.20,792.00 L332.70,792.00 L333.20,792.00 L333.70,792.00 L334.20,792.00 L334.70,792.00 L335.20,792.00 L335.70,792.00 L336.20,792.00 L336.70,792.00 L337.20,792.00 L337.70,792.00 L338.20,792.00 L338.70,792.00 L339.20,792.00 L339.70,792.00 L340.20,792.00 L340.70,792.00 L341.20,792.00 L341.70,792.00 L342.20,792.00 L342.70,792.00 L343.20,792.00 L343.70,792.00 L344.20,792.00 L344.70,792.00 L345.20,792.00 L345.70,792.00 L346.20,792.00 L346.70,792.00 L347.20,792.00 L347.70,792.00 L348.20,792.00 L348.70,792.00 L349.20,792.00 L349.70,792.00 L350.20,792.00 L350.70,792.00 L351.20,792.00 L351.70,792.00 L352.20,792.00 L352.70,792.00 L353.20,792.00 L353.70,792.00 L354.20,792.00 L354.70,792.00 L355.20,792.00 L355.70,792.00 L356.20,792.00 L356.70,792.00 L357.20,792.00 L357.70,792.00 L358.20,792.00 L358.70,792.00 L359.20,792.00 L359.70,792.00 L360.20,792.00 L360.70,792.00 L361.20,792.00 L361.70,792.00 L362.20,792.00 L362.70,792.00 L363.20,792.00 L363.70,792.00 L364.20,792.00 L364.70,792.00 L365.20,792.00 L365.70,792.00 L366.20,792.00 L366.70,792.00 L367.20,792.00 L367.70,792.00 L368.20,792.00 L368.70,792.00 L369.20,792.00 L369.70,792.00 L370.20,792.00 L370.70,792.00 L371.20,792.00 L371.70,792.00 L372.20,792.00 L372.70,792.00 L373.20,792.00 L373.70,792.00 L374.20,792.00 L374.70,792.00 L375.20,792.00 L375.70,792.00 L376.20,792.00 L376.70,792.00 L377.20,792.00 L377.70,792.00 L378.20,792.00 L378.70,792.00 L379.20,792.00 L379.70,792.00 L380.20,792.00 L380.70,792.00 L381.20,792.00 L381.70,792.00 L382.20,792.00 L382.70,792.00 L383.20,792.00 L383.70,792.00 L384.20,792.00 L384.70,792.00 L385.20,792.00 L385.70,792.00 L386.20,792.00 L386.70,792.00 L387.20,792.00 L387.70,792.00 L388.20,792.00 L388.70,792.00 L389.20,792.00 L389.70,792.00 L390.20,792.00 L390.70,792.00 L391.20,792.00 L391.70,792.00 L392.20,792.00 L392.70,792.00 L393.20,792.00 L393.70,792.00 L394.20,792.00 L394.70,792.00 L395.20,792.00 L395.70,792.00 L396.20,792.00 L396.70,792.00 L397.20,792.00 L397.70,792.00" fill="none" stroke="#000" stroke-width="2.1"/>
<path d="M64.90,825.80 L65.40,825.80 L65.90,825.80 L66.40,825.80 L66.90,825.80 L67.40,825.80 L67.90,825.80 L68.40,825.80 L68.90,825.80 L69.40,825.80 L69.90,825.80 L70.40,825.80 L70.90,825.80 L71.40,825.80 L71.90,825.80 L72.40,825.80 L72.90,825.80 L73.40,825.80 L73.90,825.80 L74.40,825.80 L74.90,825.80 L75.40,825.80 L75.90,825.80 L76.40,825.80 L76.90,825.80 L77.40,825.80 L77.90,825.80 L78.40,825.80 L78.90,825.80 L79.40,825.80 L79.90,825.80 L80.40,825.79 L80.90,825.79 L81.40,825.79 L81.90,825.78 L82.40,825.77 L82.90,825.76 L83.40,825.75 L83.90,825.73 L84.40,825.71 L84.90,825.69 L85.40,825.66 L85.90,825.62 L86.40,825.58 L86.90,825.53 L87.40,825.48 L87.90,825.42 L88.40,825.36 L88.90,825.30 L89.40,825.24 L89.90,825.18 L90.40,825.13 L90.90,825.09 L91.40,825.05 L91.90,825.02 L92.40,825.00 L92.90,825.00 L93.40,825.01 L93.90,825.03 L94.40,825.06 L94.90,825.10 L95.40,825.15 L95.90,825.21 L96.40,825.27 L96.90,825.33 L97.40,825.39 L97.90,825.45 L98.40,825.50 L98.90,825.55 L99.40,825.59 L99.90,825.63 L100.40,825.67 L100.90,825.70 L101.40,825.72 L101.90,825.74 L102.40,825.76 L102.90,825.77 L103.40,825.78 L103.90,825.78 L104.40,825.79 L104.90,825.79 L105.40,825.79 L105.90,825.80 L106.40,825.80 L106.90,825.80 L107.40,825.80 L107.90,825.80 L108.40,825.80 L108.90,825.80 L109.40,825.80 L109.90,825.80 L110.40,825.80 L110.90,825.80 L111.40,825.80 L111.90,825.80 L112.40,825.80 L112.90,825.80 L113.40,825.80 L113.90,825.80 L114.40,825.80 L114.90,825.80 L115.40,825.80 L115.90,825.80 L116.40,825.80 L116.90,825.80 L117.40,825.80 L117.90,825.80 L118.40,825.80 L118.90,825.80 L119.40,825.80 L119.90,825.80 L120.40,825.80 L120.90,825.80 L121.40,825.80 L121.90,825.80 L122.40,825.80 L122.90,825.80 L123.40,825.80 L123.90,825.80 L124.40,825.80 L124.90,825.80 L125.40,825.80 L125.90,825.80 L126.40,825.80 L126.90,825.80 L127.40,825.80 L127.90,825.80 L128.40,825.80 L128.90,825.80 L129.40,825.80 L129.90,825.80 L130.40,825.80 L130.90,825.80 L131.40,825.80 L131.90,825.80 L132.40,825.80 L132.90,825.80 L133.40,825.80 L133.90,825.80 L134.40,825.80 L134.90,825.80 L135.40,825.80 L135.90,825.80 L136.40,825.80 L136.90,825.80 L137.40,825.80 L137.90,825.80 L138.40,825.80 L138.90,825.80 L139.40,825.80 L139.90,825.80 L140.40,825.80 L140.90,825.80 L141.40,825.80 L141.90,825.80 L142.40,825.80 L142.90,825.80 L143.40,825.80 L143.90,825.80 L144.40,825.80 L144.90,825.80 L145.40,825.80 L145.90,825.80 L146.40,825.80 L146.90,825.80 L147.40,825.80 L147.90,825.80 L148.40,825.80 L148.90,825.80 L149.40,825.80 L149.90,825.80 L150.40,825.80 L150.90,825.80 L151.40,825.80 L151.90,825.80 L152.40,825.80 L152.90,825.80 L153.40,825.80 L153.90,825.80 L154.40,825.80 L154.90,825.73 L155.40,825.30 L155.90,823.87 L156.40,821.15 L156.90,817.71 L157.40,814.51 L157.90,812.16 L158.40,810.73 L158.90,809.98 L159.40,809.66 L159.90,809.54 L160.40,809.51 L160.90,809.50 L161.40,809.50 L161.90,809.50 L162.40,809.50 L162.90,809.50 L163.40,809.51 L163.90,809.57 L164.40,809.75 L164.90,810.22 L165.40,811.20 L165.90,812.98 L166.40,815.71 L166.90,819.11 L167.40,822.37 L167.90,824.60 L168.40,825.55 L168.90,825.77 L169.40,825.80 L169.90,825.80 L170.40,825.80 L170.90,825.80 L171.40,825.80 L171.90,825.80 L172.40,825.80 L172.90,825.80 L173.40,825.80 L173.90,825.80 L174.40,825.80 L174.90,825.80 L175.40,825.80 L175.90,825.80 L176.40,825.80 L176.90,825.80 L177.40,825.80 L177.90,825.80 L178.40,825.80 L178.90,825.80 L179.40,825.80 L179.90,825.80 L180.40,825.80 L180.90,825.80 L181.40,825.80 L181.90,825.80 L182.40,825.80 L182.90,825.80 L183.40,825.80 L183.90,825.80 L184.40,825.80 L184.90,825.80 L185.40,825.80 L185.90,825.80 L186.40,825.80 L186.90,825.80 L187.40,825.80 L187.90,825.80 L188.40,825.80 L188.90,825.80 L189.40,825.80 L189.90,825.80 L190.40,825.80 L190.90,825.80 L191.40,825.80 L191.90,825.80 L192.40,825.80 L192.90,825.80 L193.40,825.80 L193.90,825.80 L194.40,825.80 L194.90,825.80 L195.40,825.80 L195.90,825.80 L196.40,825.80 L196.90,825.80 L197.40,825.80 L197.90,825.80 L198.40,825.80 L198.90,825.80 L199.40,825.80 L199.90,825.80 L200.40,825.80 L200.90,825.80 L201.40,825.80 L201.90,825.80 L202.40,825.80 L202.90,825.80 L203.40,825.80 L203.90,825.80 L204.40,825.80 L204.90,825.80 L205.40,825.80 L205.90,825.80 L206.40,825.80 L206.90,825.80 L207.40,825.80 L207.90,825.80 L208.40,825.80 L208.90,825.80 L209.40,825.80 L209.90,825.80 L210.40,825.80 L210.90,825.80 L211.40,825.80 L211.90,825.80 L212.40,825.80 L212.90,825.80 L213.40,825.80 L213.90,825.80 L214.40,825.80 L214.90,825.80 L215.40,825.80 L215.90,825.80 L216.40,825.80 L216.90,825.80 L217.40,825.80 L217.90,825.80 L218.40,825.80 L218.90,825.80 L219.40,825.80 L219.90,825.80 L220.40,825.80 L220.90,825.80 L221.40,825.80 L221.90,825.80 L222.40,825.80 L222.90,825.80 L223.40,825.80 L223.90,825.80 L224.40,825.80 L224.90,825.80 L225.40,825.80 L225.90,825.80 L226.40,825.80 L226.90,825.80 L227.40,825.80 L227.90,825.80 L228.40,825.80 L228.90,825.80 L229.40,825.80 L229.90,825.80 L230.40,825.80 L230.90,825.80 L231.40,825.80 L231.90,825.80 L232.40,825.80 L232.90,825.80 L233.40,825.80 L233.90,825.80 L234.40,825.80 L234.90,825.80 L235.40,825.80 L235.90,825.80 L236.40,825.80 L236.90,825.80 L237.40,825.80 L237.90,825.80 L238.40,825.80 L238.90,825.80 L239.40,825.80 L239.90,825.80 L240.40,825.80 L240.90,825.80 L241.40,825.80 L241.90,825.80 L242.40,825.80 L242.90,825.80 L243.40,825.80 L243.90,825.80 L244.40,825.80 L244.90,825.80 L245.40,825.80 L245.90,825.80 L246.40,825.80 L246.90,825.80 L247.40,825.80 L247.90,825.80 L248.40,825.80 L248.90,825.80 L249.40,825.80 L249.90,825.80 L250.40,825.80 L250.90,825.80 L251.40,825.80 L251.90,825.80 L252.40,825.80 L252.90,825.80 L253.40,825.80 L253.90,825.80 L254.40,825.80 L254.90,825.80 L255.40,825.80 L255.90,825.80 L256.40,825.80 L256.90,825.80 L257.40,825.80 L257.90,825.80 L258.40,825.80 L258.90,825.80 L259.40,825.80 L259.90,825.80 L260.40,825.80 L260.90,825.80 L261.40,825.80 L261.90,825.80 L262.40,825.80 L262.90,825.80 L263.40,825.79 L263.90,825.79 L264.40,825.78 L264.90,825.77 L265.40,825.75 L265.90,825.72 L266.40,825.69 L266.90,825.65 L267.40,825.59 L267.90,825.52 L268.40,825.44 L268.90,825.35 L269.40,825.25 L269.90,825.15 L270.40,825.05 L270.90,824.96 L271.40,824.89 L271.90,824.83 L272.40,824.80 L272.90,824.80 L273.40,824.83 L273.90,824.88 L274.40,824.95 L274.90,825.04 L275.40,825.13 L275.90,825.23 L276.40,825.33 L276.90,825.42 L277.40,825.51 L277.90,825.58 L278.40,825.64 L278.90,825.68 L279.40,825.72 L279.90,825.74 L280.40,825.76 L280.90,825.78 L281.40,825.79 L281.90,825.79 L282.40,825.79 L282.90,825.80 L283.40,825.80 L283.90,825.80 L284.40,825.80 L284.90,825.80 L285.40,825.80 L285.90,825.80 L286.40,825.80 L286.90,825.80 L287.40,825.80 L287.90,825.80 L288.40,825.80 L288.90,825.80 L289.40,825.80 L289.90,825.80 L290.40,825.80 L290.90,825.80 L291.40,825.80 L291.90,825.80 L292.40,825.80 L292.90,825.80 L293.40,825.77 L293.90,825.52 L294.40,824.52 L294.90,822.27 L295.40,819.00 L295.90,815.59 L296.40,812.84 L296.90,811.01 L297.40,809.99 L297.90,809.49 L298.40,809.28 L298.90,809.22 L299.40,809.20 L299.90,809.20 L300.40,809.20 L300.90,809.20 L301.40,809.20 L301.90,809.20 L302.40,809.23 L302.90,809.31 L303.40,809.56 L303.90,810.14 L304.40,811.31 L304.90,813.32 L305.40,816.24 L305.90,819.69 L306.40,822.82 L306.90,824.81 L307.40,825.61 L307.90,825.78 L308.40,825.80 L308.90,825.80 L309.40,825.80 L309.90,825.80 L310.40,825.80 L310.90,825.80 L311.40,825.80 L311.90,825.80 L312.40,825.80 L312.90,825.80 L313.40,825.80 L313.90,825.80 L314.40,825.80 L314.90,825.80 L315.40,825.80 L315.90,825.80 L316.40,825.80 L316.90,825.80 L317.40,825.80 L317.90,825.80 L318.40,825.80 L318.90,825.80 L319.40,825.80 L319.90,825.80 L320.40,825.80 L320.90,825.80 L321.40,825.80 L321.90,825.80 L322.40,825.80 L322.90,825.80 L323.40,825.80 L323.90,825.80 L324.40,825.80 L324.90,825.80 L325.40,825.80 L325.90,825.80 L326.40,825.80 L326.90,825.80 L327.40,825.80 L327.90,825.80 L328.40,825.80 L328.90,825.80 L329.40,825.80 L329.90,825.80 L330.40,825.80 L330.90,825.80 L331.40,825.80 L331.90,825.80 L332.40,825.80 L332.90,825.80 L333.40,825.80 L333.90,825.80 L334.40,825.80 L334.90,825.80 L335.40,825.80 L335.90,825.80 L336.40,825.80 L336.90,825.80 L337.40,825.80 L337.90,825.80 L338.40,825.80 L338.90,825.80 L339.40,825.80 L339.90,825.80 L340.40,825.80 L340.90,825.80 L341.40,825.80 L341.90,825.80 L342.40,825.80 L342.90,825.80 L343.40,825.80 L343.90,825.80 L344.40,825.80 L344.90,825.80 L345.40,825.80 L345.90,825.80 L346.40,825.80 L346.90,825.80 L347.40,825.80 L347.90,825.80 L348.40,825.80 L348.90,825.80 L349.40,825.80 L349.90,825.80 L350.40,825.80 L350.90,825.80 L351.40,825.80 L351.90,825.80 L352.40,825.80 L352.90,825.80 L353.40,825.80 L353.90,825.80 L354.40,825.80 L354.90,825.80 L355.40,825.80 L355.90,825.80 L356.40,825.80 L356.90,825.80 L357.40,825.80 L357.90,825.80 L358.40,825.80 L358.90,825.80 L359.40,825.80 L359.90,825.80 L360.40,825.80 L360.90,825.80 L361.40,825.80 L361.90,825.80 L362.40,825.80 L362.90,825.80 L363.40,825.80 L363.90,825.80 L364.40,825.80 L364.90,825.80 L365.40,825.80 L365.90,825.80 L366.40,825.80 L366.90,825.80 L367.40,825.80 L367.90,825.80 L368.40,825.80 L368.90,825.80 L369.40,825.80 L369.90,825.80 L370.40,825.80 L370.90,825.80 L371.40,825.80 L371.90,825.80 L372.40,825.80 L372.90,825.80 L373.40,825.80 L373.90,825.80 L374.40,825.80 L374.90,825.80 L375.40,825.80 L375.90,825.80 L376.40,825.80 L376.90,825.80 L377.40,825.80 L377.90,825.80 L378.40,825.80 L378.90,825.80 L379.40,825.80 L379.90,825.80 L380.40,825.80 L380.90,825.80 L381.40,825.80 L381.90,825.80 L382.40,825.80 L382.90,825.80 L383.40,825.80 L383.90,825.80 L384.40,825.80 L384.90,825.80 L385.40,825.80 L385.90,825.80 L386.40,825.80 L386.90,825.80 L387.40,825.80 L387.90,825.80 L388.40,825.80 L388.90,825.80 L389.40,825.80 L389.90,825.80 L390.40,825.80 L390.90,825.80 L391.40,825.80 L391.90,825.80 L392.40,825.80 L392.90,825.80 L393.40,825.80 L393.90,825.80 L394.40,825.80 L394.90,825.80 L395.40,825.80 L395.90,825.80 L396.40,825.80 L396.90,825.80 L397.40,825.80" fill="none" stroke="#6e6ed8" stroke-width="2.2" stroke-dasharray="3.2 1.5"/>
<path d="M64.90,845.40 L65.40,845.40 L65.90,845.40 L66.40,845.40 L66.90,845.40 L67.40,845.40 L67.90,845.39 L68.40,845.39 L68.90,845.39 L69.40,845.38 L69.90,845.37 L70.40,845.36 L70.90,845.35 L71.40,845.33 L71.90,845.31 L72.40,845.27 L72.90,845.23 L73.40,845.19 L73.90,845.13 L74.40,845.06 L74.90,844.98 L75.40,844.89 L75.90,844.80 L76.40,844.69 L76.90,844.58 L77.40,844.47 L77.90,844.35 L78.40,844.25 L78.90,844.15 L79.40,844.06 L79.90,843.99 L80.40,843.94 L80.90,843.91 L81.40,843.90 L81.90,843.92 L82.40,843.96 L82.90,844.02 L83.40,844.09 L83.90,844.19 L84.40,844.29 L84.90,844.40 L85.40,844.51 L85.90,844.63 L86.40,844.73 L86.90,844.84 L87.40,844.93 L87.90,845.02 L88.40,845.09 L88.90,845.15 L89.40,845.21 L89.90,845.25 L90.40,845.29 L90.90,845.32 L91.40,845.34 L91.90,845.36 L92.40,845.37 L92.90,845.38 L93.40,845.38 L93.90,845.39 L94.40,845.39 L94.90,845.40 L95.40,845.40 L95.90,845.40 L96.40,845.40 L96.90,845.40 L97.40,845.40 L97.90,845.40 L98.40,845.40 L98.90,845.40 L99.40,845.40 L99.90,845.40 L100.40,845.40 L100.90,845.40 L101.40,845.40 L101.90,845.40 L102.40,845.40 L102.90,845.40 L103.40,845.40 L103.90,845.40 L104.40,845.40 L104.90,845.40 L105.40,845.40 L105.90,845.40 L106.40,845.40 L106.90,845.40 L107.40,845.40 L107.90,845.40 L108.40,845.40 L108.90,845.40 L109.40,845.40 L109.90,845.40 L110.40,845.40 L110.90,845.40 L111.40,845.40 L111.90,845.40 L112.40,845.40 L112.90,845.40 L113.40,845.40 L113.90,845.40 L114.40,845.40 L114.90,845.40 L115.40,845.40 L115.90,845.40 L116.40,845.40 L116.90,845.40 L117.40,845.40 L117.90,845.40 L118.40,845.40 L118.90,845.40 L119.40,845.40 L119.90,845.40 L120.40,845.40 L120.90,845.40 L121.40,845.40 L121.90,845.40 L122.40,845.40 L122.90,845.40 L123.40,845.40 L123.90,845.40 L124.40,845.40 L124.90,845.40 L125.40,845.40 L125.90,845.40 L126.40,845.40 L126.90,845.40 L127.40,845.40 L127.90,845.40 L128.40,845.40 L128.90,845.40 L129.40,845.40 L129.90,845.39 L130.40,845.39 L130.90,845.39 L131.40,845.39 L131.90,845.38 L132.40,845.38 L132.90,845.37 L133.40,845.36 L133.90,845.35 L134.40,845.34 L134.90,845.32 L135.40,845.30 L135.90,845.28 L136.40,845.25 L136.90,845.21 L137.40,845.16 L137.90,845.11 L138.40,845.05 L138.90,844.97 L139.40,844.88 L139.90,844.77 L140.40,844.65 L140.90,844.51 L141.40,844.34 L141.90,844.15 L142.40,843.93 L142.90,843.69 L143.40,843.41 L143.90,843.10 L144.40,842.76 L144.90,842.38 L145.40,841.96 L145.90,841.51 L146.40,841.02 L146.90,840.49 L147.40,839.93 L147.90,839.33 L148.40,838.70 L148.90,838.05 L149.40,837.37 L149.90,836.67 L150.40,835.96 L150.90,835.25 L151.40,834.54 L151.90,833.83 L152.40,833.15 L152.90,832.49 L153.40,831.86 L153.90,831.27 L154.40,830.74 L154.90,830.26 L155.40,829.84 L155.90,829.50 L156.40,829.23 L156.90,829.04 L157.40,828.93 L157.90,828.90 L158.40,828.98 L158.90,829.17 L159.40,829.48 L159.90,829.88 L160.40,830.38 L160.90,830.96 L161.40,831.62 L161.90,832.34 L162.40,833.10 L162.90,833.90 L163.40,834.73 L163.90,835.56 L164.40,836.39 L164.90,837.21 L165.40,838.00 L165.90,838.77 L166.40,839.49 L166.90,840.18 L167.40,840.81 L167.90,841.40 L168.40,841.93 L168.90,842.42 L169.40,842.85 L169.90,843.24 L170.40,843.58 L170.90,843.88 L171.40,844.14 L171.90,844.36 L172.40,844.55 L172.90,844.70 L173.40,844.84 L173.90,844.95 L174.40,845.04 L174.90,845.12 L175.40,845.18 L175.90,845.23 L176.40,845.26 L176.90,845.30 L177.40,845.32 L177.90,845.34 L178.40,845.35 L178.90,845.37 L179.40,845.37 L179.90,845.38 L180.40,845.39 L180.90,845.39 L181.40,845.39 L181.90,845.39 L182.40,845.40 L182.90,845.40 L183.40,845.40 L183.90,845.40 L184.40,845.40 L184.90,845.40 L185.40,845.40 L185.90,845.40 L186.40,845.40 L186.90,845.40 L187.40,845.40 L187.90,845.40 L188.40,845.40 L188.90,845.40 L189.40,845.40 L189.90,845.40 L190.40,845.40 L190.90,845.40 L191.40,845.40 L191.90,845.40 L192.40,845.40 L192.90,845.40 L193.40,845.40 L193.90,845.40 L194.40,845.40 L194.90,845.39 L195.40,845.39 L195.90,845.39 L196.40,845.39 L196.90,845.39 L197.40,845.38 L197.90,845.38 L198.40,845.38 L198.90,845.37 L199.40,845.37 L199.90,845.36 L200.40,845.35 L200.90,845.34 L201.40,845.33 L201.90,845.32 L202.40,845.30 L202.90,845.28 L203.40,845.26 L203.90,845.24 L204.40,845.21 L204.90,845.18 L205.40,845.14 L205.90,845.10 L206.40,845.06 L206.90,845.01 L207.40,844.95 L207.90,844.88 L208.40,844.81 L208.90,844.73 L209.40,844.63 L209.90,844.53 L210.40,844.42 L210.90,844.30 L211.40,844.17 L211.90,844.03 L212.40,843.87 L212.90,843.70 L213.40,843.52 L213.90,843.33 L214.40,843.12 L214.90,842.90 L215.40,842.66 L215.90,842.42 L216.40,842.16 L216.90,841.89 L217.40,841.61 L217.90,841.32 L218.40,841.02 L218.90,840.71 L219.40,840.40 L219.90,840.09 L220.40,839.77 L220.90,839.45 L221.40,839.13 L221.90,838.81 L222.40,838.50 L222.90,838.20 L223.40,837.91 L223.90,837.63 L224.40,837.36 L224.90,837.11 L225.40,836.88 L225.90,836.67 L226.40,836.48 L226.90,836.32 L227.40,836.18 L227.90,836.07 L228.40,835.98 L228.90,835.93 L229.40,835.90 L229.90,835.91 L230.40,835.94 L230.90,836.00 L231.40,836.09 L231.90,836.21 L232.40,836.35 L232.90,836.52 L233.40,836.71 L233.90,836.92 L234.40,837.16 L234.90,837.41 L235.40,837.68 L235.90,837.96 L236.40,838.26 L236.90,838.56 L237.40,838.87 L237.90,839.19 L238.40,839.51 L238.90,839.83 L239.40,840.15 L239.90,840.46 L240.40,840.78 L240.90,841.08 L241.40,841.38 L241.90,841.67 L242.40,841.94 L242.90,842.21 L243.40,842.47 L243.90,842.71 L244.40,842.94 L244.90,843.16 L245.40,843.37 L245.90,843.56 L246.40,843.74 L246.90,843.90 L247.40,844.06 L247.90,844.20 L248.40,844.33 L248.90,844.45 L249.40,844.56 L249.90,844.65 L250.40,844.74 L250.90,844.82 L251.40,844.89 L251.90,844.96 L252.40,845.02 L252.90,845.07 L253.40,845.11 L253.90,845.15 L254.40,845.19 L254.90,845.22 L255.40,845.24 L255.90,845.27 L256.40,845.29 L256.90,845.30 L257.40,845.32 L257.90,845.33 L258.40,845.34 L258.90,845.35 L259.40,845.36 L259.90,845.37 L260.40,845.37 L260.90,845.38 L261.40,845.38 L261.90,845.38 L262.40,845.39 L262.90,845.39 L263.40,845.39 L263.90,845.39 L264.40,845.39 L264.90,845.40 L265.40,845.40 L265.90,845.40 L266.40,845.40 L266.90,845.40 L267.40,845.40 L267.90,845.40 L268.40,845.40 L268.90,845.40 L269.40,845.40 L269.90,845.40 L270.40,845.40 L270.90,845.40 L271.40,845.40 L271.90,845.40 L272.40,845.40 L272.90,845.40 L273.40,845.40 L273.90,845.40 L274.40,845.40 L274.90,845.40 L275.40,845.40 L275.90,845.40 L276.40,845.40 L276.90,845.40 L277.40,845.40 L277.90,845.39 L278.40,845.39 L278.90,845.39 L279.40,845.39 L279.90,845.38 L280.40,845.37 L280.90,845.37 L281.40,845.36 L281.90,845.34 L282.40,845.33 L282.90,845.30 L283.40,845.28 L283.90,845.25 L284.40,845.21 L284.90,845.16 L285.40,845.10 L285.90,845.02 L286.40,844.94 L286.90,844.83 L287.40,844.71 L287.90,844.57 L288.40,844.40 L288.90,844.20 L289.40,843.98 L289.90,843.72 L290.40,843.43 L290.90,843.10 L291.40,842.73 L291.90,842.32 L292.40,841.87 L292.90,841.38 L293.40,840.84 L293.90,840.27 L294.40,839.65 L294.90,839.00 L295.40,838.32 L295.90,837.61 L296.40,836.88 L296.90,836.14 L297.40,835.40 L297.90,834.65 L298.40,833.93 L298.90,833.22 L299.40,832.54 L299.90,831.91 L300.40,831.33 L300.90,830.82 L301.40,830.37 L301.90,830.00 L302.40,829.72 L302.90,829.52 L303.40,829.42 L303.90,829.41 L304.40,829.53 L304.90,829.78 L305.40,830.15 L305.90,830.63 L306.40,831.22 L306.90,831.89 L307.40,832.64 L307.90,833.45 L308.40,834.29 L308.90,835.17 L309.40,836.05 L309.90,836.92 L310.40,837.78 L310.90,838.61 L311.40,839.40 L311.90,840.13 L312.40,840.82 L312.90,841.45 L313.40,842.02 L313.90,842.53 L314.40,842.99 L314.90,843.39 L315.40,843.73 L315.90,844.03 L316.40,844.29 L316.90,844.50 L317.40,844.68 L317.90,844.83 L318.40,844.95 L318.90,845.05 L319.40,845.13 L319.90,845.19 L320.40,845.24 L320.90,845.28 L321.40,845.31 L321.90,845.33 L322.40,845.35 L322.90,845.36 L323.40,845.37 L323.90,845.38 L324.40,845.39 L324.90,845.39 L325.40,845.39 L325.90,845.40 L326.40,845.40 L326.90,845.40 L327.40,845.40 L327.90,845.40 L328.40,845.40 L328.90,845.40 L329.40,845.40 L329.90,845.40 L330.40,845.40 L330.90,845.40 L331.40,845.40 L331.90,845.40 L332.40,845.40 L332.90,845.40 L333.40,845.40 L333.90,845.40 L334.40,845.40 L334.90,845.40 L335.40,845.40 L335.90,845.40 L336.40,845.40 L336.90,845.40 L337.40,845.40 L337.90,845.40 L338.40,845.40 L338.90,845.40 L339.40,845.40 L339.90,845.40 L340.40,845.40 L340.90,845.40 L341.40,845.40 L341.90,845.40 L342.40,845.40 L342.90,845.40 L343.40,845.40 L343.90,845.40 L344.40,845.40 L344.90,845.40 L345.40,845.40 L345.90,845.40 L346.40,845.40 L346.90,845.40 L347.40,845.40 L347.90,845.40 L348.40,845.40 L348.90,845.40 L349.40,845.40 L349.90,845.40 L350.40,845.40 L350.90,845.40 L351.40,845.40 L351.90,845.40 L352.40,845.40 L352.90,845.40 L353.40,845.40 L353.90,845.40 L354.40,845.40 L354.90,845.40 L355.40,845.40 L355.90,845.40 L356.40,845.40 L356.90,845.40 L357.40,845.40 L357.90,845.40 L358.40,845.40 L358.90,845.40 L359.40,845.40 L359.90,845.40 L360.40,845.40 L360.90,845.40 L361.40,845.40 L361.90,845.40 L362.40,845.40 L362.90,845.40 L363.40,845.40 L363.90,845.40 L364.40,845.40 L364.90,845.40 L365.40,845.40 L365.90,845.40 L366.40,845.40 L366.90,845.40 L367.40,845.40 L367.90,845.40 L368.40,845.40 L368.90,845.39 L369.40,845.39 L369.90,845.39 L370.40,845.38 L370.90,845.37 L371.40,845.36 L371.90,845.34 L372.40,845.32 L372.90,845.29 L373.40,845.25 L373.90,845.20 L374.40,845.14 L374.90,845.07 L375.40,844.99 L375.90,844.89 L376.40,844.77 L376.90,844.65 L377.40,844.51 L377.90,844.37 L378.40,844.22 L378.90,844.07 L379.40,843.92 L379.90,843.78 L380.40,843.66 L380.90,843.55 L381.40,843.47 L381.90,843.42 L382.40,843.40 L382.90,843.41 L383.40,843.45 L383.90,843.52 L384.40,843.61 L384.90,843.73 L385.40,843.86 L385.90,844.01 L386.40,844.16 L386.90,844.31 L387.40,844.46 L387.90,844.60 L388.40,844.73 L388.90,844.84 L389.40,844.95 L389.90,845.04 L390.40,845.12 L390.90,845.18 L391.40,845.23 L391.90,845.27 L392.40,845.31 L392.90,845.33 L393.40,845.35 L393.90,845.37 L394.40,845.38 L394.90,845.38 L395.40,845.39 L395.90,845.39 L396.40,845.40 L396.90,845.40 L397.40,845.40" fill="none" stroke="#e0101a" stroke-width="2.4" stroke-dasharray="5.1 2.9"/>
<path d="M64.90,865.70 L65.40,865.70 L65.90,865.70 L66.40,865.70 L66.90,865.70 L67.40,865.70 L67.90,865.70 L68.40,865.70 L68.90,865.70 L69.40,865.70 L69.90,865.70 L70.40,865.70 L70.90,865.70 L71.40,865.70 L71.90,865.70 L72.40,865.70 L72.90,865.70 L73.40,865.70 L73.90,865.70 L74.40,865.70 L74.90,865.70 L75.40,865.70 L75.90,865.70 L76.40,865.70 L76.90,865.70 L77.40,865.70 L77.90,865.70 L78.40,865.70 L78.90,865.70 L79.40,865.70 L79.90,865.70 L80.40,865.70 L80.90,865.70 L81.40,865.70 L81.90,865.70 L82.40,865.70 L82.90,865.70 L83.40,865.70 L83.90,865.70 L84.40,865.70 L84.90,865.70 L85.40,865.70 L85.90,865.70 L86.40,865.70 L86.90,865.70 L87.40,865.70 L87.90,865.70 L88.40,865.70 L88.90,865.70 L89.40,865.70 L89.90,865.70 L90.40,865.70 L90.90,865.70 L91.40,865.70 L91.90,865.70 L92.40,865.70 L92.90,865.70 L93.40,865.70 L93.90,865.70 L94.40,865.70 L94.90,865.70 L95.40,865.70 L95.90,865.70 L96.40,865.70 L96.90,865.70 L97.40,865.70 L97.90,865.70 L98.40,865.70 L98.90,865.70 L99.40,865.70 L99.90,865.70 L100.40,865.70 L100.90,865.70 L101.40,865.70 L101.90,865.70 L102.40,865.70 L102.90,865.70 L103.40,865.70 L103.90,865.70 L104.40,865.70 L104.90,865.70 L105.40,865.70 L105.90,865.70 L106.40,865.70 L106.90,865.70 L107.40,865.70 L107.90,865.70 L108.40,865.70 L108.90,865.70 L109.40,865.70 L109.90,865.70 L110.40,865.70 L110.90,865.70 L111.40,865.70 L111.90,865.70 L112.40,865.70 L112.90,865.70 L113.40,865.70 L113.90,865.70 L114.40,865.70 L114.90,865.70 L115.40,865.70 L115.90,865.70 L116.40,865.70 L116.90,865.70 L117.40,865.70 L117.90,865.70 L118.40,865.70 L118.90,865.70 L119.40,865.70 L119.90,865.70 L120.40,865.70 L120.90,865.70 L121.40,865.70 L121.90,865.70 L122.40,865.70 L122.90,865.70 L123.40,865.70 L123.90,865.70 L124.40,865.70 L124.90,865.70 L125.40,865.70 L125.90,865.70 L126.40,865.70 L126.90,865.70 L127.40,865.70 L127.90,865.70 L128.40,865.70 L128.90,865.70 L129.40,865.70 L129.90,865.70 L130.40,865.70 L130.90,865.70 L131.40,865.70 L131.90,865.70 L132.40,865.70 L132.90,865.70 L133.40,865.70 L133.90,865.70 L134.40,865.70 L134.90,865.70 L135.40,865.70 L135.90,865.70 L136.40,865.70 L136.90,865.69 L137.40,865.69 L137.90,865.69 L138.40,865.68 L138.90,865.67 L139.40,865.66 L139.90,865.65 L140.40,865.63 L140.90,865.61 L141.40,865.58 L141.90,865.54 L142.40,865.49 L142.90,865.43 L143.40,865.36 L143.90,865.26 L144.40,865.15 L144.90,865.01 L145.40,864.84 L145.90,864.64 L146.40,864.40 L146.90,864.12 L147.40,863.81 L147.90,863.44 L148.40,863.03 L148.90,862.57 L149.40,862.05 L149.90,861.49 L150.40,860.89 L150.90,860.24 L151.40,859.55 L151.90,858.84 L152.40,858.11 L152.90,857.36 L153.40,856.62 L153.90,855.90 L154.40,855.20 L154.90,854.55 L155.40,853.95 L155.90,853.43 L156.40,852.98 L156.90,852.63 L157.40,852.38 L157.90,852.24 L158.40,852.20 L158.90,852.28 L159.40,852.47 L159.90,852.76 L160.40,853.15 L160.90,853.63 L161.40,854.18 L161.90,854.80 L162.40,855.47 L162.90,856.18 L163.40,856.92 L163.90,857.66 L164.40,858.40 L164.90,859.13 L165.40,859.83 L165.90,860.50 L166.40,861.14 L166.90,861.72 L167.40,862.27 L167.90,862.76 L168.40,863.20 L168.90,863.59 L169.40,863.94 L169.90,864.24 L170.40,864.50 L170.90,864.72 L171.40,864.91 L171.90,865.07 L172.40,865.20 L172.90,865.30 L173.40,865.39 L173.90,865.46 L174.40,865.51 L174.90,865.56 L175.40,865.59 L175.90,865.62 L176.40,865.64 L176.90,865.66 L177.40,865.67 L177.90,865.68 L178.40,865.68 L178.90,865.69 L179.40,865.69 L179.90,865.69 L180.40,865.70 L180.90,865.70 L181.40,865.70 L181.90,865.70 L182.40,865.70 L182.90,865.70 L183.40,865.70 L183.90,865.70 L184.40,865.70 L184.90,865.70 L185.40,865.70 L185.90,865.70 L186.40,865.70 L186.90,865.70 L187.40,865.70 L187.90,865.70 L188.40,865.70 L188.90,865.70 L189.40,865.70 L189.90,865.70 L190.40,865.70 L190.90,865.70 L191.40,865.70 L191.90,865.70 L192.40,865.70 L192.90,865.70 L193.40,865.70 L193.90,865.70 L194.40,865.70 L194.90,865.70 L195.40,865.70 L195.90,865.70 L196.40,865.70 L196.90,865.70 L197.40,865.70 L197.90,865.70 L198.40,865.70 L198.90,865.70 L199.40,865.70 L199.90,865.70 L200.40,865.70 L200.90,865.70 L201.40,865.70 L201.90,865.70 L202.40,865.70 L202.90,865.70 L203.40,865.70 L203.90,865.70 L204.40,865.70 L204.90,865.70 L205.40,865.70 L205.90,865.70 L206.40,865.70 L206.90,865.70" fill="none" stroke="#000" stroke-width="2.1"/>
<path d="M255.20,865.70 L255.70,865.70 L256.20,865.70 L256.70,865.70 L257.20,865.70 L257.70,865.70 L258.20,865.70 L258.70,865.70 L259.20,865.70 L259.70,865.70 L260.20,865.70 L260.70,865.70 L261.20,865.70 L261.70,865.70 L262.20,865.70 L262.70,865.70 L263.20,865.70 L263.70,865.70 L264.20,865.70 L264.70,865.70 L265.20,865.70 L265.70,865.70 L266.20,865.70 L266.70,865.70 L267.20,865.70 L267.70,865.70 L268.20,865.70 L268.70,865.70 L269.20,865.70 L269.70,865.70 L270.20,865.70 L270.70,865.70 L271.20,865.70 L271.70,865.70 L272.20,865.70 L272.70,865.70 L273.20,865.70 L273.70,865.70 L274.20,865.70 L274.70,865.70 L275.20,865.70 L275.70,865.70 L276.20,865.70 L276.70,865.70 L277.20,865.70 L277.70,865.70 L278.20,865.70 L278.70,865.70 L279.20,865.70 L279.70,865.70 L280.20,865.70 L280.70,865.70 L281.20,865.70 L281.70,865.70 L282.20,865.69 L282.70,865.69 L283.20,865.68 L283.70,865.68 L284.20,865.67 L284.70,865.65 L285.20,865.64 L285.70,865.61 L286.20,865.58 L286.70,865.54 L287.20,865.48 L287.70,865.41 L288.20,865.31 L288.70,865.20 L289.20,865.05 L289.70,864.87 L290.20,864.64 L290.70,864.37 L291.20,864.05 L291.70,863.67 L292.20,863.23 L292.70,862.72 L293.20,862.15 L293.70,861.50 L294.20,860.79 L294.70,860.01 L295.20,859.17 L295.70,858.29 L296.20,857.37 L296.70,856.43 L297.20,855.48 L297.70,854.55 L298.20,853.66 L298.70,852.83 L299.20,852.07 L299.70,851.42 L300.20,850.88 L300.70,850.47 L301.20,850.21 L301.70,850.10 L302.20,850.16 L302.70,850.40 L303.20,850.81 L303.70,851.38 L304.20,852.09 L304.70,852.91 L305.20,853.83 L305.70,854.81 L306.20,855.83 L306.70,856.85 L307.20,857.87 L307.70,858.85 L308.20,859.77 L308.70,860.64 L309.20,861.42 L309.70,862.13 L310.20,862.76 L310.70,863.30 L311.20,863.77 L311.70,864.16 L312.20,864.49 L312.70,864.76 L313.20,864.98 L313.70,865.15 L314.20,865.29 L314.70,865.39 L315.20,865.48 L315.70,865.54 L316.20,865.58 L316.70,865.62 L317.20,865.64 L317.70,865.66 L318.20,865.67 L318.70,865.68 L319.20,865.69 L319.70,865.69 L320.20,865.69 L320.70,865.70 L321.20,865.70 L321.70,865.70 L322.20,865.70 L322.70,865.70 L323.20,865.70 L323.70,865.70 L324.20,865.70 L324.70,865.70 L325.20,865.70 L325.70,865.70 L326.20,865.70 L326.70,865.70 L327.20,865.70 L327.70,865.70 L328.20,865.70 L328.70,865.70 L329.20,865.70 L329.70,865.70 L330.20,865.70 L330.70,865.70 L331.20,865.70 L331.70,865.70 L332.20,865.70 L332.70,865.70 L333.20,865.70 L333.70,865.70 L334.20,865.70 L334.70,865.70 L335.20,865.70 L335.70,865.70 L336.20,865.70 L336.70,865.70 L337.20,865.70 L337.70,865.70 L338.20,865.70 L338.70,865.70 L339.20,865.70 L339.70,865.70 L340.20,865.70 L340.70,865.70 L341.20,865.70 L341.70,865.70 L342.20,865.70 L342.70,865.70 L343.20,865.70 L343.70,865.70 L344.20,865.70 L344.70,865.70 L345.20,865.70 L345.70,865.70 L346.20,865.70 L346.70,865.70 L347.20,865.70 L347.70,865.70 L348.20,865.70 L348.70,865.70 L349.20,865.70 L349.70,865.70 L350.20,865.70 L350.70,865.70 L351.20,865.70 L351.70,865.70 L352.20,865.70 L352.70,865.70 L353.20,865.70 L353.70,865.70 L354.20,865.70 L354.70,865.70 L355.20,865.70 L355.70,865.70 L356.20,865.70 L356.70,865.70 L357.20,865.70 L357.70,865.70 L358.20,865.70 L358.70,865.70 L359.20,865.70 L359.70,865.70 L360.20,865.70 L360.70,865.70 L361.20,865.70 L361.70,865.70 L362.20,865.70 L362.70,865.70 L363.20,865.70 L363.70,865.70 L364.20,865.70 L364.70,865.70 L365.20,865.70 L365.70,865.70 L366.20,865.70 L366.70,865.70 L367.20,865.70 L367.70,865.70 L368.20,865.70 L368.70,865.70 L369.20,865.70 L369.70,865.70 L370.20,865.70 L370.70,865.70 L371.20,865.70 L371.70,865.70 L372.20,865.70 L372.70,865.70 L373.20,865.70 L373.70,865.70 L374.20,865.70 L374.70,865.70 L375.20,865.70 L375.70,865.70 L376.20,865.70 L376.70,865.70 L377.20,865.70 L377.70,865.70 L378.20,865.70 L378.70,865.70 L379.20,865.70 L379.70,865.70 L380.20,865.70 L380.70,865.70 L381.20,865.70 L381.70,865.70 L382.20,865.70 L382.70,865.70 L383.20,865.70 L383.70,865.70 L384.20,865.70 L384.70,865.70 L385.20,865.70 L385.70,865.70 L386.20,865.70 L386.70,865.70 L387.20,865.70 L387.70,865.70 L388.20,865.70 L388.70,865.70 L389.20,865.70 L389.70,865.70 L390.20,865.70 L390.70,865.70 L391.20,865.70 L391.70,865.70 L392.20,865.70 L392.70,865.70 L393.20,865.70 L393.70,865.70 L394.20,865.70 L394.70,865.70 L395.20,865.70 L395.70,865.70 L396.20,865.70 L396.70,865.70 L397.20,865.70 L397.70,865.70" fill="none" stroke="#000" stroke-width="2.1"/>
<path d="M73.20,885.60V877.80M73.20,446.90V454.70M82.51,885.60V870.80M82.51,446.90V461.70M91.81,885.60V877.80M91.81,446.90V454.70M101.11,885.60V877.80M101.11,446.90V454.70M110.41,885.60V877.80M110.41,446.90V454.70M119.72,885.60V870.80M119.72,446.90V461.70M129.02,885.60V877.80M129.02,446.90V454.70M138.32,885.60V877.80M138.32,446.90V454.70M147.62,885.60V877.80M147.62,446.90V454.70M156.93,885.60V870.80M156.93,446.90V461.70M166.23,885.60V877.80M166.23,446.90V454.70M175.53,885.60V877.80M175.53,446.90V454.70M184.84,885.60V877.80M184.84,446.90V454.70M194.14,885.60V870.80M194.14,446.90V461.70M203.44,885.60V877.80M203.44,446.90V454.70M212.74,885.60V877.80M212.74,446.90V454.70M222.05,885.60V877.80M222.05,446.90V454.70M231.35,885.60V870.80M231.35,446.90V461.70M240.65,885.60V877.80M240.65,446.90V454.70M249.96,885.60V877.80M249.96,446.90V454.70M259.26,885.60V877.80M259.26,446.90V454.70M268.56,885.60V870.80M268.56,446.90V461.70M277.86,885.60V877.80M277.86,446.90V454.70M287.17,885.60V877.80M287.17,446.90V454.70M296.47,885.60V877.80M296.47,446.90V454.70M305.77,885.60V870.80M305.77,446.90V461.70M315.08,885.60V877.80M315.08,446.90V454.70M324.38,885.60V877.80M324.38,446.90V454.70M333.68,885.60V877.80M333.68,446.90V454.70M342.98,885.60V870.80M342.98,446.90V461.70M352.29,885.60V877.80M352.29,446.90V454.70M361.59,885.60V877.80M361.59,446.90V454.70M370.89,885.60V877.80M370.89,446.90V454.70M380.19,885.60V870.80M380.19,446.90V461.70M389.50,885.60V877.80M389.50,446.90V454.70" fill="none" stroke="#000" stroke-width="2"/>
<rect x="63.90" y="446.90" width="334.90" height="438.70" fill="none" stroke="#000" stroke-width="2"/>
<text transform="translate(82.51,919.30) scale(1,1.030)" text-anchor="middle" fill="#000" stroke="#000" font-size="21.50" >-80</text>
<text transform="translate(119.72,919.30) scale(1,1.030)" text-anchor="middle" fill="#000" stroke="#000" font-size="21.50" >-60</text>
<text transform="translate(156.93,919.30) scale(1,1.030)" text-anchor="middle" fill="#000" stroke="#000" font-size="21.50" >-40</text>
<text transform="translate(194.14,919.30) scale(1,1.030)" text-anchor="middle" fill="#000" stroke="#000" font-size="21.50" >-20</text>
<text transform="translate(231.35,919.30) scale(1,1.030)" text-anchor="middle" fill="#000" stroke="#000" font-size="21.50" >0</text>
<text transform="translate(268.56,919.30) scale(1,1.030)" text-anchor="middle" fill="#000" stroke="#000" font-size="21.50" >20</text>
<text transform="translate(305.77,919.30) scale(1,1.030)" text-anchor="middle" fill="#000" stroke="#000" font-size="21.50" >40</text>
<text transform="translate(342.98,919.30) scale(1,1.030)" text-anchor="middle" fill="#000" stroke="#000" font-size="21.50" >60</text>
<text transform="translate(380.19,919.30) scale(1,1.030)" text-anchor="middle" fill="#000" stroke="#000" font-size="21.50" >80</text>
<text transform="translate(231.30,946.00) scale(1,1.030)" text-anchor="middle" fill="#000" stroke="#000" font-size="21.00" >Detector Angle (Deg)</text>
<text transform="translate(35.4,661.0) rotate(-90) scale(1.033,1)" text-anchor="middle" stroke="#000" font-size="21.50">Normalized Angle-Resolved Reflectance</text>
<text transform="translate(83.10,481.40) scale(1,1.030)" text-anchor="start" fill="#000" stroke="#000" font-size="21.50" >(b)</text>
<text transform="translate(141.80,481.00) scale(1,1.030)" text-anchor="start" fill="#000" stroke="#000" font-size="21.90" >Angle of incidence (Deg)</text>
<text transform="translate(74.50,528.60) scale(1,1.030)" text-anchor="start" fill="#000" stroke="#000" font-size="21.50" >20</text>
<text transform="translate(98.05,518.15) scale(1.09,0.87)" font-size="14" stroke="#000">o</text>
<text transform="translate(74.90,601.50) scale(1,1.030)" text-anchor="start" fill="#000" stroke="#000" font-size="21.50" >15</text>
<text transform="translate(98.45,591.15) scale(1.09,0.87)" font-size="14" stroke="#000">o</text>
<text transform="translate(74.90,675.90) scale(1,1.030)" text-anchor="start" fill="#000" stroke="#000" font-size="21.50" >10</text>
<text transform="translate(98.45,665.65) scale(1.09,0.87)" font-size="14" stroke="#000">o</text>
<text transform="translate(83.90,749.80) scale(1,1.030)" text-anchor="start" fill="#000" stroke="#000" font-size="21.50" >5</text>
<text transform="translate(96.05,738.65) scale(1.09,0.87)" font-size="14" stroke="#000">o</text>
<text transform="translate(83.90,823.60) scale(1,1.030)" text-anchor="start" fill="#000" stroke="#000" font-size="21.50" >0</text>
<text transform="translate(95.60,812.15) scale(1.09,0.87)" font-size="14" stroke="#000">o</text>
<text transform="translate(321.60,527.00) scale(1,1.030)" text-anchor="start" fill="#7b7bea" stroke="#7b7bea" font-size="21.35" >Ideal, Inverted - Sim.</text>
<text transform="translate(322.50,548.80) scale(1,1.030)" text-anchor="start" fill="#e0101a" stroke="#e0101a" font-size="21.35" >Real, Inverted - Sim.</text>
<text transform="translate(321.80,569.60) scale(1,1.030)" text-anchor="start" fill="#000" stroke="#000" font-size="21.35" >Measured</text>
</svg>
</body></html>
